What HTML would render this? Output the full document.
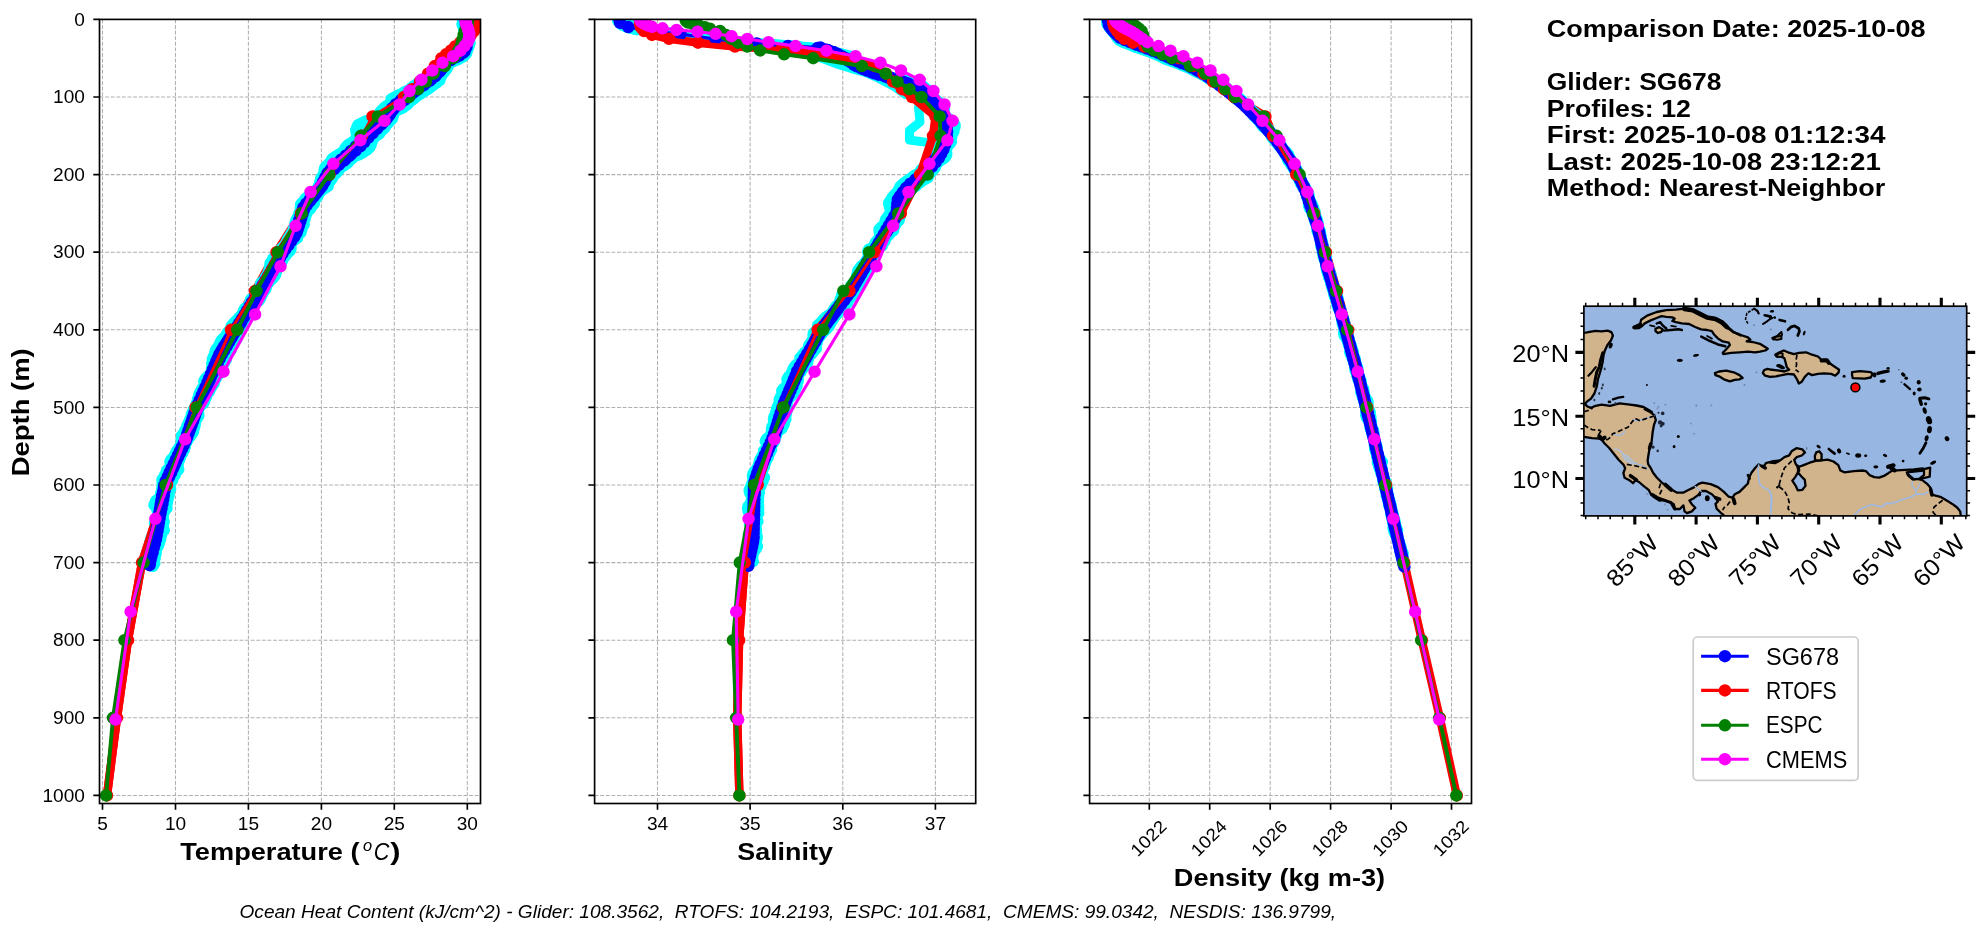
<!DOCTYPE html>
<html><head><meta charset="utf-8"><title>Glider comparison</title>
<style>html,body{margin:0;padding:0;background:#fff;overflow:hidden}svg{display:block;will-change:transform}text{font-family:"Liberation Sans",sans-serif}</style>
</head><body>
<svg width="1984" height="934" viewBox="0 0 1984 934">
<rect width="1984" height="934" fill="#fff"/>
<path d="M102.5 19.4V803.5M175.5 19.4V803.5M248.4 19.4V803.5M321.4 19.4V803.5M394.3 19.4V803.5M467.3 19.4V803.5M99.5 19.4H480.5M99.5 97.0H480.5M99.5 174.6H480.5M99.5 252.2H480.5M99.5 329.8H480.5M99.5 407.4H480.5M99.5 485.0H480.5M99.5 562.6H480.5M99.5 640.2H480.5M99.5 717.8H480.5M99.5 795.4H480.5" stroke="#b0b0b0" stroke-width="1.05" stroke-dasharray="3.9 1.7" fill="none"/>
<path d="M657.5 19.4V803.5M750.1 19.4V803.5M842.8 19.4V803.5M935.4 19.4V803.5M594.6 19.4H975.7M594.6 97.0H975.7M594.6 174.6H975.7M594.6 252.2H975.7M594.6 329.8H975.7M594.6 407.4H975.7M594.6 485.0H975.7M594.6 562.6H975.7M594.6 640.2H975.7M594.6 717.8H975.7M594.6 795.4H975.7" stroke="#b0b0b0" stroke-width="1.05" stroke-dasharray="3.9 1.7" fill="none"/>
<path d="M1149.3 19.4V803.5M1209.7 19.4V803.5M1270.2 19.4V803.5M1330.6 19.4V803.5M1391.1 19.4V803.5M1451.5 19.4V803.5M1089.6 19.4H1471.5M1089.6 97.0H1471.5M1089.6 174.6H1471.5M1089.6 252.2H1471.5M1089.6 329.8H1471.5M1089.6 407.4H1471.5M1089.6 485.0H1471.5M1089.6 562.6H1471.5M1089.6 640.2H1471.5M1089.6 717.8H1471.5M1089.6 795.4H1471.5" stroke="#b0b0b0" stroke-width="1.05" stroke-dasharray="3.9 1.7" fill="none"/>
<defs>
<clipPath id="cp0"><rect x="99.5" y="19.4" width="381.0" height="784.1"/></clipPath>
<clipPath id="cp1"><rect x="594.6" y="19.4" width="381.1" height="784.1"/></clipPath>
<clipPath id="cp2"><rect x="1089.6" y="19.4" width="381.9" height="784.1"/></clipPath>
</defs>
<g clip-path="url(#cp0)">
<polyline points="476.5,19.4 476.5,21.0 476.3,22.5 476.0,24.1 475.8,25.6 475.5,27.2 475.0,28.7 474.0,31.0 471.0,34.9 466.0,38.8 460.0,42.7 455.0,46.6 451.0,50.4 446.0,54.3 441.5,58.2 435.0,66.0 428.0,73.7 420.0,81.5 412.0,89.2 404.0,97.0 372.5,116.4 362.0,135.8 329.5,174.6 301.0,213.4 276.5,252.2 255.0,291.0 231.0,329.8 195.5,407.4 167.0,485.0 142.0,562.6 128.0,640.2 117.0,717.8 107.0,795.4" fill="none" stroke="#ff0000" stroke-width="8.4" stroke-linecap="round" stroke-linejoin="round" />
<polyline points="464.8,21.5 465.3,23.7 467.7,25.8 468.9,27.9 470.0,30.0 468.4,32.1 466.9,34.2 464.6,36.3 465.0,38.4 464.8,40.5 464.9,42.7 465.5,44.9 465.0,47.1 464.0,49.3 462.1,51.6 461.6,54.0 458.0,56.6 453.0,59.3 447.0,62.2 445.8,65.2 445.1,68.4 443.7,71.5 441.5,74.6 440.4,77.6 439.3,80.5 435.5,83.3 431.8,86.0 428.5,88.6 424.6,91.0 421.0,93.3 417.5,95.4 414.7,97.4 412.0,99.3 408.0,101.1 405.1,102.8 402.4,104.6 398.8,106.3 395.7,108.1 391.2,110.0 391.0,111.9 391.4,114.0 392.8,116.2 392.2,118.5 388.0,121.0 383.8,123.6 381.1,126.3 379.4,129.1 377.8,132.0 375.1,134.9 372.9,137.8 370.4,140.7 366.4,143.5 363.9,146.2 360.1,148.8 359.1,151.2 354.6,153.5 352.0,155.7 350.2,157.7 349.9,159.6 346.6,161.4 343.5,163.1 340.9,164.7 339.7,166.3 336.6,167.9 332.7,169.6 330.5,171.3 328.2,173.2 328.0,175.1 326.3,177.3 324.0,179.6 323.1,182.1 322.7,184.7 322.8,187.5 319.9,190.4 317.6,193.5 314.1,196.6 312.5,199.7 309.7,202.8 306.7,205.9 304.5,208.9 303.2,211.9 302.3,214.6 299.2,217.3 298.2,219.3 300.7,221.2 303.6,223.0 303.9,224.6 302.0,226.2 300.3,227.8 300.0,229.5 298.8,231.2 298.8,232.9 296.9,234.9 294.6,237.0 291.0,239.1 289.1,241.3 287.7,243.5 286.9,245.8 285.6,248.1 284.1,250.5 282.0,253.0 281.1,255.5 282.2,258.0 282.1,260.6 280.9,263.1 277.7,265.7 276.6,268.2 276.0,270.7 275.9,273.1 274.9,275.4 272.9,277.7 269.3,280.0 265.7,282.2 263.5,284.3 262.9,286.4 262.9,288.5 260.6,290.5 259.0,292.6 256.1,294.7 254.7,296.8 252.6,299.0 252.1,301.2 251.0,303.5 249.2,305.9 247.9,308.4 246.5,311.0 246.3,313.6 246.5,316.3 245.2,319.0 244.5,321.7 242.1,324.5 241.5,327.2 240.0,329.9 238.5,332.6 236.8,335.1 235.4,337.6 234.2,340.0 233.4,342.3 230.8,344.5 228.8,346.6 225.6,348.6 223.7,350.5 221.7,352.3 219.7,354.1 217.7,355.9 217.8,357.7 217.7,359.6 218.4,361.4 217.3,363.4 217.6,365.4 217.3,367.6 217.6,369.8 216.0,372.2 214.7,374.7 212.9,377.3 211.5,380.0 208.6,382.7 206.1,385.5 202.3,388.4 200.9,391.2 199.4,394.0 200.2,396.8 200.8,399.6 200.4,402.3 199.2,404.8 195.9,407.3 193.8,409.7 194.2,411.9 194.9,414.1 196.7,416.2 194.7,418.2 193.4,420.1 193.9,422.0 193.9,423.9 193.3,425.8 189.8,427.7 190.0,429.7 188.7,431.7 187.4,433.8 186.0,436.0 185.2,438.3 184.5,440.7 182.3,443.2 181.2,445.7 181.4,448.4 180.3,451.1 180.4,453.8 179.1,456.5 178.1,459.3 176.0,462.0 174.3,464.6 175.0,467.2 174.8,469.7 174.6,472.2 172.4,474.5 173.1,476.7 172.5,478.9 172.1,480.9 169.0,482.9 167.9,484.9 168.4,486.8 166.6,488.7 164.4,490.5 161.1,492.4 161.0,494.4 161.9,496.4 162.2,498.5 161.9,500.7 161.5,502.9 161.7,505.3 160.6,507.7 160.3,510.3 159.2,512.9 160.2,515.6 160.4,518.3 159.9,521.1 161.0,523.9 161.0,526.6 160.6,529.4 159.3,532.1 157.2,534.8 158.0,537.4 157.4,540.0 155.4,542.4 152.9,544.8 151.0,547.1 151.9,549.3 152.0,551.4 151.5,553.5 151.9,555.5 151.0,557.5" fill="none" stroke="#00ffff" stroke-width="12.0" stroke-linecap="round" stroke-linejoin="round" />
<polyline points="465.3,19.4 464.2,19.9 464.5,22.4 462.9,24.8 464.6,27.2 464.3,29.6 466.8,32.0 465.9,34.4 464.8,36.8 463.6,39.2 463.4,41.6 464.7,44.0 464.6,46.2 464.1,48.4 462.8,50.6 461.5,52.9 455.1,55.2 449.9,57.5 444.8,59.8 444.6,62.0 442.9,64.3 440.7,66.6 438.1,68.9 436.3,71.2 433.6,73.3 430.4,75.4 426.2,77.5 423.1,79.4 421.2,81.4 418.1,83.2 415.7,85.0 412.9,86.8 410.8,88.5 409.0,90.2 404.6,92.0 402.9,93.7 398.4,95.4 395.0,97.2 391.5,99.0 391.4,100.9 390.4,102.8 389.0,104.8 385.4,106.9 383.4,109.0 381.1,111.1 379.4,113.3 378.1,115.6 376.3,117.9 373.1,120.3 369.9,122.7 366.8,125.1 367.1,127.6 365.1,130.1 362.4,132.6 358.6,135.1 357.7,137.7 354.8,140.3 351.6,142.9 347.4,145.6 345.4,148.2 344.4,150.9 340.6,153.7 336.0,156.4 332.0,159.2 330.9,161.9 328.0,164.7 325.2,167.5 324.4,170.3 324.6,173.1 324.3,175.8 322.7,178.5 322.5,181.2 321.1,183.8 319.3,186.3 317.9,188.8 315.2,191.2 313.1,193.6 311.0,195.9 309.0,198.1 306.5,200.3 303.0,202.4 300.9,204.5 301.7,206.6 301.7,208.9 302.8,211.2 300.9,213.5 299.7,215.9 297.2,218.3 296.0,220.8 295.2,223.3 295.3,225.9 293.8,228.5 293.3,230.8 291.5,233.1 290.5,235.4 288.8,237.7 287.4,240.1 286.5,242.4 285.2,244.8 283.3,247.1 281.0,249.5 280.3,251.9 278.9,254.2 276.9,256.6 274.9,259.0 274.0,261.4 273.9,263.7 272.0,266.1 270.7,268.5 269.4,270.9 268.8,273.3 267.8,275.7 265.5,278.1 263.9,280.6 261.1,283.0 260.6,285.4 259.6,287.8 258.8,290.2 257.3,292.6 254.6,295.0 253.5,297.3 250.8,299.6 251.8,301.9 251.0,304.2 249.6,306.4 244.9,308.6 243.7,310.8 243.0,313.0 244.0,315.1 240.7,317.2 240.0,319.3 237.6,321.4 237.4,323.4 235.5,325.5 235.4,327.6 232.6,329.7 232.0,331.8 229.2,334.0 228.4,336.1 224.6,338.3 221.7,340.5 220.5,342.7 219.3,345.0 218.9,347.3 216.5,349.6 215.8,351.9 215.4,354.2 213.7,356.6 212.7,359.0 212.5,361.4 212.1,363.8 212.7,366.2 211.7,368.6 212.6,371.0 211.4,373.5 208.6,376.0 205.9,378.5 204.1,381.0 205.2,383.5 204.7,386.0 203.4,388.6 201.7,391.2 199.8,393.7 199.3,396.3 197.8,398.9 197.6,401.5 196.3,404.1 195.7,406.6 194.0,409.2 193.3,411.7 191.7,414.2 191.4,416.7 190.3,419.1 189.6,421.5 188.1,423.9 187.1,426.2 186.9,428.5 184.9,430.8 185.4,433.0 182.7,435.3 183.5,437.4 181.5,439.6 182.8,441.8 182.0,444.0 181.1,446.1 179.4,448.3 178.7,450.5 179.2,452.7 178.2,454.8 174.8,457.0 171.5,459.3 170.3,461.5 173.0,463.7 171.6,466.0 169.9,468.2 166.8,470.5 166.6,472.7 164.9,475.0 164.3,477.3 162.3,479.5 162.4,481.8 162.6,484.1 162.4,486.4 162.2,488.7 162.4,491.1 163.0,493.4 162.3,495.7 160.4,498.1 160.9,500.5 160.2,502.9 159.7,505.3 157.6,507.7 157.4,510.2 158.3,512.6 158.7,515.0 158.6,517.5 157.4,519.9 156.4,522.3 155.2,524.7 155.2,527.1 155.8,529.4 155.6,531.8 154.8,534.1 154.8,536.3 155.4,538.6 154.7,540.8 152.3,543.0 151.4,545.2 149.2,547.4 150.5,549.5 150.1,551.7 152.0,553.8" fill="none" stroke="#00ffff" stroke-width="12.0" stroke-linecap="round" stroke-linejoin="round" />
<polyline points="462.9,20.3 463.2,22.5 462.5,24.7 463.8,26.9 464.8,29.2 466.7,31.5 468.7,33.8 466.6,36.1 467.8,38.4 468.2,40.8 469.7,43.1 468.3,45.5 467.1,48.0 465.6,50.5 465.7,53.1 463.1,55.7 459.1,58.2 453.6,60.8 449.0,63.3 448.0,65.8 446.8,68.2 445.2,70.4 441.9,72.5 438.5,74.6 435.9,76.6 432.5,78.6 429.3,80.6 426.3,82.6 424.3,84.6 421.0,86.6 417.4,88.7 412.8,90.8 410.3,92.9 407.2,95.2 404.1,97.5 399.9,99.9 398.5,102.3 395.5,104.9 394.7,107.6 391.1,110.3 391.8,113.1 390.3,116.0 391.4,118.9 389.1,121.8 386.2,124.8 384.5,127.8 381.2,130.7 379.2,133.7 374.8,136.5 372.8,139.4 371.5,142.1 370.8,144.7 369.4,147.3 367.0,149.7 363.2,152.0 359.3,154.3 353.6,156.4 350.2,158.4 349.1,160.4 348.1,162.3 345.9,164.1 342.7,165.9 338.9,167.6 336.1,169.4 333.4,171.2 331.8,173.0 329.7,174.8 327.5,176.8 327.0,178.8 326.5,180.8 326.4,183.0 324.2,185.3 322.1,187.7 319.6,190.1 318.5,192.6 316.4,195.2 315.4,197.9 314.2,200.6 314.2,203.3 311.7,206.0 310.3,208.7 307.0,211.3 306.4,213.9 304.5,216.2 304.9,218.4 302.4,220.5 301.3,222.5 297.8,224.5 298.3,226.3 297.6,228.2 298.4,230.1 295.2,231.9 294.5,233.9 292.8,235.8 292.9,237.7 292.2,239.6 289.9,241.5 287.6,243.4 285.6,245.3 283.4,247.2 282.7,249.2 279.8,251.3 279.7,253.4 278.8,255.6 279.1,257.8 279.7,260.1 279.7,262.6 277.8,265.1 275.3,267.6 274.0,270.3 274.0,273.0 274.2,275.8 270.6,278.6 268.9,281.5 265.4,284.4 264.7,287.3 263.4,290.2 262.0,293.1 260.0,296.0 257.4,298.8 255.4,301.6 254.0,304.4 251.8,307.1 250.7,309.7 248.8,312.3 247.4,314.7 245.8,317.2 244.8,319.5 243.5,321.8 241.2,324.1 237.7,326.3 237.1,328.4 236.0,330.6 236.5,332.7 236.2,334.8 236.9,336.9 236.7,339.0 234.6,341.1 231.9,343.3 232.3,345.5 231.0,347.7 230.9,350.0 227.4,352.3 227.1,354.6 225.6,357.0 226.1,359.4 224.6,361.8 223.1,364.3 221.8,366.7 220.3,369.2 218.2,371.7 214.5,374.1 213.1,376.6 210.9,379.0 210.3,381.3 208.9,383.7 208.4,385.9 208.4,388.2 205.5,390.3 204.9,392.4 201.9,394.5 201.2,396.5 199.6,398.4 200.8,400.4 202.5,402.2 202.1,404.1 200.3,405.9 198.1,407.8 196.8,409.6 197.0,411.4 196.7,413.3 197.6,415.2 195.9,417.1 194.8,419.1 193.1,421.2 192.4,423.2 193.3,425.4 193.7,427.6 192.7,429.9 190.1,432.2 186.3,434.6 185.8,437.0 184.2,439.5 184.9,442.0 183.5,444.5 182.4,447.1 180.2,449.7 181.0,452.2 179.0,454.8 179.2,457.4 176.0,460.0 174.6,462.6 172.2,465.2 170.9,467.7 171.1,470.3 170.3,472.8 168.2,475.3 166.8,477.8 165.8,480.3 166.7,482.8 167.3,485.3 168.0,487.8 168.6,490.3 168.6,492.8 168.8,495.3 167.9,497.8 166.6,500.4 167.0,503.0 165.8,505.6 166.6,508.2 163.8,510.9 163.3,513.6 161.9,516.3 162.6,518.9 163.8,521.6 162.0,524.3 160.3,527.0 157.9,529.6 157.4,532.2 157.6,534.8 156.5,537.3 156.9,539.8 155.2,542.2 154.4,544.6 152.7,546.9 152.5,549.2 153.2,551.3 154.2,553.5 153.7,555.5 151.8,557.5 150.7,559.5 152.2,561.4 154.5,563.3" fill="none" stroke="#00ffff" stroke-width="12.0" stroke-linecap="round" stroke-linejoin="round" />
<polyline points="465.1,19.4 464.1,21.5 464.3,23.7 463.5,26.0 465.3,28.3 466.0,30.6 467.8,33.0 468.0,35.4 467.0,37.8 466.1,40.2 464.6,42.5 464.7,44.7 465.2,46.8 465.6,48.7 465.1,50.5 462.2,52.1 457.0,53.6 452.9,55.0 448.8,56.4 446.0,58.0 445.0,59.7 442.9,62.3 441.0,65.2 438.2,68.5 436.6,72.0 435.2,75.8 432.3,79.7 428.9,83.7 424.3,87.6 420.7,91.4 417.0,95.0 414.1,98.3 409.9,101.3 407.6,103.9 404.6,106.1 402.4,107.9 398.0,109.5 394.1,110.8 391.4,111.9 388.4,113.0 386.5,114.1 383.9,115.3 383.7,116.6 382.1,118.2 381.2,120.0 377.4,122.1 376.8,124.4 374.0,126.9 374.1,129.6 370.8,132.3 369.7,135.0 367.2,137.6 366.1,140.1 362.5,142.5 361.2,144.6 358.9,146.6 356.2,148.4 353.2,150.1 350.3,151.7 349.4,153.3 345.9,155.0 343.1,156.9 340.2,159.0 337.0,161.4 335.1,164.1 331.2,167.1 328.7,170.5 324.5,174.1 321.2,177.9 320.3,181.8 319.3,185.7 318.6,189.6 317.0,193.4 315.7,196.8 314.4,200.0 310.7,202.8 307.0,205.2 306.0,207.2 305.5,208.9 305.4,210.2 304.7,211.3 303.5,212.3 303.9,213.3 303.9,214.1 304.6,215.3 303.8,216.7 301.4,218.4 301.6,220.4 300.7,222.6 301.5,225.0 301.3,227.5 301.4,230.1 300.6,232.5 297.6,235.0 296.7,237.4 294.3,239.7 291.6,241.9 288.6,244.1 286.3,246.2 284.1,248.2 281.5,250.2 278.6,252.2 276.6,254.1 275.5,256.2 273.3,258.3 272.5,260.6 270.5,263.0 270.1,265.6 269.6,268.3 268.9,271.2 267.7,274.2 265.7,277.3 264.8,280.5 263.1,283.7 262.1,286.9 260.4,290.0 260.9,292.9 261.3,295.8 260.1,298.4 258.5,300.9 255.0,303.2 254.4,305.3 253.8,307.3 251.5,309.2 251.0,311.0 250.1,312.8 248.3,314.6 244.4,316.5 241.8,318.4 241.9,320.5 241.9,322.6 239.2,324.8 237.8,327.1 233.6,329.4 231.8,331.8 228.2,334.2 226.6,336.5 223.0,338.8 221.2,341.0 220.9,343.1 220.3,345.0 219.1,346.9 217.0,348.7 215.8,350.5 215.4,352.2 215.4,354.0 215.7,355.9 214.0,357.8 214.6,359.9 214.7,362.1 215.9,364.6 214.4,367.2 213.7,369.9 212.0,372.8 211.5,375.9 211.2,379.0 212.1,382.1 212.2,385.2 210.2,388.3 209.3,391.2 206.7,394.1 206.1,396.8 202.8,399.3 201.4,401.7 198.8,403.9 198.5,406.1 195.8,408.2 195.0,410.2 192.9,412.2 192.9,414.3 191.9,416.4 191.3,418.6 189.7,420.8 189.4,423.2 188.9,425.7 188.1,428.2 187.5,430.7 186.2,433.3 186.5,435.8 185.5,438.2 185.7,440.5 185.9,442.8 184.1,444.9 184.6,446.8 182.1,448.7 183.7,450.4 182.4,452.1 181.9,453.8 180.3,455.5 178.6,457.2 177.7,459.0 177.1,461.0 176.9,463.1 176.6,465.4 175.4,467.8 173.1,470.5 171.0,473.2 169.1,476.1 166.7,479.0 165.9,482.0 164.3,485.0 164.1,487.9 162.7,490.7 161.5,493.4 160.8,496.0 159.6,498.4 156.2,500.7 155.2,502.9 154.4,505.0 157.6,507.1 157.6,509.1 158.8,511.2 158.7,513.3 159.9,515.5 159.1,517.8 160.3,520.1 160.3,522.6 161.6,525.2 159.3,527.8 160.0,530.4 159.9,533.0 161.1,535.6 159.1,538.1 159.5,540.4 159.2,542.7 158.5,544.8 157.6,546.8 154.7,548.7 154.4,550.4 152.3,552.1 152.5,553.8 150.2,555.5" fill="none" stroke="#00ffff" stroke-width="12.0" stroke-linecap="round" stroke-linejoin="round" />
<polyline points="465.1,20.9 465.0,23.0 465.1,25.1 465.1,27.2 466.4,29.4 466.6,31.6 468.0,33.8 467.7,36.0 469.6,38.3 468.5,40.6 468.3,43.0 466.6,45.4 466.7,47.9 465.5,50.5 466.2,53.2 463.7,56.0 458.7,58.9 451.8,61.8 446.5,64.8 445.1,67.8 444.8,70.8 443.0,73.3 439.6,75.8 436.3,78.1 435.4,80.3 434.8,82.3 431.7,84.2 428.5,86.0 424.6,87.7 420.8,89.2 417.6,90.7 414.0,92.1 412.3,93.5 408.8,94.9 407.9,96.2 405.6,97.6 404.3,99.1 398.8,100.7 396.0,102.4 393.1,104.2 392.3,106.1 391.5,108.3 391.0,110.6 389.0,113.1 385.1,115.7 380.6,118.5 379.0,121.5 375.6,124.6 374.0,127.8 371.6,131.1 371.5,134.4 370.8,137.8 368.9,141.2 366.0,144.6 363.3,147.9 359.0,151.2 356.1,154.3 351.5,157.3 348.8,160.2 345.8,163.0 343.1,165.6 339.9,168.1 338.6,170.4 336.5,172.6 334.1,174.6 328.5,176.6 326.8,178.4 326.6,180.3 328.0,182.0 327.2,183.8 325.8,185.6 324.5,187.4 322.5,189.3 320.5,191.2 318.0,193.3 315.3,195.5 313.7,197.8 310.9,200.2 309.7,202.7 307.0,205.4 304.9,208.2 304.0,211.0 304.2,214.0 302.4,216.7 301.3,219.4 299.3,222.0 300.1,224.5 299.7,226.9 300.6,229.2 299.5,231.4 298.8,233.4 297.5,235.4 297.4,237.7 293.9,240.0 291.1,242.3 289.8,244.4 290.6,246.5 290.7,248.6 290.0,250.5 287.5,252.5 286.5,254.3 284.8,256.2 283.5,258.0 281.6,259.8 280.4,261.7 278.8,263.5 276.9,265.4 276.1,267.3 275.8,269.3 275.2,271.3 273.3,273.4 270.4,275.6 268.7,277.8 266.9,280.1 267.4,282.5 265.3,284.9 263.0,287.4 259.7,289.9 259.3,292.5 258.1,295.1 258.0,297.7 255.6,300.3 254.3,303.0 251.0,305.6 249.2,308.2 248.1,310.8 246.9,313.3 246.1,315.9 243.5,318.3 241.3,320.7 238.8,323.1 237.3,325.5 235.5,327.8 234.0,330.0 233.2,332.2 233.3,334.4 234.4,336.6 232.2,338.8 231.3,341.0 228.6,343.2 228.6,345.4 227.2,347.6 226.9,349.8 225.0,352.1 222.2,354.5 220.0,356.8 219.4,359.2 219.2,361.7 217.3,364.2 216.0,366.7 215.2,369.3 214.8,371.9 212.9,374.5 212.5,377.2 210.9,379.8 211.3,382.5 210.1,385.1 209.8,387.7 208.1,390.4 206.2,392.9 205.5,395.5 205.4,398.0 204.3,400.5 203.6,402.9 200.3,405.2 198.5,407.6 195.8,409.8 196.8,412.1 197.1,414.2 197.2,416.4 196.7,418.5 194.7,420.6 193.7,422.6 190.5,424.6 191.2,426.7 191.5,428.7 192.7,430.7 191.4,432.7 190.6,434.8 189.2,436.8 188.1,438.9 186.7,441.0 185.6,443.2 184.6,445.4 184.6,447.6 183.3,449.8 182.6,452.1 180.3,454.3 179.2,456.7 177.5,459.0 176.6,461.4 176.7,463.8 175.8,466.2 174.3,468.6 172.3,471.0 172.8,473.4 172.7,475.8 172.7,478.2 169.6,480.6 167.1,483.0 165.5,485.3 166.2,487.7 165.9,490.0 164.6,492.3 164.2,494.6 164.5,496.9 163.2,499.2 161.5,501.4 159.1,503.7 159.1,505.9 159.8,508.1 161.1,510.4 161.8,512.6 161.1,514.8 161.0,517.1 159.9,519.3 159.7,521.6 158.1,523.9 158.6,526.2 156.6,528.5 156.9,530.9 155.5,533.3 156.3,535.8 155.9,538.2 155.6,540.7 154.5,543.2 154.0,545.8 155.0,548.4 155.1,550.9 155.6,553.5 155.1,556.2 154.6,558.8" fill="none" stroke="#00ffff" stroke-width="12.0" stroke-linecap="round" stroke-linejoin="round" />
<polyline points="465.4,19.6 464.6,21.9 465.3,24.1 464.9,26.3 465.7,28.6 465.5,30.8 466.9,33.0 466.2,35.1 465.2,37.3 464.0,39.5 465.8,41.7 465.9,43.9 466.1,45.8 465.1,47.8 465.6,49.7 465.3,51.6 460.5,53.5 456.1,55.5 449.1,57.6 447.7,59.7 446.4,61.9 447.0,64.6 444.3,67.3 442.5,70.0 440.8,72.7 438.5,75.5 434.4,78.3 429.8,81.0 426.4,83.8 423.2,86.5 419.3,89.1 415.3,91.7 412.1,94.2 409.7,96.7 408.5,99.1 405.5,101.4 402.2,103.6 397.1,105.8 394.2,107.9 392.1,109.9 390.1,111.9 389.8,113.9 387.2,115.9 387.6,117.8 385.8,119.8 384.6,121.7 380.4,123.7 376.0,125.8 372.6,127.9 370.6,130.1 368.4,132.3 366.0,134.6 364.8,137.0 362.2,139.4 361.1,142.0 358.5,144.5 354.9,147.2 351.4,149.9 348.2,152.6 346.9,155.4 345.1,158.1 342.2,160.9 339.1,163.7 336.3,166.4 333.0,169.1 330.3,171.7 328.9,174.3 329.1,176.8 327.7,179.2 327.8,181.5 328.1,183.8 328.0,186.0 324.8,188.1 321.1,190.2 319.6,192.1 318.2,194.1 317.8,196.0 315.1,197.9 313.9,199.8 310.8,201.7 310.7,203.6 308.7,205.5 307.8,207.5 304.7,209.7 303.3,212.0 301.1,214.4 303.2,216.8 302.5,219.3 302.5,221.9 299.2,224.5 298.6,227.2 298.3,229.8 296.0,232.3 294.9,234.8 292.8,237.3 292.3,239.8 291.0,242.3 289.4,244.8 287.2,247.3 283.6,249.8 282.5,252.2 281.9,254.6 281.4,257.0 278.7,259.4 277.6,261.7 275.9,264.0 275.2,266.3 274.9,268.5 274.5,270.7 273.9,272.9 272.4,275.0 272.4,277.1 270.3,279.3 269.0,281.4 266.6,283.5 266.4,285.7 265.5,287.8 264.7,290.0 263.1,292.2 261.7,294.4 259.6,296.7 258.6,299.0 255.3,301.4 254.0,303.7 253.0,306.2 252.3,308.6 250.8,311.1 249.8,313.6 248.7,316.1 246.9,318.6 245.9,321.2 244.0,323.7 241.3,326.2 237.5,328.8 236.3,331.3 235.5,333.8 234.0,336.2 231.9,338.7 230.8,341.0 229.6,343.4 228.1,345.7 227.2,348.0 228.1,350.3 227.2,352.5 225.2,354.7 220.9,356.9 218.8,359.0 216.2,361.2 215.5,363.3 213.5,365.5 213.9,367.6 214.5,369.8 215.0,372.0 215.3,374.2 212.0,376.4 211.1,378.7 208.2,381.0 208.3,383.4 206.0,385.7 205.2,388.1 204.1,390.6 203.5,393.0 203.6,395.5 203.4,398.0 204.0,400.6 201.9,403.1 200.1,405.6 197.5,408.1 197.8,410.6 198.3,413.1 198.5,415.6 196.6,418.0 195.2,420.4 194.7,422.8 194.9,425.1 193.8,427.4 193.4,429.6 193.1,431.9 191.7,434.0 190.2,436.2 188.3,438.4 187.0,440.5 185.1,442.6 184.0,444.7 184.6,446.8 183.3,448.9 181.6,451.1 179.3,453.2 178.3,455.4 176.3,457.6 175.9,459.9 174.8,462.1 175.1,464.5 173.8,466.8 172.6,469.2 170.4,471.6 168.3,474.1 167.2,476.5 166.3,479.0 165.6,481.5 164.2,484.0 164.2,486.6 163.7,489.1 164.7,491.6 165.2,494.1 166.8,496.5 167.3,499.0 167.2,501.4 165.7,503.7 164.7,506.1 164.3,508.4 163.9,510.7 163.7,512.9 162.5,515.1 162.8,517.3 161.8,519.5 161.8,521.6 160.9,523.8 163.1,525.9 163.2,528.1 163.9,530.2 160.7,532.4 160.6,534.6 159.2,536.8 160.3,539.0 158.8,541.3 157.5,543.6 156.6,546.0 156.1,548.4 155.2,550.8 153.7,553.2 152.1,555.7 152.8,558.2 152.0,560.7" fill="none" stroke="#00ffff" stroke-width="12.0" stroke-linecap="round" stroke-linejoin="round" />
<polyline points="463.1,20.9 462.6,23.2 463.8,25.5 464.9,27.8 465.9,30.1 465.5,32.4 465.4,34.7 466.5,36.9 467.0,39.2 467.8,41.4 467.6,43.7 468.8,45.9 468.0,48.3 466.6,50.7 466.3,53.0 463.4,55.3 458.7,57.5 452.9,59.6 450.2,61.7 448.8,63.7 446.1,65.7 443.7,67.6 441.7,69.6 440.9,71.6 437.5,73.6 433.3,75.7 429.9,77.7 427.4,79.8 425.5,81.9 421.6,84.0 419.3,86.1 415.8,88.3 413.0,90.5 407.6,92.7 403.9,95.0 400.0,97.2 398.5,99.6 395.1,101.9 393.7,104.3 392.4,106.7 391.7,109.1 389.7,111.6 387.2,114.0 384.8,116.5 383.3,119.1 382.5,121.6 381.6,124.2 378.6,126.7 375.0,129.3 372.2,131.9 369.2,134.5 369.2,137.2 367.2,139.8 366.1,142.4 363.2,145.0 360.5,147.6 357.2,150.3 354.9,152.9 352.8,155.5 352.4,158.0 349.1,160.6 346.0,163.2 341.0,165.7 338.6,168.2 336.3,170.7 335.0,173.2 332.5,175.6 332.1,178.0 330.6,180.4 327.6,182.8 324.6,185.2 322.9,187.5 320.4,189.8 318.9,192.0 315.6,194.3 313.5,196.5 310.9,198.7 310.0,200.8 308.7,203.0 305.9,205.1 304.4,207.2 301.5,209.3 301.1,211.4 299.2,213.4 299.6,215.4 298.4,217.5 298.0,219.6 297.7,221.7 295.7,223.9 295.0,226.1 294.2,228.3 295.9,230.5 295.5,232.7 294.3,234.9 292.9,237.2 292.0,239.4 291.5,241.6 290.0,243.8 288.6,246.1 288.3,248.3 286.7,250.6 286.8,252.8 283.7,255.1 283.1,257.4 279.5,259.7 278.0,262.0 276.7,264.4 276.5,266.7 276.4,269.1 274.9,271.4 273.6,273.8 272.9,276.2 272.0,278.6 269.5,281.0 267.3,283.4 265.9,285.9 265.8,288.3 262.8,290.8 260.6,293.2 257.7,295.7 257.2,298.2 256.1,300.6 254.1,303.1 252.0,305.6 250.6,308.1 249.3,310.5 246.3,313.0 243.2,315.5 240.0,318.0 239.3,320.4 238.2,322.9 238.0,325.3 237.3,327.8 236.3,330.2 234.7,332.7 233.2,335.1 231.5,337.5 231.3,339.9 229.5,342.3 227.8,344.7 225.5,347.1 224.9,349.4 225.5,351.8 225.4,354.1 224.1,356.4 221.8,358.7 221.3,361.0 220.1,363.3 220.5,365.6 220.4,367.9 221.3,370.1 219.1,372.4 218.1,374.6 214.6,376.8 215.1,379.1 213.6,381.3 213.8,383.5 211.6,385.7 208.8,387.9 207.1,390.1 205.6,392.3 203.6,394.5 202.2,396.6 201.6,398.8 200.7,401.0 199.9,403.2 198.4,405.4 195.4,407.6 194.4,409.8 193.2,412.0 194.1,414.2 192.8,416.4 192.5,418.6 193.0,420.9 190.8,423.1 188.0,425.4 187.5,427.6 187.9,429.9 189.3,432.1 187.5,434.4 187.2,436.7 186.5,439.0 186.1,441.3 185.3,443.6 183.8,446.0 182.0,448.3 180.6,450.6 180.4,453.0 180.1,455.3 180.0,457.7 179.1,460.1 177.1,462.5 177.9,464.8 177.5,467.2 178.4,469.6 176.0,472.0 175.3,474.4 172.3,476.9 171.3,479.3 168.3,481.7 168.7,484.1 169.2,486.5 170.3,488.9 169.1,491.4 167.6,493.8 165.7,496.2 166.8,498.6 165.6,501.1 164.4,503.5 163.3,505.9 161.8,508.3 161.6,510.7 160.0,513.1 160.3,515.5 157.8,517.9 157.1,520.3 154.8,522.7 155.1,525.1 155.1,527.5 155.2,529.9 155.0,532.3 153.3,534.7 151.7,537.0 151.0,539.4 150.3,541.8 150.4,544.1 149.5,546.5 148.3,548.9 147.7,551.2 146.8,553.6 147.2,555.9" fill="none" stroke="#00ffff" stroke-width="12.0" stroke-linecap="round" stroke-linejoin="round" />
<polyline points="466.2,19.4 465.4,20.2 466.0,22.5 464.8,24.8 465.8,27.1 464.3,29.4 464.6,31.8 466.1,34.1 467.7,36.5 468.0,38.9 467.9,41.3 466.3,43.7 467.0,45.8 464.2,47.9 465.1,50.1 463.3,52.4 459.5,54.8 454.4,57.2 448.8,59.7 447.6,62.3 446.6,64.9 446.8,67.7 444.2,70.5 441.7,73.3 437.0,76.1 433.0,78.9 430.0,81.7 427.1,84.5 425.2,87.2 421.7,90.0 418.1,92.7 413.6,95.4 410.8,98.1 408.8,100.7 406.6,103.4 402.1,105.9 398.5,108.5 394.2,111.0 393.7,113.5 391.4,115.9 390.1,118.3 386.3,120.7 384.1,123.0 382.5,125.3 379.8,127.6 378.0,129.8 375.5,131.9 373.6,134.1 370.9,136.1 368.8,138.2 366.9,140.2 364.4,142.2 360.3,144.2 357.5,146.2 356.5,148.1 356.8,150.0 355.0,151.9 352.7,153.8 348.8,155.7 347.4,157.5 346.1,159.4 343.7,161.3 340.6,163.2 338.5,165.1 336.5,167.0 333.5,168.9 329.6,170.8 329.0,172.8 328.3,174.7 327.0,176.7 326.3,178.8 324.4,180.8 323.7,182.9 320.4,185.0 319.7,187.2 317.6,189.4 316.0,191.6 312.8,193.8 308.9,196.1 305.7,198.5 304.4,200.8 302.2,203.2 302.3,205.6 300.6,208.4 301.7,211.1 300.4,213.8 300.8,216.6 299.2,219.3 300.3,222.0 298.4,224.7 297.4,227.4 294.5,230.0 295.0,232.5 293.4,235.0 293.4,237.5 290.7,240.0 288.5,242.5 287.3,244.9 287.1,247.4 286.3,249.9 284.7,252.4 281.3,254.9 281.0,257.3 279.0,259.8 279.4,262.2 277.5,264.7 276.6,267.1 275.1,269.5 273.6,272.0 272.1,274.4 270.9,276.8 270.4,279.1 269.0,281.5 266.8,283.9 264.4,286.2 262.4,288.6 262.5,290.9 260.0,293.2 258.7,295.5 254.7,297.8 254.3,300.1 252.0,302.4 251.0,304.7 248.5,307.0 247.8,309.2 247.0,311.5 246.3,313.8 244.6,316.0 242.3,318.3 237.9,320.5 234.9,322.8 233.1,325.0 233.4,327.3 231.6,329.6 228.4,331.8 226.8,334.1 227.8,336.4 227.5,338.6 227.8,340.9 225.0,343.2 225.3,345.5 223.9,347.7 222.9,350.0 220.8,352.3 219.1,354.6 219.7,356.9 218.6,359.2 218.5,361.6 217.1,363.9 218.9,366.2 217.4,368.5 217.5,370.8 215.7,373.2 216.7,375.5 216.2,377.8 213.9,380.1 213.0,382.5 210.8,384.8 211.0,387.1 206.7,389.4 206.7,391.8 205.1,394.1 205.8,396.4 203.2,398.7 202.7,401.0 199.3,403.3 198.2,405.6 195.4,407.9 196.2,410.2 196.3,412.5 195.2,414.8 194.0,417.1 190.9,419.4 191.1,421.7 190.1,423.9 190.8,426.2 190.6,428.5 188.0,430.8 184.8,433.0 182.0,435.3 182.9,437.6 182.7,439.9 182.6,442.2 181.4,444.4 179.9,446.7 178.4,449.0 176.7,451.3 175.7,453.6 174.6,455.9 174.1,458.3 174.6,460.6 172.7,462.9 170.8,465.3 169.8,467.6 169.7,470.0 169.8,472.4 168.2,474.8 166.3,477.2 164.5,479.6 163.9,482.0 164.3,484.4 164.7,486.8 164.7,489.3 165.3,491.7 165.0,494.2 164.4,496.6 163.7,499.1 163.3,501.5 162.2,504.0 160.2,506.5 160.6,509.0 160.6,511.4 161.1,513.9 159.4,516.4 159.4,518.9 157.7,521.3 158.3,523.8 158.0,526.2 158.8,528.7 157.2,531.1 155.2,533.5 155.6,535.9 155.9,538.3 156.9,540.7 155.4,543.1 154.2,545.5 155.3,547.8 154.7,550.1 155.7,552.4 154.0,554.7 154.3,557.0 153.5,559.3 152.5,561.5 153.3,563.8 152.9,566.0" fill="none" stroke="#00ffff" stroke-width="12.0" stroke-linecap="round" stroke-linejoin="round" />
<polyline points="466.3,19.4 467.7,19.4 466.3,21.0 467.0,23.4 465.2,25.9 465.6,28.4 466.7,31.0 467.1,33.6 467.8,36.3 467.0,38.9 465.5,41.6 463.6,44.3 463.0,46.8 462.3,49.5 462.9,52.3 458.6,55.1 455.2,57.9 449.6,60.7 443.2,63.4 439.7,66.0 438.5,68.4 440.3,70.4 438.7,72.3 435.6,74.0 432.4,75.6 429.8,77.1 428.9,78.5 426.6,79.9 424.6,81.3 420.4,82.7 417.7,84.2 415.5,85.8 414.2,87.4 412.3,89.2 408.4,91.2 403.3,93.3 401.2,95.5 398.6,97.9 397.5,100.5 393.4,103.2 391.2,106.0 389.4,108.9 389.7,111.9 387.4,114.9 383.9,118.0 380.5,121.0 377.6,123.9 375.5,126.8 372.8,129.6 370.3,132.3 367.5,134.9 363.9,137.3 361.6,139.6 361.1,141.7 358.7,143.7 356.5,145.6 353.0,147.4 353.0,149.1 349.0,150.8 346.6,152.4 341.8,154.1 340.7,155.7 337.3,157.4 335.0,159.3 333.0,161.2 331.2,163.2 329.7,165.5 327.8,167.8 328.9,170.3 327.5,173.0 326.1,175.9 322.5,178.8 320.8,181.9 319.4,185.1 318.3,188.4 316.3,191.7 314.3,195.0 311.9,198.3 309.6,201.5 308.3,204.7 304.6,207.7 304.0,210.6 302.3,213.3 304.1,215.6 302.7,217.8 302.2,219.8 299.5,221.7 298.8,223.5 299.0,225.2 299.4,227.0 299.2,228.8 299.2,230.6 297.8,232.4 295.9,234.2 291.4,236.0 289.2,237.8 287.8,239.7 288.3,241.6 287.1,243.6 284.7,245.6 282.7,247.7 280.7,249.9 279.0,252.2 277.5,254.6 275.7,257.0 275.0,259.5 272.8,262.1 272.6,264.7 271.0,267.4 270.8,270.1 269.4,272.8 269.1,275.5 268.0,278.2 266.4,280.8 265.3,283.5 262.8,286.0 262.2,288.6 259.0,291.0 259.2,293.4 257.3,295.7 257.6,298.0 254.2,300.2 252.3,302.4 249.2,304.5 248.4,306.6 246.9,308.7 245.8,310.7 244.0,312.8 242.1,315.0 239.8,317.1 237.8,319.3 235.6,321.6 233.5,323.9 231.4,326.3 231.3,328.7 230.1,331.2 230.0,333.8 228.1,336.5 226.1,339.1 224.8,341.9 222.9,344.6 222.4,347.4 219.7,350.1 220.2,352.9 219.5,355.6 220.1,358.2 219.0,360.8 220.8,363.4 221.3,365.8 219.1,368.2 215.0,370.4 211.5,372.6 211.7,374.7 212.0,376.7 212.8,378.6 210.4,380.5 208.6,382.3 207.1,384.1 206.9,385.8 205.6,387.6 203.5,389.3 203.2,391.1 202.4,392.9 201.6,394.8 199.3,396.8 199.2,398.8 198.3,400.9 197.8,403.1 197.4,405.4 196.6,407.7 195.5,410.2 193.8,412.7 193.0,415.3 193.7,417.9 191.3,420.6 190.9,423.4 190.7,426.1 192.3,428.8 190.1,431.6 187.3,434.3 186.3,436.9 186.0,439.5 185.6,442.1 183.0,444.5 183.3,447.0 181.8,449.3 181.3,451.6 179.4,453.9 177.7,456.0 176.7,458.2 176.3,460.3 175.0,462.4 174.2,464.5 172.4,466.6 172.8,468.7 171.8,470.9 171.2,473.1 170.9,475.4 169.9,477.7 168.5,480.1 166.0,482.5 165.5,485.0 164.4,487.6 164.0,490.2 164.6,492.9 164.5,495.6 162.9,498.3 161.1,501.1 160.0,503.8 161.1,506.5 159.8,509.2 158.3,511.8 158.1,514.4 157.2,516.9 157.7,519.3 156.0,521.6 155.7,523.9 156.6,526.0 155.8,528.1 156.3,530.1 154.6,532.0 154.8,533.9 154.7,535.7 155.7,537.5 156.2,539.3 155.5,541.1 154.8,542.8 153.4,544.6 153.5,546.5 151.7,548.4 152.0,550.4 150.8,552.5" fill="none" stroke="#00ffff" stroke-width="12.0" stroke-linecap="round" stroke-linejoin="round" />
<polyline points="366.0,119.5 357.0,124.0 354.5,130.0 355.5,136.0 360.0,140.0" fill="none" stroke="#00ffff" stroke-width="9.0" stroke-linecap="round" stroke-linejoin="round" />
<polyline points="167.0,485.0 142.0,562.6 128.0,640.2 117.0,717.8 107.0,795.4" fill="none" stroke="#ff0000" stroke-width="8.4" stroke-linecap="round" stroke-linejoin="round" />
<polyline points="466.2,19.8 466.3,22.1 466.4,24.4 466.4,26.7 466.5,29.0 466.5,31.3 466.5,33.5 466.5,35.8 466.4,38.1 466.2,40.4 466.1,42.7 466.1,45.0 465.8,47.3 464.7,49.6 463.3,51.9 460.7,54.3 456.1,56.6 451.5,59.0 446.9,61.5 444.8,63.9 443.3,66.5 441.7,68.9 439.8,71.4 437.5,73.9 435.1,76.3 432.4,78.7 429.2,81.2 426.0,83.5 422.8,85.9 419.6,88.2 416.3,90.5 413.2,92.7 410.3,95.0 407.5,97.2 404.8,99.4 402.0,101.6 399.3,103.8 396.6,106.0 394.1,108.3 392.5,110.5 390.9,112.8 389.3,115.1 387.7,117.4 385.8,119.8 383.3,122.2 380.8,124.6 378.3,127.0 375.7,129.5 373.2,131.9 370.7,134.3 368.4,136.8 366.2,139.2 363.9,141.6 361.7,144.0 359.4,146.3 356.8,148.7 354.3,151.0 351.8,153.2 349.3,155.5 346.6,157.7 343.9,159.9 341.2,162.1 338.6,164.2 336.1,166.4 333.7,168.6 331.2,170.8 328.8,173.1 327.5,175.3 326.2,177.6 324.9,179.9 323.6,182.3 322.2,184.7 320.7,187.1 318.6,189.6 316.6,192.0 314.6,194.5 312.6,197.0 310.7,199.5 308.8,202.0 306.9,204.4 305.0,206.9 303.6,209.3 303.0,211.7 302.4,214.0 301.8,216.2 301.1,218.4 300.5,220.6 299.8,222.8 299.1,225.0 298.3,227.2 297.6,229.4 296.8,231.6 295.9,233.8 294.2,236.1 292.4,238.4 290.7,240.7 288.9,243.0 287.2,245.3 285.5,247.7 283.9,250.0 282.4,252.4 281.1,254.7 279.9,257.1 278.7,259.5 277.5,261.8 276.3,264.2 275.1,266.6 273.9,268.9 272.7,271.3 271.4,273.6 269.9,275.9 268.4,278.2 266.8,280.5 265.3,282.8 263.7,285.1 262.1,287.4 260.5,289.7 258.9,291.9 257.4,294.2 255.9,296.5 254.4,298.8 252.9,301.1 251.5,303.4 250.1,305.8 248.8,308.1 247.4,310.5 246.1,312.9 244.8,315.3 243.5,317.7 242.2,320.1 240.8,322.5 239.4,324.9 238.0,327.3 236.5,329.7 235.0,332.1 233.5,334.5 231.9,336.8 230.3,339.1 228.7,341.4 227.1,343.7 225.6,346.0 224.1,348.2 222.7,350.4 221.3,352.7 220.0,354.9 219.0,357.1 218.1,359.3 217.3,361.6 216.4,363.8 215.5,366.1 214.6,368.4 213.6,370.7 212.7,373.0 211.6,375.4 210.5,377.8 209.4,380.2 208.3,382.6 207.1,385.0 206.0,387.5 204.8,389.9 203.7,392.3 202.6,394.7 201.6,397.1 200.5,399.5 199.6,401.9 198.6,404.3 197.7,406.6 196.8,408.9 196.1,411.2 195.4,413.5 194.7,415.8 193.9,418.0 193.2,420.3 192.4,422.5 191.6,424.7 190.7,427.0 189.9,429.2 189.0,431.5 188.0,433.8 187.1,436.1 186.2,438.4 185.2,440.8 184.0,443.1 182.8,445.5 181.7,447.9 180.6,450.3 179.5,452.7 178.5,455.1 177.5,457.5 176.5,459.9 175.6,462.3 174.6,464.7 173.6,467.0 172.6,469.4 171.6,471.7 170.6,474.0 169.5,476.3 168.4,478.6 167.2,480.9 166.1,483.1 165.1,485.4 164.6,487.6 164.0,489.8 163.5,492.1 163.0,494.3 162.5,496.6 162.1,498.9 161.7,501.2 161.3,503.5 160.9,505.8 160.6,508.2 160.3,510.5 160.0,512.9 159.7,515.3 159.3,517.7 159.0,520.1 158.7,522.6 158.3,525.0 157.9,527.4 157.4,529.8 156.9,532.2 156.4,534.6 155.9,537.0 155.4,539.3 154.8,541.7 154.1,544.0 153.5,546.3 152.8,548.6 152.2,550.8 151.7,553.1 151.1,555.4 150.6,557.6" fill="none" stroke="#0000ff" stroke-width="3.1" stroke-linecap="round" stroke-linejoin="round" />
<polyline points="465.9,19.4 465.9,21.4 466.0,23.7 466.0,26.1 466.1,28.4 466.1,30.7 466.2,33.1 466.2,35.4 466.1,37.8 466.1,40.1 466.0,42.5 466.0,44.8 465.8,47.1 464.6,49.4 463.3,51.7 460.7,54.0 456.0,56.4 451.3,58.7 446.7,61.0 444.4,63.3 442.8,65.6 441.2,68.0 439.2,70.3 436.9,72.6 434.5,74.9 431.8,77.2 428.6,79.4 425.5,81.7 422.3,83.9 419.1,86.2 416.0,88.4 412.9,90.6 410.1,92.8 407.3,95.0 404.5,97.2 401.7,99.4 399.0,101.7 396.2,103.9 393.6,106.1 392.0,108.3 390.3,110.6 388.6,112.8 387.0,115.1 385.1,117.4 382.6,119.7 380.2,122.0 377.7,124.3 375.2,126.6 372.8,129.0 370.4,131.3 368.3,133.7 366.1,136.0 363.9,138.4 361.7,140.7 359.5,143.1 356.9,145.5 354.3,147.9 351.7,150.3 349.2,152.7 346.4,155.0 343.6,157.5 340.8,159.9 338.1,162.3 335.5,164.7 333.0,167.1 330.5,169.5 328.1,171.9 326.9,174.4 325.7,176.8 324.5,179.2 323.3,181.6 322.1,184.0 320.6,186.4 318.7,188.7 316.8,191.1 314.8,193.4 312.9,195.8 310.9,198.1 309.0,200.4 307.0,202.7 305.0,205.0 303.5,207.3 302.7,209.6 301.9,211.9 301.1,214.2 300.3,216.5 299.6,218.9 298.8,221.2 298.1,223.6 297.3,225.9 296.6,228.3 295.9,230.7 295.2,233.0 293.5,235.3 291.9,237.7 290.3,240.0 288.7,242.3 287.1,244.7 285.4,247.0 283.8,249.3 282.3,251.7 281.0,254.0 279.7,256.3 278.4,258.7 277.1,261.0 275.8,263.3 274.5,265.7 273.1,268.0 271.8,270.4 270.4,272.7 268.9,275.0 267.4,277.4 265.9,279.7 264.4,282.1 263.0,284.4 261.5,286.8 260.0,289.1 258.6,291.5 257.2,293.8 255.7,296.1 254.3,298.5 252.9,300.8 251.5,303.1 250.1,305.4 248.7,307.7 247.3,310.0 245.9,312.3 244.5,314.6 243.1,316.9 241.7,319.2 240.3,321.5 238.9,323.8 237.4,326.0 235.9,328.3 234.5,330.6 233.0,332.9 231.5,335.2 230.0,337.5 228.5,339.8 227.0,342.1 225.5,344.4 224.1,346.7 222.7,349.0 221.2,351.3 219.8,353.6 218.8,355.9 217.8,358.3 216.7,360.6 215.7,362.9 214.7,365.3 213.7,367.6 212.7,370.0 211.7,372.3 210.8,374.7 209.8,377.0 208.8,379.4 207.8,381.7 206.7,384.1 205.7,386.5 204.7,388.8 203.6,391.2 202.6,393.6 201.5,396.0 200.5,398.4 199.4,400.7 198.4,403.1 197.3,405.5 196.3,407.9 195.5,410.2 194.6,412.6 193.8,415.0 193.0,417.3 192.2,419.7 191.4,422.0 190.6,424.4 189.8,426.7 189.0,429.0 188.3,431.3 187.5,433.6 186.7,435.9 185.9,438.2 185.0,440.5 183.9,442.8 182.8,445.1 181.7,447.4 180.6,449.7 179.5,452.0 178.4,454.3 177.3,456.6 176.2,458.9 175.0,461.2 173.9,463.5 172.8,465.8 171.7,468.2 170.6,470.5 169.5,472.8 168.4,475.1 167.4,477.4 166.3,479.7 165.3,482.0 164.5,484.4 164.1,486.7 163.7,489.0 163.4,491.3 163.0,493.7 162.6,496.0 162.2,498.3 161.8,500.7 161.4,503.0 161.0,505.3 160.6,507.7 160.2,510.0 159.7,512.4 159.3,514.7 158.8,517.1 158.4,519.4 158.0,521.8 157.5,524.1 157.1,526.5 156.6,528.8 156.2,531.1 155.8,533.5 155.4,535.8 155.0,538.1 154.5,540.4 154.0,542.7 153.4,545.0 152.9,547.3 152.3,549.6 151.8,551.9 151.2,554.2 150.7,556.5 150.1,558.8 149.6,561.1" fill="none" stroke="#0000ff" stroke-width="3.1" stroke-linecap="round" stroke-linejoin="round" />
<polyline points="465.9,19.6 466.0,21.9 466.1,24.2 466.2,26.5 466.3,28.8 466.4,31.1 466.5,33.4 466.6,35.8 466.6,38.1 466.6,40.4 466.6,42.8 466.6,45.1 466.4,47.5 465.3,49.8 464.1,52.2 461.5,54.6 456.8,57.0 452.1,59.3 447.5,61.7 445.3,64.1 443.6,66.4 441.9,68.7 439.8,71.0 437.4,73.3 435.0,75.5 432.2,77.8 429.0,80.1 425.8,82.3 422.6,84.6 419.4,86.9 416.3,89.1 413.2,91.4 410.4,93.7 407.6,96.0 404.8,98.3 402.1,100.7 399.4,103.0 396.7,105.4 394.1,107.8 392.5,110.2 390.9,112.6 389.2,115.1 387.6,117.5 385.7,120.0 383.3,122.4 380.9,124.9 378.4,127.3 376.0,129.8 373.5,132.2 371.2,134.6 369.0,137.1 366.8,139.4 364.7,141.8 362.5,144.2 360.2,146.5 357.6,148.8 355.0,151.1 352.4,153.4 349.8,155.6 347.0,157.9 344.2,160.1 341.4,162.3 338.6,164.5 336.0,166.7 333.5,168.9 331.0,171.2 328.6,173.4 327.4,175.7 326.2,177.9 325.0,180.2 323.8,182.5 322.6,184.8 321.2,187.1 319.3,189.5 317.4,191.9 315.5,194.2 313.6,196.6 311.7,199.0 309.8,201.4 307.8,203.8 305.9,206.2 304.3,208.6 303.6,211.0 302.8,213.3 302.0,215.6 301.2,217.9 300.4,220.2 299.6,222.4 298.7,224.7 297.9,226.9 297.1,229.1 296.3,231.4 295.6,233.6 293.9,235.9 292.2,238.1 290.5,240.4 288.9,242.6 287.3,244.9 285.7,247.1 284.1,249.3 282.6,251.6 281.4,253.9 280.2,256.2 279.0,258.5 277.8,260.8 276.6,263.1 275.3,265.4 274.1,267.8 272.9,270.2 271.6,272.6 270.2,275.0 268.8,277.4 267.3,279.8 265.8,282.3 264.3,284.7 262.8,287.1 261.3,289.6 259.7,292.0 258.2,294.5 256.6,296.9 255.1,299.3 253.5,301.7 252.0,304.1 250.4,306.5 248.9,308.9 247.4,311.3 246.0,313.6 244.5,316.0 243.1,318.3 241.7,320.6 240.3,322.9 238.9,325.2 237.5,327.5 236.2,329.8 234.9,332.0 233.6,334.3 232.3,336.6 231.0,338.9 229.7,341.2 228.4,343.5 227.0,345.8 225.7,348.1 224.3,350.4 222.9,352.8 221.5,355.1 220.4,357.4 219.3,359.8 218.2,362.1 217.0,364.5 215.9,366.9 214.7,369.2 213.5,371.6 212.4,373.9 211.3,376.3 210.2,378.6 209.1,380.9 208.0,383.2 206.9,385.5 205.9,387.8 204.9,390.1 203.8,392.4 202.9,394.7 201.9,396.9 200.9,399.2 200.0,401.4 199.0,403.6 198.1,405.9 197.2,408.1 196.5,410.3 195.7,412.6 194.9,414.8 194.2,417.0 193.4,419.3 192.6,421.5 191.8,423.8 191.0,426.1 190.1,428.4 189.3,430.7 188.4,433.0 187.6,435.3 186.7,437.7 185.7,440.0 184.6,442.4 183.4,444.7 182.2,447.1 181.1,449.5 179.9,451.9 178.8,454.2 177.7,456.6 176.6,459.0 175.5,461.4 174.4,463.8 173.3,466.1 172.3,468.5 171.3,470.9 170.2,473.2 169.2,475.6 168.2,478.0 167.2,480.3 166.2,482.7 165.5,485.1 165.1,487.4 164.8,489.8 164.4,492.1 164.0,494.5 163.6,496.9 163.2,499.3 162.8,501.6 162.3,504.0 161.9,506.4 161.4,508.8 160.9,511.2 160.4,513.6 159.9,516.0 159.4,518.4 158.9,520.8 158.4,523.2 157.9,525.6 157.4,528.0 156.9,530.3 156.4,532.7 156.0,535.1 155.5,537.4 155.1,539.8 154.7,542.1 154.1,544.4 153.6,546.7 153.0,549.0 152.5,551.3 152.0,553.5 151.5,555.8 151.0,558.0 150.5,560.3 150.0,562.5 149.8,564.7" fill="none" stroke="#0000ff" stroke-width="3.1" stroke-linecap="round" stroke-linejoin="round" />
<polyline points="465.9,19.4 465.9,21.7 466.0,24.0 466.0,26.3 466.0,28.6 466.1,31.0 466.2,33.3 466.2,35.6 466.1,38.0 466.1,40.3 466.0,42.6 466.0,44.9 465.9,47.2 464.7,49.5 463.5,51.7 460.9,53.9 456.2,56.0 451.6,58.2 447.1,60.3 444.9,62.5 443.4,64.7 441.8,67.1 439.8,69.5 437.5,72.0 435.2,74.6 432.5,77.2 429.3,79.9 426.1,82.5 422.9,85.2 419.7,87.8 416.5,90.4 413.3,92.9 410.4,95.4 407.5,97.8 404.6,100.1 401.7,102.3 398.9,104.5 396.0,106.6 393.4,108.7 391.6,110.8 389.9,112.8 388.2,114.9 386.5,117.1 384.6,119.2 382.2,121.5 379.8,123.8 377.4,126.1 375.0,128.4 372.7,130.8 370.4,133.2 368.4,135.6 366.3,138.0 364.3,140.4 362.2,142.7 360.1,145.0 357.6,147.3 355.1,149.5 352.6,151.7 350.0,153.9 347.2,156.1 344.4,158.3 341.5,160.5 338.7,162.8 336.1,165.1 333.4,167.5 330.8,170.0 328.2,172.5 326.9,175.1 325.5,177.7 324.2,180.4 322.8,183.0 321.5,185.7 320.0,188.3 318.0,190.8 316.1,193.3 314.2,195.8 312.3,198.1 310.4,200.4 308.6,202.6 306.8,204.7 304.9,206.8 303.5,208.8 302.9,210.9 302.3,212.9 301.7,215.0 301.1,217.2 300.5,219.4 299.8,221.6 299.2,223.9 298.5,226.3 297.8,228.6 297.1,231.0 296.3,233.4 294.6,235.7 292.9,238.1 291.2,240.4 289.4,242.7 287.7,245.0 285.9,247.3 284.1,249.5 282.4,251.8 281.0,254.1 279.6,256.3 278.2,258.6 276.8,260.9 275.5,263.2 274.1,265.5 272.8,267.9 271.5,270.3 270.2,272.8 268.8,275.2 267.4,277.7 266.0,280.2 264.6,282.7 263.3,285.2 261.9,287.7 260.5,290.1 259.2,292.6 257.8,295.0 256.4,297.3 255.0,299.6 253.6,301.9 252.2,304.2 250.8,306.4 249.3,308.7 247.9,310.9 246.4,313.1 244.9,315.3 243.4,317.6 241.9,319.9 240.3,322.1 238.8,324.5 237.2,326.8 235.6,329.1 234.0,331.4 232.4,333.8 230.8,336.1 229.2,338.4 227.7,340.7 226.2,343.0 224.8,345.3 223.4,347.5 222.0,349.7 220.7,351.9 219.4,354.2 218.5,356.4 217.6,358.6 216.7,360.9 215.8,363.1 214.9,365.4 214.1,367.8 213.2,370.2 212.3,372.6 211.4,375.0 210.5,377.5 209.5,380.0 208.5,382.5 207.5,385.0 206.4,387.4 205.4,389.9 204.3,392.3 203.2,394.7 202.1,397.1 201.0,399.4 199.9,401.7 198.8,404.0 197.6,406.3 196.6,408.6 195.7,410.8 194.8,413.1 193.9,415.4 193.0,417.7 192.2,420.0 191.4,422.4 190.6,424.7 189.8,427.1 189.0,429.4 188.3,431.8 187.5,434.2 186.8,436.5 186.1,438.9 185.3,441.2 184.3,443.4 183.4,445.7 182.4,447.9 181.4,450.1 180.4,452.3 179.3,454.5 178.3,456.7 177.2,459.0 176.1,461.2 175.0,463.4 173.8,465.7 172.7,468.0 171.5,470.4 170.3,472.8 169.1,475.2 167.9,477.6 166.7,480.1 165.5,482.5 164.5,485.0 164.0,487.4 163.5,489.9 163.0,492.3 162.5,494.6 162.0,497.0 161.6,499.3 161.2,501.6 160.8,503.9 160.4,506.2 160.1,508.4 159.7,510.7 159.4,513.0 159.0,515.3 158.7,517.6 158.4,520.0 158.1,522.3 157.8,524.7 157.5,527.1 157.2,529.5 156.8,531.8 156.5,534.2 156.1,536.6 155.7,538.9 155.2,541.2 154.5,543.5 153.9,545.8 153.2,548.0 152.5,550.2 151.9,552.4 151.2,554.6 150.5,556.8 149.8,559.1 149.1,561.3" fill="none" stroke="#0000ff" stroke-width="3.1" stroke-linecap="round" stroke-linejoin="round" />
<polyline points="466.0,19.7 466.1,22.0 466.2,24.3 466.3,26.6 466.3,28.8 466.4,31.1 466.5,33.4 466.5,35.8 466.5,38.1 466.4,40.4 466.4,42.7 466.3,45.1 466.1,47.5 465.0,49.8 463.7,52.2 461.0,54.7 456.3,57.1 451.7,59.5 447.0,62.0 444.8,64.5 443.2,66.9 441.6,69.3 439.6,71.6 437.3,74.0 435.0,76.3 432.3,78.5 429.2,80.8 426.1,83.0 422.9,85.2 419.8,87.4 416.7,89.5 413.6,91.7 410.9,93.8 408.1,96.0 405.4,98.1 402.6,100.2 399.8,102.4 397.1,104.6 394.5,106.8 392.8,109.0 391.0,111.2 389.3,113.5 387.6,115.9 385.7,118.2 383.2,120.6 380.7,123.0 378.2,125.5 375.7,128.0 373.2,130.5 370.8,133.0 368.7,135.5 366.5,138.1 364.3,140.6 362.2,143.1 359.9,145.7 357.3,148.2 354.8,150.7 352.3,153.1 349.7,155.6 347.0,158.0 344.2,160.4 341.4,162.7 338.6,165.1 336.0,167.4 333.5,169.6 331.0,171.9 328.6,174.1 327.3,176.4 326.0,178.6 324.8,180.8 323.5,183.0 322.3,185.2 320.8,187.5 318.9,189.7 316.9,192.0 315.0,194.3 313.1,196.6 311.1,199.0 309.2,201.3 307.3,203.7 305.4,206.1 303.9,208.6 303.1,211.0 302.4,213.4 301.7,215.8 301.0,218.2 300.3,220.6 299.6,222.9 298.9,225.3 298.1,227.5 297.4,229.8 296.7,232.1 296.0,234.4 294.4,236.7 292.7,239.0 291.1,241.3 289.5,243.6 287.8,245.9 286.2,248.1 284.5,250.4 283.0,252.6 281.7,254.9 280.4,257.1 279.1,259.3 277.8,261.5 276.5,263.8 275.2,266.0 273.9,268.3 272.6,270.5 271.3,272.8 269.8,275.1 268.3,277.4 266.9,279.7 265.4,282.0 263.9,284.3 262.4,286.7 260.9,289.0 259.5,291.4 258.0,293.8 256.5,296.2 255.0,298.5 253.5,300.9 252.0,303.3 250.6,305.7 249.1,308.1 247.7,310.5 246.2,312.9 244.8,315.2 243.4,317.6 241.9,319.9 240.5,322.3 239.1,324.6 237.6,326.9 236.2,329.2 234.8,331.5 233.3,333.8 231.9,336.1 230.4,338.4 229.0,340.7 227.6,343.0 226.1,345.3 224.7,347.6 223.3,349.9 221.9,352.3 220.4,354.6 219.4,356.9 218.3,359.3 217.3,361.6 216.2,364.0 215.2,366.4 214.1,368.7 213.1,371.1 212.1,373.5 211.1,375.9 210.1,378.3 209.2,380.7 208.2,383.1 207.2,385.5 206.2,387.9 205.2,390.2 204.2,392.6 203.2,395.0 202.2,397.3 201.2,399.7 200.2,402.0 199.2,404.3 198.2,406.6 197.3,409.0 196.5,411.3 195.7,413.5 194.9,415.8 194.1,418.1 193.2,420.4 192.4,422.6 191.6,424.9 190.8,427.2 190.0,429.4 189.1,431.7 188.3,434.0 187.5,436.3 186.7,438.5 185.7,440.8 184.6,443.1 183.5,445.4 182.4,447.7 181.3,450.0 180.2,452.3 179.1,454.7 178.0,457.0 176.9,459.3 175.8,461.7 174.7,464.0 173.6,466.3 172.5,468.7 171.4,471.0 170.3,473.4 169.2,475.7 168.1,478.1 167.0,480.4 165.9,482.7 165.0,485.1 164.6,487.4 164.2,489.7 163.7,492.1 163.3,494.4 162.9,496.7 162.4,499.0 162.0,501.3 161.6,503.6 161.1,505.9 160.7,508.3 160.3,510.6 159.9,512.9 159.4,515.2 159.0,517.5 158.6,519.8 158.2,522.1 157.8,524.4 157.5,526.8 157.1,529.1 156.7,531.4 156.3,533.8 155.9,536.1 155.5,538.5 155.1,540.8 154.5,543.2 153.9,545.6 153.4,548.0 152.8,550.3 152.2,552.7 151.6,555.1 151.1,557.5 150.5,559.9" fill="none" stroke="#0000ff" stroke-width="3.1" stroke-linecap="round" stroke-linejoin="round" />
<polyline points="466.0,19.4 466.1,21.8 466.2,24.1 466.3,26.4 466.3,28.7 466.4,31.0 466.5,33.3 466.6,35.6 466.5,37.9 466.5,40.2 466.5,42.5 466.4,44.8 466.3,47.0 465.2,49.3 463.9,51.5 461.3,53.8 456.6,56.0 452.0,58.3 447.4,60.6 445.3,62.8 443.7,65.2 442.1,67.5 440.1,69.9 437.8,72.4 435.5,74.8 432.8,77.2 429.7,79.6 426.6,82.0 423.4,84.4 420.3,86.8 417.1,89.2 414.0,91.6 411.2,94.0 408.4,96.3 405.6,98.7 402.8,101.0 400.0,103.3 397.2,105.6 394.5,107.9 392.8,110.1 391.0,112.4 389.2,114.7 387.5,116.9 385.5,119.2 383.0,121.4 380.4,123.7 377.9,125.9 375.4,128.2 372.9,130.5 370.5,132.8 368.3,135.1 366.2,137.4 364.0,139.8 361.9,142.1 359.6,144.5 357.1,146.9 354.6,149.3 352.1,151.7 349.6,154.1 346.9,156.5 344.1,158.9 341.4,161.3 338.7,163.7 336.2,166.1 333.7,168.5 331.2,170.9 328.8,173.3 327.6,175.7 326.4,178.0 325.2,180.3 324.0,182.6 322.8,184.9 321.3,187.2 319.4,189.5 317.5,191.8 315.5,194.0 313.6,196.3 311.7,198.5 309.7,200.7 307.8,203.0 305.8,205.2 304.3,207.5 303.5,209.7 302.8,212.0 302.0,214.4 301.2,216.7 300.5,219.1 299.7,221.4 298.9,223.8 298.2,226.2 297.4,228.6 296.6,231.0 295.9,233.3 294.2,235.7 292.5,238.0 290.8,240.4 289.2,242.8 287.5,245.1 285.9,247.5 284.2,249.8 282.7,252.2 281.4,254.5 280.1,256.9 278.8,259.2 277.5,261.6 276.3,263.9 275.0,266.2 273.7,268.5 272.5,270.8 271.2,273.1 269.8,275.4 268.4,277.7 267.0,280.0 265.5,282.3 264.1,284.5 262.7,286.8 261.3,289.1 259.9,291.4 258.4,293.7 257.0,296.0 255.5,298.4 254.1,300.7 252.6,303.0 251.2,305.3 249.8,307.7 248.3,310.0 246.9,312.4 245.5,314.8 244.1,317.1 242.7,319.5 241.2,321.9 239.8,324.2 238.4,326.6 236.9,329.0 235.5,331.3 234.0,333.7 232.6,336.1 231.0,338.4 229.5,340.7 228.0,343.1 226.5,345.4 225.0,347.7 223.5,350.0 222.0,352.3 220.5,354.6 219.4,356.9 218.3,359.2 217.2,361.5 216.1,363.8 215.0,366.1 213.9,368.4 212.9,370.7 211.9,373.0 210.9,375.3 209.9,377.6 208.9,379.9 208.0,382.3 207.0,384.6 206.0,386.9 205.1,389.3 204.1,391.6 203.1,394.0 202.1,396.3 201.2,398.7 200.2,401.1 199.3,403.4 198.3,405.8 197.4,408.2 196.6,410.5 195.8,412.9 195.0,415.2 194.2,417.6 193.4,419.9 192.6,422.3 191.7,424.6 190.9,426.9 190.1,429.2 189.3,431.5 188.4,433.8 187.6,436.1 186.7,438.4 185.8,440.7 184.7,443.0 183.6,445.3 182.4,447.6 181.3,449.9 180.2,452.1 179.1,454.4 178.0,456.7 176.9,459.0 175.7,461.3 174.6,463.7 173.5,466.0 172.4,468.3 171.3,470.7 170.2,473.0 169.2,475.4 168.1,477.7 167.0,480.1 165.9,482.4 165.1,484.8 164.7,487.2 164.3,489.5 163.9,491.9 163.5,494.3 163.1,496.6 162.8,499.0 162.4,501.3 162.0,503.6 161.6,506.0 161.2,508.3 160.8,510.6 160.5,512.9 160.1,515.2 159.7,517.5 159.3,519.8 158.9,522.1 158.6,524.4 158.2,526.7 157.8,529.0 157.4,531.3 157.0,533.6 156.6,535.9 156.2,538.2 155.7,540.5 155.1,542.8 154.5,545.1 153.9,547.5 153.2,549.8 152.6,552.2 152.0,554.5 151.4,556.9 150.7,559.2 150.1,561.6 149.7,564.0" fill="none" stroke="#0000ff" stroke-width="3.1" stroke-linecap="round" stroke-linejoin="round" />
<path d="M466.2 20.2h0M466.4 24.4h0M466.4 28.6h0M466.5 32.8h0M466.4 37.0h0M466.2 41.1h0M466.0 45.4h0M464.7 49.6h0M461.2 53.9h0M453.0 58.2h0M445.9 62.7h0M442.8 67.3h0M439.4 71.8h0M435.1 76.3h0M429.7 80.8h0M423.9 85.1h0M417.9 89.3h0M412.2 93.5h0M407.1 97.6h0M402.0 101.6h0M397.0 105.7h0M393.0 109.8h0M390.1 114.0h0M387.0 118.2h0M382.9 122.6h0M378.3 127.0h0M373.6 131.5h0M369.2 136.0h0M365.1 140.4h0M360.9 144.8h0M356.4 149.0h0M351.8 153.2h0M347.1 157.3h0M342.1 161.3h0M337.4 165.3h0M332.8 169.4h0M328.6 173.4h0M326.2 177.6h0M323.8 181.9h0M321.2 186.3h0M317.6 190.8h0M313.9 195.3h0M310.4 199.9h0M306.9 204.4h0M303.9 208.9h0M302.6 213.2h0M301.4 217.3h0M300.3 221.3h0M299.0 225.3h0M297.6 229.4h0M296.1 233.5h0M293.0 237.6h0M289.8 241.9h0M286.7 246.1h0M283.6 250.4h0M281.1 254.7h0M278.9 259.1h0M276.7 263.4h0M274.5 267.7h0M272.2 272.1h0M269.6 276.3h0M266.8 280.5h0M263.9 284.7h0M261.0 288.9h0M258.2 293.1h0M255.4 297.3h0M252.7 301.5h0M250.1 305.8h0M247.7 310.1h0M245.2 314.5h0M242.8 318.9h0M240.4 323.3h0M237.8 327.7h0M235.0 332.1h0M232.1 336.4h0M229.2 340.7h0M226.3 344.8h0M223.6 349.0h0M221.1 353.0h0M219.0 357.1h0M217.4 361.2h0M215.8 365.3h0M214.1 369.6h0M212.3 373.8h0M210.3 378.2h0M208.3 382.6h0M206.1 387.0h0M204.1 391.5h0M202.1 395.9h0M200.2 400.3h0M198.4 404.7h0M196.8 408.9h0M195.5 413.1h0M194.2 417.3h0M192.8 421.4h0M191.3 425.5h0M189.7 429.6h0M188.0 433.8h0M186.3 438.0h0M184.4 442.3h0M182.3 446.7h0M180.2 451.1h0M178.3 455.5h0M176.5 459.9h0M174.7 464.3h0M172.9 468.6h0M171.1 472.9h0M169.1 477.1h0M167.0 481.2h0M165.1 485.4h0M164.1 489.5h0M163.2 493.6h0M162.3 497.7h0M161.5 501.9h0M160.9 506.2h0M160.3 510.5h0M159.7 514.9h0M159.1 519.3h0M158.5 523.8h0M157.7 528.2h0M156.8 532.6h0M155.9 537.0h0M154.9 541.3h0M153.7 545.5h0M152.5 549.7h0M151.5 553.9h0M150.5 558.0h0M465.9 20.3h0M466.0 24.4h0M466.1 28.7h0M466.2 33.0h0M466.2 37.3h0M466.1 41.6h0M465.9 45.9h0M464.2 50.1h0M460.0 54.4h0M451.4 58.6h0M444.9 62.9h0M441.8 67.1h0M438.1 71.4h0M433.7 75.6h0M428.2 79.8h0M422.4 83.9h0M416.6 88.0h0M411.1 92.0h0M406.0 96.1h0M400.9 100.1h0M395.9 104.2h0M392.0 108.3h0M389.0 112.4h0M385.8 116.6h0M381.5 120.8h0M377.0 125.0h0M372.4 129.3h0M368.3 133.6h0M364.3 137.9h0M360.3 142.3h0M355.7 146.6h0M351.0 151.0h0M346.0 155.4h0M340.9 159.8h0M336.0 164.2h0M331.4 168.6h0M327.6 173.1h0M325.3 177.5h0M323.1 181.9h0M320.6 186.3h0M317.1 190.6h0M313.6 194.9h0M310.0 199.2h0M306.4 203.4h0M303.3 207.6h0M301.9 211.8h0M300.5 216.1h0M299.1 220.4h0M297.7 224.7h0M296.4 229.0h0M294.9 233.3h0M292.0 237.6h0M289.0 241.9h0M286.0 246.1h0M283.1 250.4h0M280.6 254.7h0M278.2 259.0h0M275.8 263.3h0M273.4 267.6h0M270.9 271.9h0M268.2 276.2h0M265.5 280.5h0M262.8 284.8h0M260.1 289.1h0M257.4 293.3h0M254.8 297.6h0M252.2 301.9h0M249.7 306.1h0M247.1 310.4h0M244.6 314.6h0M242.0 318.8h0M239.4 322.9h0M236.7 327.1h0M234.0 331.3h0M231.3 335.5h0M228.5 339.7h0M225.8 343.9h0M223.2 348.1h0M220.6 352.4h0M218.5 356.7h0M216.6 360.9h0M214.7 365.2h0M212.9 369.5h0M211.1 373.8h0M209.3 378.1h0M207.5 382.5h0M205.6 386.8h0M203.6 391.2h0M201.7 395.5h0M199.8 399.9h0M197.9 404.2h0M196.1 408.6h0M194.5 412.9h0M193.0 417.3h0M191.6 421.6h0M190.1 425.8h0M188.7 430.1h0M187.2 434.3h0M185.8 438.6h0M184.0 442.8h0M181.9 447.0h0M179.9 451.2h0M177.9 455.4h0M175.8 459.6h0M173.8 463.9h0M171.7 468.1h0M169.7 472.3h0M167.8 476.6h0M165.8 480.8h0M164.3 485.1h0M163.7 489.3h0M163.0 493.6h0M162.3 497.9h0M161.6 502.2h0M160.8 506.4h0M160.0 510.7h0M159.2 515.1h0M158.4 519.4h0M157.6 523.7h0M156.8 528.0h0M156.0 532.2h0M155.3 536.5h0M154.5 540.7h0M153.4 545.0h0M152.4 549.2h0M151.4 553.4h0M150.4 557.6h0M466.0 21.4h0M466.1 25.6h0M466.3 29.8h0M466.5 34.1h0M466.6 38.4h0M466.6 42.6h0M466.5 46.9h0M464.6 51.3h0M459.4 55.6h0M450.8 60.0h0M445.1 64.3h0M442.0 68.6h0M438.0 72.8h0M433.3 76.9h0M427.6 81.1h0M421.7 85.2h0M415.9 89.4h0M410.5 93.6h0M405.5 97.8h0M400.4 102.1h0M395.5 106.5h0M392.0 110.9h0M389.1 115.3h0M385.8 119.8h0M381.4 124.3h0M376.9 128.8h0M372.5 133.3h0M368.4 137.7h0M364.4 142.1h0M360.3 146.4h0M355.6 150.6h0M350.8 154.7h0M345.8 158.8h0M340.6 162.9h0M335.8 167.0h0M331.1 171.0h0M327.7 175.2h0M325.4 179.3h0M323.2 183.5h0M320.6 187.8h0M317.2 192.1h0M313.7 196.5h0M310.2 200.9h0M306.6 205.3h0M304.0 209.7h0M302.5 214.0h0M301.1 218.2h0M299.6 222.3h0M298.1 226.4h0M296.6 230.5h0M294.8 234.6h0M291.7 238.8h0M288.7 242.9h0M285.7 247.0h0M282.9 251.1h0M280.6 255.3h0M278.4 259.5h0M276.2 263.8h0M274.0 268.1h0M271.7 272.4h0M269.1 276.9h0M266.4 281.3h0M263.6 285.8h0M260.8 290.3h0M258.0 294.7h0M255.2 299.2h0M252.3 303.6h0M249.5 308.0h0M246.8 312.3h0M244.1 316.6h0M241.5 320.8h0M238.9 325.1h0M236.5 329.2h0M234.1 333.4h0M231.7 337.6h0M229.3 341.8h0M226.9 346.1h0M224.4 350.3h0M221.8 354.6h0M219.7 358.9h0M217.7 363.2h0M215.5 367.5h0M213.4 371.8h0M211.3 376.1h0M209.3 380.4h0M207.3 384.7h0M205.4 388.9h0M203.6 393.0h0M201.8 397.2h0M200.0 401.3h0M198.3 405.4h0M196.7 409.5h0M195.4 413.5h0M193.9 417.7h0M192.5 421.8h0M191.0 426.0h0M189.5 430.2h0M187.9 434.4h0M186.2 438.7h0M184.2 443.0h0M182.1 447.4h0M180.0 451.7h0M177.9 456.1h0M175.9 460.5h0M173.9 464.8h0M172.0 469.2h0M170.1 473.5h0M168.3 477.8h0M166.5 482.2h0M165.2 486.5h0M164.6 490.8h0M163.9 495.2h0M163.2 499.5h0M162.4 503.9h0M161.5 508.3h0M160.6 512.7h0M159.6 517.1h0M158.7 521.5h0M157.8 525.9h0M156.9 530.2h0M156.1 534.6h0M155.3 538.9h0M154.4 543.1h0M153.4 547.3h0M152.4 551.5h0M151.5 555.6h0M150.6 559.8h0M149.9 563.9h0M465.9 21.9h0M466.0 26.1h0M466.1 30.4h0M466.2 34.7h0M466.1 39.0h0M466.0 43.2h0M465.8 47.4h0M463.6 51.5h0M457.4 55.5h0M449.0 59.4h0M444.3 63.4h0M441.3 67.7h0M437.3 72.3h0M432.7 77.0h0M426.9 81.9h0M421.0 86.7h0M415.1 91.4h0M409.7 96.0h0M404.4 100.2h0M399.1 104.3h0M394.0 108.2h0M390.6 112.0h0M387.5 115.8h0M384.0 119.8h0M379.6 123.9h0M375.2 128.2h0M371.0 132.6h0M367.2 137.0h0M363.4 141.4h0M359.4 145.6h0M354.9 149.7h0M350.2 153.7h0M345.1 157.7h0M339.9 161.8h0M335.0 166.1h0M330.1 170.6h0M326.8 175.3h0M324.3 180.2h0M321.9 185.0h0M318.9 189.8h0M315.3 194.3h0M311.8 198.7h0M308.4 202.7h0M305.1 206.6h0M303.1 210.4h0M302.0 214.1h0M300.8 218.1h0M299.7 222.2h0M298.4 226.5h0M297.1 230.8h0M295.1 235.1h0M291.9 239.4h0M288.7 243.7h0M285.4 247.8h0M282.3 252.0h0M279.7 256.1h0M277.2 260.3h0M274.7 264.6h0M272.3 268.9h0M269.8 273.4h0M267.3 277.9h0M264.7 282.5h0M262.2 287.1h0M259.7 291.6h0M257.2 295.9h0M254.7 300.2h0M252.1 304.4h0M249.4 308.5h0M246.8 312.6h0M244.0 316.7h0M241.2 320.8h0M238.4 325.0h0M235.4 329.3h0M232.5 333.6h0M229.6 337.8h0M226.9 342.1h0M224.2 346.2h0M221.7 350.3h0M219.3 354.3h0M217.6 358.4h0M216.0 362.6h0M214.4 366.8h0M212.8 371.2h0M211.2 375.7h0M209.5 380.2h0M207.6 384.8h0M205.6 389.3h0M203.6 393.7h0M201.6 398.1h0M199.6 402.3h0M197.6 406.5h0M195.8 410.7h0M194.1 414.8h0M192.5 419.1h0M191.0 423.3h0M189.6 427.7h0M188.2 432.0h0M186.9 436.3h0M185.5 440.6h0M183.8 444.8h0M182.0 448.9h0M180.1 452.9h0M178.2 456.9h0M176.2 461.0h0M174.1 465.1h0M172.0 469.4h0M169.8 473.8h0M167.6 478.2h0M165.4 482.7h0M164.0 487.2h0M163.1 491.7h0M162.2 496.0h0M161.4 500.3h0M160.7 504.5h0M160.0 508.6h0M159.4 512.8h0M158.8 517.0h0M158.3 521.3h0M157.7 525.7h0M157.1 530.1h0M156.4 534.4h0M155.7 538.7h0M154.7 543.0h0M153.5 547.1h0M152.3 551.2h0M151.0 555.2h0M149.8 559.2h0M466.1 22.9h0M466.3 27.1h0M466.4 31.3h0M466.5 35.5h0M466.4 39.8h0M466.3 44.0h0M465.7 48.4h0M463.1 52.8h0M456.1 57.2h0M447.6 61.7h0M443.7 66.2h0M440.5 70.6h0M436.4 74.9h0M431.6 79.0h0M425.9 83.1h0M420.2 87.1h0M414.5 91.1h0M409.4 95.0h0M404.3 98.9h0M399.2 102.9h0M394.4 106.9h0M391.2 111.0h0M388.1 115.2h0M384.3 119.5h0M379.7 124.0h0M375.1 128.5h0M370.7 133.1h0M366.7 137.8h0M362.8 142.4h0M358.5 147.1h0M353.8 151.6h0M349.1 156.1h0M344.0 160.5h0M338.9 164.8h0M334.2 169.0h0M329.6 173.1h0M326.8 177.2h0M324.5 181.3h0M322.2 185.4h0M319.1 189.5h0M315.5 193.7h0M312.0 197.9h0M308.5 202.3h0M305.0 206.7h0M303.1 211.2h0M301.8 215.6h0M300.5 219.9h0M299.2 224.2h0M297.9 228.4h0M296.6 232.6h0M294.3 236.9h0M291.3 241.1h0M288.3 245.3h0M285.3 249.4h0M282.5 253.5h0M280.1 257.6h0M277.7 261.7h0M275.4 265.8h0M273.0 269.9h0M270.5 274.1h0M267.8 278.3h0M265.1 282.5h0M262.3 286.8h0M259.6 291.1h0M256.9 295.5h0M254.2 299.9h0M251.5 304.3h0M248.8 308.6h0M246.1 313.0h0M243.5 317.3h0M240.9 321.6h0M238.3 325.9h0M235.6 330.1h0M233.0 334.3h0M230.4 338.6h0M227.7 342.8h0M225.1 347.0h0M222.5 351.2h0M220.0 355.5h0M218.1 359.8h0M216.2 364.1h0M214.2 368.5h0M212.4 372.8h0M210.6 377.2h0M208.8 381.6h0M206.9 386.0h0M205.1 390.4h0M203.3 394.7h0M201.5 399.0h0M199.7 403.3h0M197.9 407.5h0M196.3 411.8h0M194.8 416.0h0M193.3 420.1h0M191.8 424.3h0M190.3 428.4h0M188.8 432.6h0M187.3 436.8h0M185.7 441.0h0M183.7 445.2h0M181.6 449.4h0M179.6 453.6h0M177.6 457.9h0M175.6 462.2h0M173.6 466.5h0M171.5 470.8h0M169.5 475.1h0M167.5 479.4h0M165.6 483.6h0M164.5 487.9h0M163.7 492.2h0M162.9 496.4h0M162.1 500.7h0M161.3 504.9h0M160.6 509.1h0M159.8 513.4h0M159.0 517.6h0M158.3 521.9h0M157.6 526.1h0M156.8 530.4h0M156.1 534.7h0M155.4 539.0h0M154.5 543.3h0M153.4 547.7h0M152.4 552.1h0M151.3 556.4h0M150.3 560.8h0M466.1 23.4h0M466.3 27.6h0M466.5 31.8h0M466.6 36.0h0M466.5 40.2h0M466.4 44.5h0M465.5 48.6h0M462.5 52.7h0M455.0 56.8h0M447.0 61.0h0M443.7 65.2h0M440.4 69.6h0M436.2 74.0h0M431.2 78.5h0M425.4 82.9h0M419.7 87.3h0M414.0 91.7h0M408.8 96.0h0M403.7 100.3h0M398.5 104.5h0M393.9 108.7h0M390.7 112.8h0M387.4 117.0h0M383.3 121.1h0M378.7 125.2h0M374.1 129.4h0M369.7 133.6h0M365.8 137.9h0M361.8 142.2h0M357.5 146.5h0M352.9 150.9h0M348.2 155.3h0M343.1 159.8h0M338.2 164.2h0M333.6 168.6h0M329.2 173.0h0M326.8 177.3h0M324.6 181.6h0M322.2 185.8h0M319.0 189.9h0M315.5 194.1h0M311.9 198.2h0M308.4 202.3h0M305.0 206.4h0M303.2 210.6h0M301.9 214.8h0M300.5 219.1h0M299.0 223.5h0M297.6 227.8h0M296.2 232.2h0M293.6 236.5h0M290.5 240.9h0M287.5 245.2h0M284.4 249.5h0M281.8 253.8h0M279.4 258.1h0M277.1 262.4h0M274.8 266.6h0M272.5 270.9h0M270.0 275.1h0M267.4 279.3h0M264.8 283.5h0M262.2 287.7h0M259.6 291.9h0M256.9 296.1h0M254.3 300.4h0M251.6 304.6h0M249.0 308.9h0M246.4 313.2h0M243.8 317.6h0M241.2 321.9h0M238.6 326.3h0M235.9 330.6h0M233.2 334.9h0M230.5 339.2h0M227.7 343.5h0M224.9 347.8h0M222.2 352.0h0M219.7 356.2h0M217.7 360.4h0M215.7 364.6h0M213.7 368.9h0M211.8 373.1h0M210.0 377.3h0M208.3 381.5h0M206.5 385.8h0M204.7 390.1h0M202.9 394.4h0M201.2 398.8h0M199.4 403.1h0M197.7 407.4h0M196.2 411.8h0M194.7 416.1h0M193.2 420.4h0M191.7 424.7h0M190.2 428.9h0M188.7 433.1h0M187.1 437.3h0M185.4 441.5h0M183.3 445.7h0M181.3 449.9h0M179.2 454.1h0M177.2 458.3h0M175.2 462.6h0M173.1 466.8h0M171.1 471.1h0M169.1 475.4h0M167.2 479.8h0M165.4 484.1h0M164.5 488.4h0M163.8 492.8h0M163.1 497.1h0M162.4 501.4h0M161.7 505.7h0M161.0 509.9h0M160.3 514.1h0M159.6 518.4h0M158.9 522.6h0M158.2 526.8h0M157.5 531.0h0M156.7 535.2h0M155.9 539.4h0M154.9 543.7h0M153.7 547.9h0M152.6 552.2h0M151.4 556.5h0M150.3 560.9h0M149.5 565.2h0" stroke="#0000ff" stroke-width="12.5" stroke-linecap="round" fill="none"/>
<polyline points="476.5,19.4 476.5,21.0 476.3,22.5 476.0,24.1 475.8,25.6 475.5,27.2 475.0,28.7 474.0,31.0 471.0,34.9 466.0,38.8 460.0,42.7 455.0,46.6 451.0,50.4 446.0,54.3 441.5,58.2 435.0,66.0 428.0,73.7 420.0,81.5 412.0,89.2 404.0,97.0 372.5,116.4 362.0,135.8 329.5,174.6 301.0,213.4 276.5,252.2 255.0,291.0 231.0,329.8 195.5,407.4 167.0,485.0 142.0,562.6 128.0,640.2 117.0,717.8 107.0,795.4" fill="none" stroke="#ff0000" stroke-width="3.0" stroke-linecap="round" stroke-linejoin="round" />
<path d="M476.5 19.4h0M476.5 21.0h0M476.3 22.5h0M476.0 24.1h0M475.8 25.6h0M475.5 27.2h0M475.0 28.7h0M474.0 31.0h0M471.0 34.9h0M466.0 38.8h0M460.0 42.7h0M455.0 46.6h0M451.0 50.4h0M446.0 54.3h0M441.5 58.2h0M435.0 66.0h0M428.0 73.7h0M420.0 81.5h0M412.0 89.2h0M404.0 97.0h0M372.5 116.4h0M362.0 135.8h0M329.5 174.6h0M301.0 213.4h0M276.5 252.2h0M255.0 291.0h0M231.0 329.8h0M195.5 407.4h0M167.0 485.0h0M142.0 562.6h0M128.0 640.2h0M117.0 717.8h0M107.0 795.4h0" stroke="#ff0000" stroke-width="12.5" stroke-linecap="round" fill="none"/>
<polyline points="468.0,19.4 468.0,21.0 468.0,22.5 467.8,24.1 467.3,25.6 466.5,27.2 465.8,28.7 464.8,31.0 463.7,34.9 462.8,38.8 461.8,42.7 460.5,46.6 458.5,50.4 456.0,54.3 453.0,58.2 444.8,66.0 433.6,73.7 426.0,81.5 418.0,89.2 409.0,97.0 377.9,116.4 360.8,135.8 329.1,174.6 301.7,213.4 277.9,252.2 256.5,291.0 237.3,329.8 196.8,407.4 165.6,485.0 143.6,562.6 124.5,640.2 113.0,717.8 106.1,795.4" fill="none" stroke="#008000" stroke-width="3.9" stroke-linecap="round" stroke-linejoin="round" />
<path d="M468.0 19.4h0M468.0 21.0h0M468.0 22.5h0M467.8 24.1h0M467.3 25.6h0M466.5 27.2h0M465.8 28.7h0M464.8 31.0h0M463.7 34.9h0M462.8 38.8h0M461.8 42.7h0M460.5 46.6h0M458.5 50.4h0M456.0 54.3h0M453.0 58.2h0M444.8 66.0h0M433.6 73.7h0M426.0 81.5h0M418.0 89.2h0M409.0 97.0h0M377.9 116.4h0M360.8 135.8h0M329.1 174.6h0M301.7 213.4h0M277.9 252.2h0M256.5 291.0h0M237.3 329.8h0M196.8 407.4h0M165.6 485.0h0M143.6 562.6h0M124.5 640.2h0M113.0 717.8h0M106.1 795.4h0" stroke="#008000" stroke-width="12.5" stroke-linecap="round" fill="none"/>
<polyline points="465.5,19.8 465.5,20.6 465.6,21.5 465.8,22.4 466.0,23.3 466.3,24.4 466.8,25.6 467.3,26.8 467.8,28.3 468.3,29.9 468.8,31.7 469.2,33.8 469.3,36.2 469.0,39.0 467.5,42.2 464.5,46.1 460.3,50.7 453.2,56.2 442.5,62.7 432.3,70.5 421.4,79.8 409.5,91.0 399.6,104.5 384.4,120.8 360.4,140.3 333.4,163.8 310.6,192.0 295.6,225.8 280.5,266.3 255.1,314.4 223.5,371.7 185.1,439.3 155.4,518.8 130.6,611.7 115.5,719.6" fill="none" stroke="#ff00ff" stroke-width="3.1" stroke-linecap="round" stroke-linejoin="round" />
<path d="M465.5 19.8h0M465.5 20.6h0M465.6 21.5h0M465.8 22.4h0M466.0 23.3h0M466.3 24.4h0M466.8 25.6h0M467.3 26.8h0M467.8 28.3h0M468.3 29.9h0M468.8 31.7h0M469.2 33.8h0M469.3 36.2h0M469.0 39.0h0M467.5 42.2h0M464.5 46.1h0M460.3 50.7h0M453.2 56.2h0M442.5 62.7h0M432.3 70.5h0M421.4 79.8h0M409.5 91.0h0M399.6 104.5h0M384.4 120.8h0M360.4 140.3h0M333.4 163.8h0M310.6 192.0h0M295.6 225.8h0M280.5 266.3h0M255.1 314.4h0M223.5 371.7h0M185.1 439.3h0M155.4 518.8h0M130.6 611.7h0M115.5 719.6h0" stroke="#ff00ff" stroke-width="12.5" stroke-linecap="round" fill="none"/>
</g>
<g clip-path="url(#cp1)">
<polyline points="620.4,19.4 620.8,21.0 622.9,23.0 626.2,25.0 635.9,27.2" fill="none" stroke="#00ffff" stroke-width="12.0" stroke-linecap="round" stroke-linejoin="round" />
<polyline points="635.9,27.2 652.0,29.4 674.1,31.8 693.4,34.2 711.5,36.7 731.7,39.3 753.5,41.9 789.7,44.4 813.5,46.9 826.3,49.3 833.7,51.6 837.9,53.8 840.5,56.0 847.1,58.1 850.9,60.1 855.9,62.2 858.7,64.2 864.4,66.3 870.0,68.5 875.3,70.8 882.7,73.2 892.2,75.3 899.4,77.5 905.8,79.9" fill="none" stroke="#00ffff" stroke-width="7.0" stroke-linecap="round" stroke-linejoin="round" />
<polyline points="905.8,79.9 911.3,82.3 917.8,84.8 920.7,87.4 923.9,89.8 927.3,92.1 929.5,94.2 931.1,96.3 932.2,98.1 934.8,99.9 936.4,101.6 938.3,103.3 939.1,105.1 940.3,107.2 941.1,109.5 941.4,112.0 943.4,114.9 946.7,118.0 948.2,121.4 946.3,125.0 944.2,128.6 944.2,132.2 943.7,135.7 942.1,139.0 940.0,141.9 941.6,144.6 941.8,146.8 942.1,148.7 941.0,150.2 938.2,151.6 935.9,152.7 933.5,153.9 933.1,155.1 931.9,156.5 929.0,158.3 927.5,160.3 927.4,162.8 927.7,165.6 927.4,168.8 924.6,172.3 920.9,175.9 917.2,179.6 915.1,183.3 911.5,186.8 909.8,190.0 905.7,192.8 904.1,195.3 900.6,197.2 901.0,198.8 900.6,200.0 899.4,200.9 898.2,201.6 898.4,202.3 897.2,203.2 895.4,204.4 894.8,206.0 895.8,207.9 896.1,210.3 894.7,212.9 894.1,215.9 892.6,218.9 892.5,222.0 890.2,225.0 888.1,227.9 885.8,230.8 885.3,233.6 885.4,236.2 884.8,238.6 884.0,240.8 881.4,242.8 879.7,244.6 875.6,246.3 872.3,248.0 868.8,249.7 868.1,251.4 868.6,253.3 868.5,255.3 868.6,257.4 867.4,259.8 866.6,262.3 863.8,264.9 860.7,267.7 858.1,270.5 857.6,273.3 857.9,276.1 858.9,278.8 857.0,281.4 855.8,283.9 854.1,286.3 852.4,288.5 850.8,290.7 848.6,292.8 847.6,294.9 846.1,297.0 844.3,299.2 842.6,301.5 841.0,303.9 840.7,306.4 840.3,309.1 838.3,311.8 836.1,314.6 833.9,317.4 832.3,320.1 830.1,322.8 829.3,325.4 827.3,327.8 825.2,330.1 822.6,332.2 820.6,334.2 819.6,336.1 817.2,338.0 815.3,339.8 814.7,341.7 814.8,343.7 814.1,345.8 810.8,348.1 807.8,350.6 804.7,353.3 804.6,356.1 803.0,359.0 801.0,361.9 798.2,364.9 799.1,367.8 797.9,370.6 795.9,373.2 793.4,375.5 794.0,377.7 794.1,379.6 791.9,381.4 791.1,383.0 789.3,384.4 788.5,385.9 786.0,387.3 783.4,388.9 782.1,390.7 782.7,392.7 782.8,394.9 782.7,397.4 780.8,400.1 781.3,403.0 779.3,406.1 777.9,409.2 776.1,412.4 777.2,415.5 778.6,418.5 779.6,421.2 778.7,423.8 778.4,426.1 776.2,428.1 775.5,430.0 772.6,431.6 772.9,433.2 771.9,434.7 772.5,436.3 771.2,437.9 770.4,439.7 770.1,441.7 770.6,444.0 768.2,446.4 767.4,449.1 765.6,452.0 765.3,455.0 763.7,458.1 763.3,461.3 762.5,464.3 761.5,467.2 759.2,470.0 760.0,472.6 758.3,475.0 757.4,477.2 755.4,479.2 755.5,481.0 755.8,482.8 754.7,484.6 755.3,486.4 755.8,488.3 757.3,490.3 759.0,492.4 758.3,494.7 758.3,497.1 755.7,499.7 755.4,502.3 755.6,505.0 756.1,507.7 755.2,510.3 754.0,512.9 753.5,515.4 754.0,517.7 755.9,519.9 755.2,522.0 755.3,524.0 753.5,525.9 755.6,527.8 755.3,529.8 755.2,531.8 754.6,533.9 756.9,536.2 756.8,538.6 755.8,541.0 754.5,543.6 753.6,546.3 751.9,549.0 752.1,551.6 751.3,554.2 752.5,556.7 752.0,559.1 752.9,561.3" fill="none" stroke="#00ffff" stroke-width="12.0" stroke-linecap="round" stroke-linejoin="round" />
<polyline points="621.4,19.4 621.8,21.6 624.9,24.0 628.1,26.4 636.8,28.8" fill="none" stroke="#00ffff" stroke-width="12.0" stroke-linecap="round" stroke-linejoin="round" />
<polyline points="636.8,28.8 654.1,31.1 675.9,33.3 693.4,35.5 707.4,37.7 726.3,39.9 750.2,42.0 788.7,44.1 813.3,46.2 827.1,48.4 836.2,50.5 839.6,52.6 844.0,54.8 845.0,57.0 850.0,59.3 851.3,61.5 856.1,63.9 860.9,66.2 867.2,68.6 873.5,71.0 881.0,73.5 891.2,75.7 899.3,78.0 904.9,80.4" fill="none" stroke="#00ffff" stroke-width="7.0" stroke-linecap="round" stroke-linejoin="round" />
<polyline points="904.9,80.4 909.5,82.8 915.1,85.3 919.5,87.8 921.5,90.3 924.5,92.8 927.3,95.3 930.7,97.7 933.9,100.0 936.0,102.3 936.9,104.4 937.2,106.4 937.5,108.3 940.2,110.1 940.9,111.9 942.2,113.6 941.9,115.3 943.7,116.9 946.0,118.6 946.3,120.3 944.8,122.0 944.1,123.9 943.6,125.8 944.1,127.8 944.0,130.0 943.7,132.2 943.7,134.6 943.1,137.1 942.6,139.8 941.9,142.6 940.2,145.4 938.1,148.4 935.9,151.4 933.8,154.5 932.3,157.5 931.4,160.6 928.4,163.7 926.4,166.7 921.4,169.7 920.5,172.5 918.1,175.3 916.7,178.0 912.5,180.5 909.0,182.9 906.0,185.2 903.7,187.3 902.8,189.4 900.9,191.3 899.2,193.2 896.3,195.0 896.7,196.8 894.5,198.5 894.9,200.2 894.1,202.1 895.5,204.1 895.6,206.2 895.8,208.4 894.6,210.7 894.4,213.1 891.7,215.6 890.3,218.2 889.4,220.8 890.3,223.3 890.6,225.8 887.5,228.3 887.2,230.9 884.7,233.5 885.9,236.2 882.7,238.8 880.2,241.4 877.4,244.0 875.2,246.6 875.1,249.1 872.8,251.5 871.8,253.9 870.4,256.3 868.9,258.5 867.8,260.7 865.9,262.9 864.9,264.9 862.4,267.0 862.2,269.0 861.4,270.9 859.8,272.9 857.5,274.8 856.8,276.8 857.1,278.8 856.8,280.8 854.9,282.9 853.8,285.0 852.2,287.2 851.8,289.4 850.0,291.8 849.6,294.2 847.0,296.7 845.7,299.3 843.9,301.9 841.2,304.6 838.5,307.3 836.4,310.1 835.3,312.8 833.3,315.6 831.6,318.4 831.0,321.1 829.7,323.9 825.9,326.5 823.5,329.1 821.3,331.7 821.5,334.1 818.6,336.5 816.7,338.8 812.7,341.0 812.1,343.2 812.5,345.3 812.3,347.3 812.0,349.3 810.0,351.2 809.0,353.1 807.1,355.0 805.4,357.0 803.3,358.9 802.1,360.9 801.1,362.9 800.9,365.0 799.1,367.1 797.9,369.3 795.4,371.6 794.5,373.9 791.8,376.3 789.7,378.8 788.6,381.4 788.0,383.9 788.1,386.6 786.2,389.2 785.3,391.9 782.2,394.5 780.7,397.2 779.5,399.8 779.6,402.4 778.9,404.9 777.5,407.4 777.3,409.8 776.9,412.1 776.4,414.4 774.3,416.6 773.8,418.8 773.9,420.9 774.6,422.9 773.7,425.0 772.1,427.0 772.0,428.9 771.7,430.9 772.6,432.9 771.6,434.9 769.2,437.0 766.7,439.1 765.6,441.3 767.4,443.5 767.2,445.9 766.9,448.2 764.4,450.7 764.0,453.2 762.6,455.8 760.8,458.5 759.6,461.2 759.6,463.9 758.4,466.7 757.3,469.5 755.8,472.2 756.3,475.0 756.3,477.7 754.8,480.3 755.9,482.9 756.0,485.5 757.8,487.9 757.4,490.3 756.7,492.6 756.9,494.8 755.8,497.0 756.3,499.0 756.5,501.0 757.9,503.0 758.2,504.9 757.4,506.8 756.4,508.6 757.5,510.5 757.9,512.4 756.3,514.3 755.8,516.3 756.3,518.3 756.9,520.4 754.7,522.5 753.2,524.7 754.3,527.0 754.6,529.4 753.3,531.9 753.3,534.4 755.0,537.0 755.2,539.6 753.8,542.2 751.4,544.9 751.3,547.6 749.9,550.3 749.5,553.0 749.8,555.6" fill="none" stroke="#00ffff" stroke-width="12.0" stroke-linecap="round" stroke-linejoin="round" />
<polyline points="621.9,19.4 622.8,19.9 626.1,22.1 628.4,24.4 637.6,26.8" fill="none" stroke="#00ffff" stroke-width="12.0" stroke-linecap="round" stroke-linejoin="round" />
<polyline points="637.6,26.8 652.6,29.1 674.2,31.4 688.3,33.8 704.3,36.2 723.6,38.6 747.3,41.0 786.2,43.5 809.9,45.9 824.1,48.4 831.5,50.8 836.1,53.3 839.3,55.7 843.5,58.1 846.6,60.5 850.0,62.9 851.8,65.3 858.8,67.7 867.0,70.1 876.1,72.4 882.9,74.8 890.1,77.0 897.2,79.2 902.6,81.4" fill="none" stroke="#00ffff" stroke-width="7.0" stroke-linecap="round" stroke-linejoin="round" />
<polyline points="902.6,81.4 908.0,83.6 913.7,85.7 915.5,87.8 919.1,89.9 921.1,91.9 924.3,94.0 926.3,96.1 928.7,98.3 932.0,100.5 934.1,102.7 935.9,104.9 938.2,107.2 939.6,109.5 941.3,111.8 942.5,114.2 943.5,116.6 942.8,119.0 944.5,121.5 945.1,124.0 946.9,126.5 948.0,129.1 948.1,131.7 948.7,134.3 948.7,136.9 949.8,139.5 950.8,142.1 948.2,144.8 946.4,147.4 945.2,150.0 946.3,152.5 946.4,155.1 944.6,157.6 940.8,160.0 937.5,162.5 935.9,164.8 935.2,167.1 933.6,169.4 931.5,171.6 927.7,173.7 924.8,175.8 922.0,177.9 918.6,179.9 915.4,181.8 911.8,183.7 909.9,185.6 907.0,187.4 904.4,189.2 901.1,191.1 899.2,192.9 897.7,194.7 895.7,196.5 894.0,198.4 890.8,200.5 889.0,202.7 889.3,204.9 890.0,207.3 890.7,209.7 891.4,212.2 889.4,214.7 887.6,217.3 885.6,219.9 885.3,222.3 884.6,224.7 881.6,227.1 879.3,229.6 879.6,232.1 881.3,234.6 881.1,237.2 878.2,239.8 875.7,242.4 874.7,245.0 875.1,247.7 873.1,250.3 872.2,252.9 869.2,255.6 868.3,258.2 866.3,260.8 866.0,263.4 866.4,266.0 866.9,268.5 865.1,271.0 863.6,273.5 860.0,276.0 858.3,278.4 857.5,280.8 858.3,283.2 858.3,285.5 854.5,287.8 853.5,290.0 851.5,292.3 850.8,294.5 848.9,296.7 846.9,298.9 844.8,301.0 842.4,303.2 841.4,305.3 840.7,307.5 840.0,309.6 838.5,311.8 836.6,313.9 832.9,316.1 829.6,318.3 826.9,320.5 827.7,322.7 825.5,324.9 822.4,327.2 820.9,329.5 820.5,331.8 820.0,334.1 817.9,336.4 816.5,338.8 816.6,341.2 814.3,343.6 812.2,346.0 808.8,348.4 807.6,350.8 804.2,353.2 802.5,355.6 800.2,358.1 800.6,360.5 799.2,362.9 795.9,365.3 794.0,367.7 793.0,370.0 791.9,372.4 790.9,374.7 788.7,377.0 787.3,379.3 787.7,381.6 789.5,383.9 791.7,386.1 791.7,388.4 790.3,390.6 789.6,392.8 786.5,395.0 786.4,397.1 785.0,399.3 785.3,401.5 784.8,403.7 784.8,405.8 786.5,408.0 787.1,410.2 785.4,412.4 785.9,414.6 783.8,416.9 785.6,419.1 782.8,421.4 784.0,423.7 782.7,426.0 781.7,428.3 778.3,430.7 776.2,433.0 774.1,435.4 772.5,437.8 770.9,440.3 769.4,442.7 770.0,445.2 769.0,447.7 768.2,450.2 765.1,452.7 763.3,455.3 763.3,457.8 761.6,460.3 760.9,462.9 758.5,465.4 758.8,467.9 758.4,470.4 757.1,473.0 755.3,475.5 753.6,478.0 753.3,480.4 753.1,482.9 753.1,485.3 754.0,487.8 753.2,490.2 752.9,492.6 752.0,494.9 754.1,497.3 756.2,499.6 757.1,501.9 754.9,504.2 752.6,506.5 752.0,508.7 752.4,511.0 752.5,513.2 753.1,515.4 753.0,517.6 751.8,519.8 750.8,522.0 749.9,524.1 752.0,526.3 751.9,528.5 752.4,530.6 750.1,532.8 748.7,534.9 749.0,537.1 750.7,539.2 751.2,541.4 752.3,543.6 751.6,545.7 752.9,547.9 751.0,550.1 751.1,552.3" fill="none" stroke="#00ffff" stroke-width="12.0" stroke-linecap="round" stroke-linejoin="round" />
<polyline points="619.5,19.8 620.1,22.1 624.2,24.5 627.3,26.9 636.5,29.3" fill="none" stroke="#00ffff" stroke-width="12.0" stroke-linecap="round" stroke-linejoin="round" />
<polyline points="636.5,29.3 653.1,31.7 675.1,34.1 692.6,36.5 706.9,38.9 727.3,41.3 748.6,43.7 788.1,46.0 810.6,48.4 824.3,50.7 831.4,53.0 836.1,55.3 841.2,57.6 845.4,59.9 848.4,62.2 851.7,64.5 855.4,66.7 862.6,69.0 867.9,71.2 873.2,73.5 879.9,75.7 888.2,78.0 896.6,80.2 903.1,82.4" fill="none" stroke="#00ffff" stroke-width="7.0" stroke-linecap="round" stroke-linejoin="round" />
<polyline points="903.1,82.4 910.6,84.6 918.0,86.8 920.6,88.9 922.7,91.0 922.0,93.1 926.4,95.1 928.5,97.2 932.1,99.3 933.3,101.5 936.1,103.6 939.0,105.8 942.3,107.9 943.2,110.0 943.7,112.2 942.9,114.4 945.5,116.5 948.2,118.7 951.5,120.8 953.6,123.0 954.8,125.1 954.6,127.3 953.7,129.4 953.5,131.6 952.1,133.8 951.7,136.0 950.7,138.2 951.1,140.4 950.1,142.7 948.1,145.0 946.9,147.3 945.5,149.6 944.2,152.0 940.6,154.4 936.8,156.9 934.4,159.3 934.7,161.9 934.1,164.4 931.5,167.0 927.4,169.6 922.7,172.2 920.3,174.9 916.8,177.6 913.8,180.3 910.5,183.0 906.9,185.6 906.3,188.3 904.9,191.0 904.5,193.7 901.4,196.4 897.9,199.0 895.2,201.7 894.7,204.3 896.5,206.9 895.7,209.4 894.4,211.8 892.6,214.3 891.6,216.7 892.1,219.1 891.6,221.4 891.2,223.7 889.6,226.0 888.8,228.4 887.4,230.8 887.3,233.2 885.2,235.6 883.2,238.0 882.0,240.4 880.0,242.8 879.4,245.1 878.8,247.5 878.0,249.8 876.2,252.2 872.5,254.5 871.3,256.8 870.0,259.0 868.1,261.3 866.5,263.5 866.2,265.7 866.1,267.9 865.4,270.1 865.0,272.2 863.0,274.4 862.1,276.5 860.2,278.6 859.9,280.7 858.1,282.7 856.8,284.8 856.3,286.9 854.6,288.9 854.1,291.0 852.3,293.1 852.9,295.1 850.6,297.2 848.9,299.3 845.9,301.4 843.8,303.6 842.1,305.7 839.9,307.9 839.0,310.0 836.7,312.2 835.8,314.5 833.5,316.7 831.4,319.0 829.3,321.2 828.4,323.5 827.8,325.8 825.9,328.1 822.7,330.5 820.9,332.8 818.9,335.1 818.5,337.5 817.4,339.9 817.0,342.2 815.3,344.6 812.8,347.0 811.3,349.4 810.3,351.9 809.1,354.3 807.3,356.7 805.6,359.2 805.2,361.7 804.0,364.2 802.2,366.7 800.9,369.2 800.8,371.7 797.2,374.3 795.6,376.8 794.8,379.4 796.6,382.0 794.7,384.6 793.2,387.2 789.8,389.7 788.8,392.3 786.4,394.9 786.8,397.5 783.7,400.1 782.0,402.6 779.7,405.2 780.7,407.7 779.9,410.2 779.4,412.7 777.7,415.1 777.1,417.6 777.2,420.0 776.6,422.4 775.4,424.7 773.4,427.0 773.5,429.4 774.2,431.6 773.9,433.9 773.2,436.2 771.0,438.4 771.6,440.6 771.3,442.8 770.4,445.0 769.0,447.2 768.3,449.4 767.8,451.6 768.8,453.8 768.3,456.0 767.5,458.1 763.8,460.3 762.9,462.5 763.0,464.6 764.0,466.8 762.8,468.9 760.8,471.1 760.8,473.2 761.3,475.3 764.0,477.5 763.0,479.6 762.5,481.7 761.1,483.8 760.7,485.9 759.3,488.1 757.6,490.2 757.7,492.3 757.4,494.4 758.1,496.6 758.0,498.7 758.2,500.9 757.9,503.1 756.3,505.3 756.5,507.5 755.5,509.8 756.3,512.1 755.2,514.4 756.2,516.7 756.0,519.0 757.5,521.4 755.8,523.8 755.0,526.2 753.8,528.7 753.9,531.2 755.4,533.6 755.4,536.1 755.5,538.6 754.9,541.2 755.6,543.7 757.1,546.2 755.9,548.7 754.1,551.3 749.6,553.8" fill="none" stroke="#00ffff" stroke-width="12.0" stroke-linecap="round" stroke-linejoin="round" />
<polyline points="618.0,19.4 618.1,20.7 621.3,23.1 626.7,25.4 636.6,27.7" fill="none" stroke="#00ffff" stroke-width="12.0" stroke-linecap="round" stroke-linejoin="round" />
<polyline points="636.6,27.7 653.7,30.1 675.7,32.4 691.8,34.8 708.0,37.1 726.6,39.5 750.1,41.8 787.8,44.2 812.2,46.5 827.3,48.8 834.9,51.1 839.6,53.4 842.1,55.7 847.4,58.0 850.3,60.3 854.2,62.6 855.9,64.9 863.4,67.1 871.2,69.4 877.6,71.7 882.6,74.0 888.8,76.0 898.2,78.1 905.0,80.1" fill="none" stroke="#00ffff" stroke-width="7.0" stroke-linecap="round" stroke-linejoin="round" />
<polyline points="905.0,80.1 911.9,82.2 917.4,84.2 922.9,86.3 925.4,88.5 928.2,90.6 929.0,92.9 932.0,95.4 933.6,97.9 936.0,100.4 939.6,103.0 941.8,105.6 944.2,108.3 944.0,110.9 944.2,113.6 944.1,116.3 944.2,118.9 946.3,121.6 948.1,124.2 948.8,126.8 949.2,129.4 948.7,131.9 948.9,134.4 946.8,136.8 946.2,139.2 945.8,141.6 946.0,143.9 946.6,146.1 944.8,148.3 943.1,150.4 939.4,152.5 938.0,154.6 935.7,156.6 935.9,158.5 933.3,160.5 931.0,162.4 927.3,164.3 926.1,166.1 924.1,168.0 923.9,169.9 921.3,171.8 919.4,173.7 914.7,175.6 912.3,177.5 909.9,179.5 909.0,181.5 905.8,183.6 904.3,185.6 901.2,187.7 900.8,189.9 898.7,192.1 896.4,194.3 895.2,196.5 895.3,199.1 895.7,201.7 896.4,204.4 895.5,207.0 894.0,209.7 894.4,212.4 895.1,215.1 895.0,217.8 891.6,220.5 889.0,222.9 888.1,225.3 885.7,227.8 884.6,230.2 881.5,232.6 881.2,235.1 879.7,237.5 878.4,240.0 878.5,242.5 876.6,245.0 875.0,247.4 872.8,249.9 874.0,252.5 872.9,255.0 872.0,257.5 869.0,260.0 868.1,262.6 866.4,265.1 865.4,267.7 864.4,270.2 862.5,272.8 862.5,275.3 862.5,277.9 862.5,280.4 861.3,283.0 859.7,285.5 857.1,288.0 854.0,290.5 851.1,292.9 849.7,295.3 848.9,297.8 847.9,300.1 847.6,302.5 845.2,304.8 843.7,307.1 839.7,309.3 838.7,311.6 835.2,313.8 832.6,316.0 829.6,318.1 829.5,320.2 830.3,322.3 828.9,324.4 826.7,326.5 823.6,328.6 822.0,330.7 819.5,332.8 818.4,334.8 815.6,336.9 814.0,339.0 812.0,341.1 810.5,343.3 809.0,345.4 808.8,347.6 809.2,349.8 809.0,352.0 806.7,354.2 804.7,356.4 803.5,358.7 802.0,361.0 800.9,363.3 798.1,365.6 795.9,367.9 794.2,370.2 793.0,372.6 794.7,374.9 793.5,377.2 793.1,379.6 790.9,381.9 790.4,384.2 788.6,386.5 788.6,388.8 785.7,391.1 785.1,393.4 783.1,395.7 784.8,398.0 784.8,400.3 782.7,402.6 780.7,404.9 779.1,407.2 779.9,409.4 779.9,411.7 779.8,414.1 778.3,416.4 777.7,418.7 777.3,421.1 779.2,423.4 779.5,425.8 778.8,428.2 775.7,430.7 774.0,433.1 773.1,435.6 771.7,438.1 769.2,440.6 769.6,443.2 769.0,445.7 769.7,448.3 767.2,450.8 765.6,453.4 766.5,456.0 765.8,458.6 765.8,461.1 763.4,463.7 762.6,466.3 760.5,468.8 758.7,471.3 759.1,473.8 758.6,476.3 758.8,478.7 757.0,481.2 757.3,483.6 755.9,485.9 755.6,488.3 756.8,490.6 756.6,492.9 757.6,495.2 756.5,497.5 757.2,499.7 755.5,501.9 755.3,504.2 755.0,506.4 758.3,508.6 757.7,510.7 758.4,512.9 755.8,515.1 756.5,517.3 755.0,519.5 756.4,521.6 753.7,523.8 755.4,526.0 754.4,528.2 756.3,530.4 753.7,532.6 752.8,534.7 753.2,536.9 752.2,539.1 752.3,541.3 751.2,543.5 751.8,545.7 750.7,547.9 749.6,550.1 749.1,552.3 748.9,554.5 749.1,556.6 749.8,558.8" fill="none" stroke="#00ffff" stroke-width="12.0" stroke-linecap="round" stroke-linejoin="round" />
<polyline points="619.2,19.4 621.0,21.5 623.6,23.8 627.2,26.1 634.5,28.4" fill="none" stroke="#00ffff" stroke-width="12.0" stroke-linecap="round" stroke-linejoin="round" />
<polyline points="634.5,28.4 652.8,30.8 672.9,33.1 691.5,35.5 705.9,37.8 726.0,40.2 748.2,42.6 787.7,45.0 812.8,47.4 825.0,49.8 833.3,52.2 835.7,54.6 842.0,57.0 844.7,59.4 849.1,61.8 853.1,64.2 857.7,66.6 864.2,69.0 869.2,71.4 873.5,73.8 880.7,76.2 888.5,78.7 898.7,81.2 904.9,83.7" fill="none" stroke="#00ffff" stroke-width="7.0" stroke-linecap="round" stroke-linejoin="round" />
<polyline points="904.9,83.7 910.7,86.2 915.3,88.7 918.7,91.1 920.6,93.5 923.0,95.9 925.3,98.3 928.1,100.5 930.7,102.6 933.8,104.8 936.4,106.9 938.2,109.1 938.5,111.2 940.2,113.4 941.3,115.5 942.8,117.7 944.7,119.8 945.9,122.0 947.9,124.2 947.5,126.4 946.0,128.6 945.8,130.9 943.5,133.1 944.7,135.4 942.8,137.7 942.9,140.1 941.3,142.4 940.7,144.8 943.5,147.2 943.2,149.6 942.3,152.0 938.6,154.4 937.2,156.9 936.7,159.3 934.6,161.8 933.6,164.2 930.2,166.7 928.8,169.1 926.2,171.6 924.0,174.0 920.7,176.4 918.0,178.8 916.1,181.2 915.3,183.6 912.3,186.0 910.7,188.4 909.4,190.7 908.6,193.0 905.8,195.4 901.7,197.7 899.0,200.0 897.2,202.3 897.8,204.6 898.5,206.8 898.8,209.0 899.2,211.2 898.5,213.5 898.9,215.7 899.3,218.0 898.9,220.2 896.2,222.5 893.4,224.8 890.4,227.1 888.9,229.4 887.4,231.7 885.1,234.1 883.2,236.4 880.0,238.7 881.0,241.1 880.8,243.4 879.5,245.8 876.1,248.1 873.4,250.5 874.0,252.8 874.8,255.2 872.8,257.5 870.3,259.9 866.9,262.2 866.1,264.5 864.2,266.9 863.9,269.2 862.0,271.5 860.6,273.8 858.5,276.1 858.1,278.5 855.7,280.7 853.8,283.0 851.3,285.3 850.7,287.6 849.9,289.9 848.8,292.2 848.1,294.4 846.3,296.7 844.3,299.0 842.5,301.2 841.3,303.5 838.5,305.8 837.5,308.1 835.3,310.4 833.9,312.7 830.5,315.0 827.5,317.3 826.9,319.6 827.3,322.0 825.9,324.3 822.3,326.7 819.3,329.0 821.4,331.4 820.4,333.8 819.5,336.2 814.4,338.6 814.6,341.0 812.6,343.4 813.7,345.8 811.6,348.2 810.3,350.6 808.3,353.0 807.7,355.4 806.7,357.8 805.5,360.2 803.7,362.6 803.1,365.0 801.4,367.4 801.5,369.8 799.1,372.1 797.9,374.5 797.2,376.8 797.2,379.1 795.8,381.5 793.2,383.8 791.4,386.1 792.9,388.4 791.7,390.6 790.5,392.9 786.3,395.2 785.9,397.4 786.2,399.7 786.5,401.9 784.2,404.2 782.7,406.4 780.4,408.7 781.4,410.9 779.3,413.2 778.9,415.4 777.7,417.6 777.8,419.9 778.6,422.1 777.8,424.4 778.1,426.7 777.1,429.0 777.3,431.2 776.7,433.5 773.7,435.8 770.4,438.1 767.6,440.5 768.4,442.8 768.6,445.1 767.7,447.5 766.8,449.9 765.2,452.2 764.1,454.6 763.1,457.0 763.2,459.4 763.0,461.8 762.0,464.2 759.5,466.6 757.3,469.0 756.3,471.4 756.2,473.9 754.4,476.3 753.7,478.7 754.4,481.1 756.2,483.5 754.8,486.0 754.7,488.4 753.2,490.8 754.4,493.2 753.2,495.5 753.4,497.9 751.6,500.3 752.7,502.6 752.8,505.0 754.3,507.3 753.0,509.6 753.0,511.9 752.8,514.2 752.3,516.5 753.3,518.8 753.4,521.1 754.1,523.3 752.9,525.6 751.4,527.8 752.4,530.0 753.5,532.3 754.6,534.5 753.3,536.7 753.1,538.9 752.0,541.1 751.4,543.3 750.5,545.6 750.0,547.8 749.3,550.0 748.0,552.3 747.6,554.5 747.2,556.8" fill="none" stroke="#00ffff" stroke-width="12.0" stroke-linecap="round" stroke-linejoin="round" />
<polyline points="618.6,19.4 621.7,20.4 625.5,22.7 630.5,25.0 636.6,27.4" fill="none" stroke="#00ffff" stroke-width="12.0" stroke-linecap="round" stroke-linejoin="round" />
<polyline points="636.6,27.4 653.9,29.7 673.5,32.1 692.0,34.5 704.9,37.0 725.8,39.4 748.0,41.9 788.9,44.4 811.8,46.9 825.8,49.4 833.7,51.9 838.2,54.4 842.5,56.8 844.2,59.3 848.1,61.7 852.4,64.1 856.4,66.5 862.6,68.8 866.2,71.2 871.2,73.5 877.4,75.8 884.9,78.1 895.3,80.4 901.7,82.7" fill="none" stroke="#00ffff" stroke-width="7.0" stroke-linecap="round" stroke-linejoin="round" />
<polyline points="901.7,82.7 910.8,84.9 915.3,87.0 919.8,89.2 922.4,91.3 926.6,93.3 930.2,95.4 932.4,97.5 935.1,99.6 936.1,101.8 938.6,104.0 940.6,106.3 943.4,108.6 944.1,110.9 943.4,113.3 944.0,115.7 943.7,118.1 944.0,120.6 943.8,123.0 942.9,125.5 944.0,127.9 942.3,130.3 943.2,132.7 942.9,135.1 945.0,137.5 943.3,139.7 943.1,142.0 942.5,144.2 943.2,146.4 942.3,148.5 941.4,150.6 941.3,152.6 941.2,154.6 940.0,156.6 938.2,158.6 934.6,160.5 934.4,162.5 933.5,164.5 931.2,166.5 926.2,168.5 920.9,170.6 919.8,172.8 916.2,175.0 913.8,177.2 909.5,179.5 906.0,181.9 902.7,184.4 900.1,186.9 899.1,189.4 897.7,192.0 895.0,194.7 892.5,197.3 894.2,200.1 895.2,202.9 896.7,205.7 896.5,208.5 896.8,211.2 895.3,213.9 892.9,216.6 892.1,219.1 891.7,221.6 892.2,224.1 890.2,226.5 888.1,228.9 886.8,231.3 886.9,233.6 887.1,235.9 884.5,238.2 882.0,240.5 879.8,242.8 879.9,245.0 878.0,247.3 876.1,249.5 874.5,251.8 872.8,254.0 870.8,256.3 868.8,258.6 867.7,261.0 865.7,263.3 863.0,265.7 862.0,268.1 861.8,270.5 860.5,272.9 860.3,275.3 861.0,277.8 859.5,280.2 859.1,282.7 856.9,285.2 857.4,287.6 855.4,290.0 852.7,292.4 850.6,294.8 848.3,297.2 845.4,299.5 842.0,301.8 838.9,304.1 836.3,306.3 834.7,308.5 833.4,310.6 833.1,312.7 829.6,314.8 826.4,316.9 824.2,319.0 822.3,321.1 820.8,323.1 818.0,325.2 818.2,327.2 817.1,329.3 816.0,331.4 813.5,333.6 813.4,335.7 814.4,337.9 814.5,340.1 814.5,342.4 814.8,344.7 814.8,347.0 814.8,349.4 811.6,351.8 811.0,354.2 808.1,356.7 807.9,359.1 806.1,361.6 805.2,364.1 803.6,366.6 800.6,369.1 798.5,371.6 797.4,374.0 795.8,376.5 795.8,378.9 793.8,381.3 792.7,383.7 789.2,386.0 786.9,388.4 785.9,390.7 785.4,393.0 784.4,395.3 784.2,397.5 782.5,399.8 782.8,402.1 779.6,404.4 778.2,406.7 777.0,409.0 777.9,411.3 778.6,413.6 777.1,416.0 775.9,418.4 776.9,420.8 776.7,423.2 777.1,425.7 775.3,428.2 776.0,430.7 774.5,433.2 773.9,435.8 771.8,438.3 771.0,440.9 769.7,443.4 767.9,446.0 766.3,448.5 763.9,451.0 764.7,453.5 764.4,456.0 764.6,458.4 762.9,460.8 761.7,463.1 761.6,465.4 760.9,467.7 761.5,469.9 761.6,472.1 762.0,474.3 760.4,476.4 759.4,478.5 755.9,480.6 754.7,482.7 753.4,484.8 755.9,486.8 756.7,488.9 755.9,491.0 755.2,493.2 754.3,495.3 753.5,497.5 752.7,499.7 751.3,501.9 750.3,504.1 748.3,506.4 747.9,508.7 748.4,511.1 749.4,513.4 750.0,515.8 750.4,518.2 751.0,520.6 751.6,523.0 752.5,525.4 752.1,527.8 753.0,530.1 752.8,532.5 753.7,534.8 753.8,537.2 754.0,539.5 752.9,541.7 753.6,544.0 753.1,546.2 754.5,548.5 752.1,550.7 750.4,552.9" fill="none" stroke="#00ffff" stroke-width="12.0" stroke-linecap="round" stroke-linejoin="round" />
<polyline points="617.9,19.8 619.2,22.2 621.6,24.5 628.1,26.9 637.2,29.3" fill="none" stroke="#00ffff" stroke-width="12.0" stroke-linecap="round" stroke-linejoin="round" />
<polyline points="637.2,29.3 653.7,31.7 675.0,34.1 692.7,36.5 711.7,38.9 729.9,41.3 750.8,43.6 787.6,46.0 812.0,48.3 825.1,50.6 832.7,52.9 835.2,55.2 842.3,57.4 846.0,59.7 850.5,62.0 853.3,64.2 856.1,66.5 862.5,68.7 868.5,71.0 873.7,73.3 880.6,75.6 887.8,78.0 897.3,80.4 904.1,82.8" fill="none" stroke="#00ffff" stroke-width="7.0" stroke-linecap="round" stroke-linejoin="round" />
<polyline points="904.1,82.8 910.2,85.3 915.4,87.7 920.2,90.3 922.2,92.8 925.2,95.4 925.3,98.1 928.2,100.6 931.0,103.1 934.4,105.6 934.8,108.1 935.5,110.5 935.5,112.9 938.7,115.2 939.7,117.5 941.3,119.7 940.9,122.0 944.0,124.1 946.8,126.2 947.2,128.4 946.4,130.4 944.9,132.5 946.7,134.6 944.7,136.7 944.2,138.8 943.3,141.0 943.8,143.2 944.1,145.4 943.8,147.6 943.4,150.0 942.9,152.3 942.4,154.7 941.6,157.2 938.4,159.7 934.6,162.2 933.6,164.7 931.9,167.3 931.2,169.9 929.4,172.4 928.4,175.0 927.8,177.5 923.1,180.0 919.8,182.5 915.2,184.9 912.7,187.3 909.1,189.7 905.5,192.0 903.8,194.3 901.2,196.5 900.5,198.8 897.9,201.0 897.3,203.2 895.8,205.4 895.4,207.5 895.3,209.6 895.9,211.8 895.1,214.0 895.9,216.2 896.0,218.4 895.3,220.7 892.6,223.0 890.4,225.3 890.1,227.6 890.5,230.0 890.3,232.4 888.7,234.8 885.9,237.2 882.5,239.5 881.6,241.9 879.1,244.3 877.4,246.6 875.8,248.9 875.3,251.2 875.2,253.5 872.3,255.8 870.7,258.1 868.6,260.3 869.5,262.6 868.0,264.8 867.6,267.1 865.9,269.3 864.8,271.5 863.4,273.8 861.4,276.1 859.7,278.3 857.3,280.6 855.5,282.9 854.8,285.3 852.7,287.6 849.9,290.0 845.8,292.4 842.0,294.8 841.5,297.2 840.4,299.6 840.7,302.0 839.5,304.5 839.1,306.9 838.7,309.3 837.0,311.7 834.1,314.1 832.6,316.4 830.5,318.8 829.4,321.1 828.0,323.4 826.6,325.7 825.7,328.0 824.1,330.3 822.4,332.5 820.4,334.8 818.8,337.0 817.0,339.3 815.6,341.5 814.0,343.8 815.6,346.1 816.0,348.3 814.0,350.6 812.2,352.9 809.1,355.3 808.4,357.6 807.7,360.0 807.3,362.3 806.5,364.7 803.9,367.0 801.8,369.4 798.9,371.8 795.7,374.2 794.2,376.5 792.3,378.9 790.6,381.2 790.2,383.6 790.1,385.9 791.0,388.2 788.8,390.5 788.1,392.9 785.6,395.2 784.6,397.5 784.4,399.8 782.8,402.1 783.2,404.4 782.0,406.7 783.5,409.0 784.3,411.4 784.4,413.8 783.4,416.1 781.4,418.5 781.1,420.9 778.6,423.3 778.4,425.7 776.4,428.1 778.2,430.5 776.3,432.9 776.2,435.3 774.8,437.7 774.6,440.1 773.4,442.5 771.6,444.8 770.6,447.1 771.3,449.4 770.1,451.7 768.4,454.0 765.6,456.2 766.2,458.4 764.9,460.7 764.3,462.9 762.2,465.1 760.6,467.3 758.8,469.5 754.5,471.7 753.2,474.0 752.8,476.2 754.8,478.5 754.6,480.8 752.6,483.1 751.5,485.5 750.7,487.8 749.5,490.2 749.8,492.6 752.1,495.0 754.5,497.4 754.8,499.8 753.9,502.2 754.8,504.6 757.3,507.0 757.6,509.4 757.8,511.8 756.5,514.1 755.3,516.5 753.1,518.8 751.3,521.1 751.4,523.4 754.2,525.7 755.3,527.9 754.8,530.2 750.8,532.5 751.8,534.7 752.5,537.0 754.1,539.3 753.4,541.5 754.0,543.8 752.6,546.2 750.6,548.5 750.1,550.8 750.7,553.2 750.5,555.6 748.0,558.0" fill="none" stroke="#00ffff" stroke-width="12.0" stroke-linecap="round" stroke-linejoin="round" />
<polyline points="620.3,19.6 620.8,21.9 623.5,24.1 626.2,26.3 635.0,28.5" fill="none" stroke="#00ffff" stroke-width="12.0" stroke-linecap="round" stroke-linejoin="round" />
<polyline points="635.0,28.5 652.8,30.7 673.7,32.9 691.4,35.1 707.5,37.4 726.9,39.6 748.9,41.9 786.8,44.1 811.5,46.4 825.1,48.7 832.5,51.1 838.2,53.4 843.9,55.8 848.2,58.1 850.0,60.5 853.3,62.9 857.7,65.3 863.6,67.7 868.3,70.0 873.7,72.4 881.1,74.8 889.7,77.0 897.6,79.3 905.7,81.5" fill="none" stroke="#00ffff" stroke-width="7.0" stroke-linecap="round" stroke-linejoin="round" />
<polyline points="905.7,81.5 913.7,83.8 919.7,86.0 921.4,88.1 921.7,90.3 923.6,92.4 926.6,94.6 930.6,96.8 934.1,99.1 936.5,101.4 937.4,103.8 937.9,106.2 938.2,108.6 940.0,111.0 941.3,113.5 943.4,116.0 944.0,118.5 945.6,121.0 946.0,123.6 945.3,126.1 945.9,128.6 945.9,131.1 947.4,133.5 945.5,136.0 945.2,138.4 944.7,140.7 945.2,143.1 944.3,145.5 942.5,147.8 943.0,150.1 942.8,152.5 943.1,154.9 941.0,157.3 940.1,159.8 936.6,162.3 934.5,164.9 932.9,167.5 930.7,170.1 927.5,172.8 923.9,175.5 921.0,178.2 920.6,180.9 917.4,183.6 915.7,186.2 911.1,188.9 908.1,191.4 905.9,194.0 904.3,196.4 903.3,198.8 903.1,201.1 902.5,203.3 901.2,205.5 900.5,207.7 900.5,209.6 900.6,211.6 900.2,213.5 900.1,215.5 897.7,217.5 897.2,219.6 896.8,221.7 895.8,223.8 894.6,225.9 892.3,228.2 893.3,230.5 889.1,232.7 887.4,235.0 885.2,237.3 885.2,239.5 884.1,241.7 881.0,243.9 881.8,246.0 878.4,248.1 876.9,250.2 873.6,252.2 873.1,254.3 872.1,256.3 869.8,258.3 867.9,260.3 865.6,262.4 863.8,264.4 861.3,266.6 860.7,268.7 860.2,270.9 860.6,273.2 860.0,275.5 859.0,277.9 856.4,280.2 855.6,282.7 852.7,285.1 851.0,287.6 850.4,290.0 849.8,292.5 849.8,294.9 846.5,297.3 844.7,299.7 842.0,302.1 840.6,304.4 840.6,306.8 839.6,309.1 835.9,311.4 832.1,313.7 830.5,316.0 830.4,318.4 828.1,320.8 825.8,323.2 822.7,325.6 820.6,328.1 818.0,330.6 818.1,333.2 817.7,335.7 816.6,338.3 815.2,340.9 813.8,343.5 812.6,346.0 811.1,348.6 808.6,351.1 809.1,353.5 807.2,355.9 806.9,358.3 804.6,360.6 804.0,362.9 802.7,365.2 801.9,367.4 800.6,369.7 798.8,371.9 797.8,374.1 797.0,376.4 797.8,378.7 797.9,381.0 796.6,383.4 796.7,385.7 795.6,388.2 794.6,390.6 793.2,393.1 791.6,395.5 789.0,398.0 786.8,400.5 786.9,403.0 786.6,405.4 785.5,407.8 783.2,410.2 783.5,412.5 782.8,414.8 781.7,417.1 780.7,419.3 778.1,421.6 777.8,423.8 776.9,426.0 778.4,428.2 777.0,430.5 776.3,432.7 774.1,435.0 773.6,437.3 772.6,439.7 771.8,442.0 771.2,444.4 770.3,446.8 769.4,449.2 768.0,451.6 767.9,454.0 767.9,456.3 766.4,458.6 765.5,460.9 764.9,463.2 764.4,465.4 762.4,467.6 760.4,469.7 759.4,471.8 757.6,473.9 758.8,476.0 758.5,478.0 759.0,480.1 754.9,482.2 754.0,484.3 753.2,486.4 754.6,488.5 753.5,490.7 752.7,492.9 752.7,495.1 753.1,497.3 753.4,499.6 751.8,501.9 752.0,504.2 752.3,506.5 753.1,508.8 753.4,511.1 753.1,513.5 752.8,515.8 753.2,518.0 753.2,520.3 753.4,522.6 752.3,524.9 754.3,527.2 753.7,529.5 752.9,531.8 750.5,534.1 750.3,536.5 750.4,538.9 751.6,541.3 753.2,543.7 755.1,546.2 754.1,548.7 753.0,551.2 750.2,553.8 749.9,556.4 748.2,559.0 748.5,561.6" fill="none" stroke="#00ffff" stroke-width="12.0" stroke-linecap="round" stroke-linejoin="round" />
<polyline points="921.0,102.0 918.5,107.0 920.0,122.0 909.5,130.6 909.5,140.0 928.6,142.6" fill="none" stroke="#00ffff" stroke-width="9.0" stroke-linecap="round" stroke-linejoin="round" />
<polyline points="775.0,42.5 790.0,43.5 815.0,47.0 834.0,49.5 852.0,54.0" fill="none" stroke="#00ffff" stroke-width="6.0" stroke-linecap="round" stroke-linejoin="round" />
<polyline points="800.0,52.0 822.0,60.0 838.0,66.0 851.0,70.0 864.0,73.5 877.0,79.0 894.0,88.0 905.0,96.0" fill="none" stroke="#00ffff" stroke-width="6.0" stroke-linecap="round" stroke-linejoin="round" />
<polyline points="622.0,24.0 628.0,29.0 640.0,31.0 655.0,33.0" fill="none" stroke="#00ffff" stroke-width="6.0" stroke-linecap="round" stroke-linejoin="round" />
<polyline points="640.0,19.4 640.0,21.0 640.0,22.5 640.0,24.1 640.5,25.6 641.0,27.2 642.0,28.7 644.0,31.0 652.0,34.9 669.0,38.8 698.0,42.7 735.0,46.6 800.0,50.4 822.0,54.3 843.0,58.2 875.0,66.0 886.0,73.7 893.0,81.5 902.0,89.2 912.0,97.0 935.5,116.4 933.0,135.8 920.0,174.6 900.8,213.4 875.0,252.2 849.4,291.0 817.7,329.8 783.0,407.4 757.7,485.0 744.8,562.6 739.1,640.2 737.2,717.8 739.4,795.4" fill="none" stroke="#ff0000" stroke-width="8.4" stroke-linecap="round" stroke-linejoin="round" />
<polyline points="757.7,485.0 744.8,562.6 739.1,640.2 737.2,717.8 739.4,795.4" fill="none" stroke="#ff0000" stroke-width="8.4" stroke-linecap="round" stroke-linejoin="round" />
<polyline points="825.8,49.6 833.3,51.9 837.9,54.2 842.4,56.5 846.5,58.8 849.8,61.0 853.2,63.3 856.5,65.6 862.2,67.9 867.9,70.2 873.6,72.5 881.0,74.8 889.3,77.1 897.6,79.4 903.6,81.7 909.6,84.1 915.6,86.5 919.3,88.8 921.9,91.2 924.5,93.5 927.1,95.8 929.7,98.1 932.0,100.3 934.0,102.5 935.9,104.7 937.8,106.9 939.8,109.1 941.3,111.4 942.1,113.7 942.8,116.1 943.6,118.5 944.4,121.0 945.2,123.6 945.2,126.2 945.2,128.8 945.3,131.4 945.3,134.0 945.2,136.5 944.7,138.9 944.3,141.3 943.8,143.6 943.3,145.9 942.4,148.0 941.2,150.2 940.0,152.2 938.8,154.3 937.6,156.4 935.9,158.5 934.1,160.7 932.2,163.0 930.4,165.4 928.5,167.8 926.4,170.3 923.7,172.9 921.0,175.5 918.4,178.1 915.7,180.7 913.0,183.3 910.3,185.8 907.7,188.3 906.0,190.6 904.4,192.9 902.8,195.0 901.2,197.1 899.5,199.1 898.4,201.1 898.4,203.1 898.3,205.1 898.3,207.2 898.2,209.4 898.1,211.6 897.1,214.0 895.7,216.4 894.2,218.8 892.8,221.3 891.3,223.8 889.8,226.2 888.3,228.7 886.9,231.2 885.4,233.6 883.9,236.0 882.4,238.3 880.9,240.6 879.4,242.9 877.9,245.1 876.4,247.3 875.0,249.5 873.5,251.7 872.1,253.9 870.7,256.1 869.3,258.3 868.0,260.6 866.6,263.0 865.2,265.3 863.8,267.7 862.5,270.1 861.1,272.6 859.7,275.0 858.4,277.4 857.0,279.9 855.7,282.2 854.3,284.6 853.0,286.9 851.6,289.2 850.0,291.5 848.3,293.8 846.6,296.1 844.9,298.4 843.2,300.7 841.5,303.0 839.8,305.4 838.1,307.7 836.4,310.1 834.6,312.5 832.9,315.0 831.2,317.4 829.5,319.8 827.7,322.2 826.0,324.6 824.2,326.9 822.5,329.3 821.1,331.5 819.8,333.8 818.4,336.0 817.1,338.3 815.7,340.5 814.3,342.7 813.0,345.0 811.6,347.3 810.2,349.6 808.8,351.9 807.5,354.3 806.1,356.8 804.7,359.2 803.3,361.7 801.9,364.1 800.6,366.6 799.2,369.0 797.9,371.4 796.9,373.7 795.9,376.0 794.9,378.3 793.9,380.5 792.9,382.7 791.9,384.8 790.9,386.9 789.9,389.1 789.0,391.2 788.0,393.5 787.0,395.7 786.1,398.0 785.1,400.4 784.2,402.8 783.3,405.2 782.4,407.7 781.7,410.2 781.0,412.7 780.2,415.2 779.5,417.7 778.8,420.1 778.1,422.5 777.4,424.8 776.7,427.1 776.0,429.3 775.3,431.5 774.6,433.7 773.9,435.8 773.1,438.0 772.2,440.2 771.2,442.4 770.1,444.6 769.1,446.9 768.0,449.3 767.0,451.7 765.9,454.2 764.8,456.6 763.8,459.1 762.7,461.6 761.6,464.1 760.5,466.6 759.4,469.0 758.5,471.4 757.7,473.7 757.0,476.0 756.2,478.3 755.5,480.5 754.7,482.7 754.2,484.9 754.1,487.1 754.1,489.4 754.1,491.6 754.0,493.9 754.0,496.2 753.9,498.6 753.9,500.9 753.9,503.3 753.8,505.7 753.8,508.2 753.8,510.6 753.7,512.9 753.7,515.3 753.7,517.6 753.7,519.9 753.6,522.2 753.6,524.4 753.6,526.7 753.5,528.9 753.5,531.2 753.5,533.4 753.4,535.7 753.4,538.0 753.2,540.4 752.7,542.7 752.2,545.1 751.7,547.5 751.2,549.9 750.6,552.3 750.1,554.7 749.6,557.1 749.1,559.4 748.5,561.7 748.4,564.0 748.2,566.2" fill="none" stroke="#0000ff" stroke-width="3.1" stroke-linecap="round" stroke-linejoin="round" />
<polyline points="825.7,49.4 833.2,51.7 837.7,54.0 842.2,56.3 846.3,58.6 849.6,60.9 853.0,63.2 856.3,65.5 862.0,67.8 867.7,70.2 873.4,72.5 880.8,74.9 889.1,77.2 897.3,79.5 903.3,81.9 909.3,84.2 915.3,86.6 919.0,88.9 921.6,91.3 924.2,93.7 926.8,96.0 929.4,98.4 931.7,100.7 933.7,103.0 935.7,105.3 937.6,107.5 939.6,109.8 941.1,112.0 942.0,114.2 942.8,116.4 943.6,118.6 944.4,120.8 945.2,123.0 945.3,125.2 945.4,127.4 945.6,129.6 945.7,131.8 945.6,134.1 945.2,136.4 944.7,138.7 944.3,141.0 943.9,143.4 942.9,145.8 941.7,148.2 940.5,150.7 939.3,153.1 938.1,155.6 936.4,158.1 934.5,160.6 932.6,163.1 930.7,165.6 928.8,168.0 926.6,170.5 923.8,172.9 921.1,175.4 918.3,177.8 915.6,180.1 912.8,182.5 910.1,184.8 907.4,187.1 905.7,189.4 904.0,191.6 902.3,193.8 900.7,196.0 899.0,198.2 897.9,200.4 897.9,202.6 897.8,204.9 897.8,207.1 897.7,209.4 897.7,211.7 896.7,214.0 895.3,216.4 893.8,218.8 892.4,221.1 891.0,223.5 889.5,225.9 888.1,228.3 886.6,230.6 885.1,233.0 883.7,235.4 882.2,237.8 880.8,240.2 879.3,242.6 877.8,245.0 876.3,247.3 874.9,249.7 873.5,252.1 872.1,254.4 870.7,256.7 869.4,259.0 868.0,261.3 866.7,263.6 865.3,265.9 864.0,268.2 862.6,270.4 861.3,272.7 860.0,274.9 858.7,277.2 857.3,279.4 856.0,281.7 854.7,283.9 853.3,286.2 852.0,288.5 850.4,290.8 848.7,293.1 846.9,295.4 845.2,297.8 843.5,300.1 841.7,302.5 840.0,304.9 838.2,307.3 836.4,309.7 834.6,312.2 832.9,314.6 831.1,317.0 829.3,319.4 827.5,321.8 825.7,324.3 823.9,326.7 822.2,329.0 820.8,331.4 819.5,333.8 818.1,336.1 816.8,338.4 815.5,340.7 814.2,343.0 812.8,345.3 811.5,347.6 810.2,349.8 808.9,352.1 807.5,354.3 806.2,356.5 804.9,358.8 803.6,361.0 802.2,363.3 800.9,365.5 799.5,367.8 798.3,370.1 797.3,372.4 796.3,374.7 795.2,377.1 794.2,379.4 793.2,381.8 792.2,384.1 791.2,386.5 790.1,388.9 789.1,391.3 788.1,393.7 787.1,396.1 786.1,398.5 785.1,400.9 784.1,403.3 783.2,405.6 782.3,408.0 781.5,410.4 780.8,412.7 780.1,415.0 779.3,417.3 778.6,419.6 777.9,421.9 777.2,424.1 776.4,426.4 775.7,428.7 775.0,430.9 774.3,433.2 773.6,435.4 772.8,437.7 771.9,440.0 770.8,442.2 769.8,444.5 768.7,446.8 767.6,449.2 766.6,451.5 765.5,453.9 764.4,456.2 763.3,458.6 762.2,461.0 761.2,463.4 760.1,465.9 759.0,468.3 758.1,470.7 757.4,473.1 756.7,475.5 755.9,477.9 755.2,480.3 754.5,482.7 754.1,485.1 754.1,487.5 754.1,489.8 754.1,492.1 754.2,494.4 754.2,496.7 754.2,499.0 754.2,501.2 754.2,503.5 754.2,505.7 754.2,508.0 754.2,510.2 754.1,512.4 754.1,514.7 754.0,516.9 754.0,519.1 753.9,521.4 753.8,523.7 753.7,526.0 753.6,528.3 753.5,530.6 753.4,532.9 753.3,535.3 753.2,537.7 753.0,540.0 752.5,542.4 751.9,544.8 751.4,547.2 750.9,549.6 750.3,552.0 749.8,554.4 749.3,556.8 748.8,559.2 748.3,561.6" fill="none" stroke="#0000ff" stroke-width="3.1" stroke-linecap="round" stroke-linejoin="round" />
<polyline points="825.1,49.4 832.5,51.7 837.0,54.1 841.5,56.4 845.7,58.8 849.0,61.1 852.3,63.5 855.6,65.8 861.3,68.2 867.0,70.5 872.8,72.8 880.2,75.2 888.4,77.5 896.7,79.8 902.7,82.1 908.7,84.4 914.7,86.7 918.4,88.9 921.0,91.2 923.6,93.5 926.2,95.7 928.9,98.0 931.3,100.3 933.3,102.6 935.3,104.9 937.3,107.2 939.3,109.5 941.0,111.9 941.9,114.2 942.8,116.5 943.7,118.9 944.6,121.2 945.5,123.6 945.7,125.9 945.9,128.3 946.2,130.7 946.4,133.1 946.4,135.5 946.1,137.9 945.8,140.3 945.4,142.6 945.1,145.0 944.3,147.4 943.1,149.8 942.0,152.2 940.8,154.6 939.6,156.9 938.0,159.3 936.1,161.6 934.2,164.0 932.3,166.3 930.3,168.6 928.1,170.9 925.2,173.2 922.4,175.5 919.5,177.7 916.6,180.0 913.8,182.2 910.9,184.5 908.0,186.7 906.1,188.9 904.3,191.2 902.5,193.4 900.7,195.6 898.9,197.8 897.6,200.0 897.4,202.3 897.3,204.5 897.1,206.8 897.0,209.1 896.9,211.5 895.9,213.8 894.4,216.2 893.0,218.6 891.5,220.9 890.1,223.3 888.7,225.7 887.4,228.0 886.0,230.4 884.6,232.7 883.3,235.1 881.9,237.5 880.6,239.8 879.2,242.2 877.8,244.6 876.4,247.0 875.0,249.4 873.7,251.8 872.3,254.2 871.0,256.6 869.7,259.0 868.3,261.4 867.0,263.7 865.6,266.1 864.2,268.5 862.8,270.9 861.5,273.2 860.1,275.6 858.7,277.9 857.3,280.3 855.9,282.6 854.6,284.9 853.2,287.3 851.8,289.6 850.2,291.9 848.5,294.2 846.8,296.5 845.1,298.8 843.4,301.1 841.7,303.4 840.0,305.7 838.3,307.9 836.6,310.2 834.9,312.5 833.1,314.8 831.4,317.1 829.7,319.4 827.9,321.7 826.2,324.0 824.4,326.3 822.6,328.6 821.2,331.0 819.8,333.3 818.4,335.6 817.0,337.9 815.6,340.3 814.2,342.6 812.8,344.9 811.3,347.3 809.9,349.6 808.5,352.0 807.0,354.3 805.6,356.7 804.2,359.0 802.8,361.4 801.4,363.7 800.0,366.1 798.7,368.4 797.4,370.7 796.5,373.1 795.5,375.4 794.6,377.7 793.7,380.0 792.8,382.4 791.9,384.7 791.1,387.0 790.2,389.3 789.4,391.6 788.6,393.9 787.7,396.2 786.9,398.5 786.1,400.8 785.3,403.1 784.4,405.4 783.6,407.7 783.0,410.0 782.3,412.3 781.6,414.6 780.9,416.9 780.1,419.2 779.4,421.5 778.6,423.8 777.9,426.1 777.1,428.5 776.2,430.8 775.4,433.1 774.6,435.5 773.8,437.8 772.7,440.1 771.5,442.5 770.3,444.9 769.2,447.2 768.0,449.6 766.8,451.9 765.7,454.3 764.5,456.7 763.4,459.0 762.3,461.4 761.1,463.8 760.0,466.2 758.9,468.5 758.0,470.9 757.2,473.3 756.5,475.6 755.8,478.0 755.1,480.4 754.4,482.7 753.9,485.1 753.9,487.4 753.9,489.8 753.9,492.1 753.9,494.4 753.8,496.8 753.8,499.1 753.8,501.4 753.7,503.7 753.7,506.1 753.6,508.4 753.6,510.7 753.5,513.0 753.4,515.3 753.3,517.6 753.3,519.9 753.2,522.2 753.1,524.5 753.0,526.8 752.9,529.1 752.9,531.4 752.8,533.6 752.7,535.9 752.7,538.2 752.5,540.5 752.1,542.8 751.6,545.1 751.2,547.4 750.7,549.7 750.3,552.0 749.9,554.3 749.4,556.6 749.0,558.9" fill="none" stroke="#0000ff" stroke-width="3.1" stroke-linecap="round" stroke-linejoin="round" />
<polyline points="825.5,49.9 833.0,52.2 837.5,54.5 842.0,56.9 846.1,59.2 849.4,61.5 852.7,63.8 856.0,66.1 861.6,68.4 867.3,70.7 873.0,73.1 880.4,75.4 888.6,77.7 896.8,80.0 902.8,82.3 908.8,84.6 914.8,86.9 918.6,89.2 921.2,91.4 923.9,93.7 926.6,96.0 929.2,98.3 931.7,100.5 933.8,102.8 935.9,105.1 937.9,107.4 940.0,109.7 941.7,112.0 942.7,114.3 943.6,116.6 944.5,118.9 945.5,121.2 946.4,123.4 946.6,125.7 946.7,128.0 946.9,130.3 947.1,132.6 947.0,134.9 946.6,137.2 946.2,139.5 945.8,141.8 945.4,144.1 944.4,146.4 943.1,148.7 941.9,151.1 940.6,153.4 939.4,155.7 937.7,158.1 935.7,160.4 933.7,162.8 931.8,165.2 929.8,167.5 927.6,169.9 924.7,172.3 921.9,174.7 919.1,177.1 916.3,179.5 913.5,181.9 910.7,184.3 907.9,186.7 906.2,189.1 904.4,191.5 902.7,193.9 901.0,196.3 899.3,198.7 898.2,201.1 898.1,203.5 898.0,205.9 897.9,208.3 897.8,210.6 897.7,213.0 896.7,215.3 895.2,217.7 893.8,220.0 892.3,222.3 890.9,224.6 889.4,227.0 888.0,229.3 886.5,231.7 885.1,234.0 883.6,236.4 882.2,238.7 880.7,241.0 879.3,243.4 877.8,245.7 876.4,248.0 874.9,250.4 873.5,252.7 872.1,255.0 870.7,257.3 869.4,259.6 868.0,261.9 866.7,264.2 865.3,266.5 864.0,268.8 862.6,271.1 861.3,273.4 859.9,275.7 858.6,278.0 857.2,280.2 855.9,282.5 854.6,284.8 853.2,287.1 851.9,289.3 850.3,291.6 848.6,293.9 846.9,296.2 845.2,298.4 843.5,300.7 841.8,303.0 840.1,305.3 838.4,307.6 836.7,309.9 835.0,312.2 833.3,314.5 831.5,316.8 829.8,319.1 828.1,321.4 826.3,323.7 824.6,326.0 822.9,328.3 821.5,330.7 820.2,333.0 818.9,335.3 817.6,337.7 816.3,340.0 814.9,342.3 813.6,344.7 812.3,347.0 810.9,349.3 809.6,351.7 808.2,354.0 806.9,356.4 805.5,358.7 804.2,361.1 802.8,363.5 801.5,365.8 800.1,368.2 798.9,370.6 797.9,372.9 796.8,375.3 795.8,377.7 794.8,380.1 793.8,382.4 792.7,384.8 791.7,387.2 790.7,389.6 789.6,392.0 788.6,394.4 787.6,396.7 786.5,399.1 785.5,401.5 784.5,403.9 783.5,406.2 782.5,408.6 781.7,411.0 781.0,413.3 780.2,415.7 779.4,418.0 778.7,420.4 777.9,422.7 777.2,425.0 776.5,427.3 775.8,429.7 775.1,432.0 774.4,434.3 773.7,436.6 773.0,438.9 772.1,441.2 771.1,443.5 770.1,445.8 769.1,448.1 768.1,450.4 767.1,452.7 766.1,455.0 765.1,457.3 764.1,459.6 763.1,461.9 762.1,464.2 761.1,466.5 760.0,468.7 759.1,471.0 758.4,473.3 757.6,475.6 756.9,477.9 756.1,480.2 755.4,482.5 754.8,484.7 754.8,487.0 754.7,489.3 754.6,491.6 754.5,493.9 754.5,496.2 754.4,498.5 754.3,500.7 754.2,503.0 754.2,505.3 754.1,507.6 754.0,509.9 754.0,512.3 753.9,514.6 753.9,516.9 753.8,519.2 753.8,521.6 753.8,523.9 753.7,526.2 753.7,528.6 753.7,530.9 753.6,533.3 753.6,535.7 753.6,538.0 753.4,540.4 752.9,542.8 752.4,545.1 751.9,547.5 751.4,549.9 750.9,552.2 750.3,554.6 749.8,557.0 749.2,559.4" fill="none" stroke="#0000ff" stroke-width="3.1" stroke-linecap="round" stroke-linejoin="round" />
<polyline points="825.7,49.5 833.2,51.8 837.7,54.1 842.2,56.5 846.4,58.8 849.7,61.1 853.0,63.4 856.3,65.7 862.1,68.0 867.8,70.4 873.5,72.7 880.9,75.0 889.2,77.3 897.5,79.5 903.5,81.8 909.5,84.1 915.5,86.3 919.3,88.6 922.0,90.9 924.6,93.2 927.2,95.5 929.9,97.9 932.3,100.2 934.3,102.6 936.3,105.0 938.2,107.4 940.2,109.8 941.8,112.2 942.6,114.6 943.5,117.0 944.3,119.4 945.1,121.8 945.9,124.2 946.0,126.6 946.1,128.9 946.2,131.3 946.2,133.7 946.1,136.0 945.7,138.4 945.2,140.7 944.7,143.0 944.3,145.3 943.3,147.6 942.1,149.9 940.8,152.2 939.6,154.5 938.4,156.7 936.7,159.0 934.8,161.2 932.9,163.4 931.0,165.7 929.1,167.9 926.9,170.1 924.1,172.4 921.4,174.6 918.6,176.8 915.9,179.1 913.2,181.3 910.4,183.6 907.7,185.8 906.0,188.1 904.3,190.4 902.6,192.7 901.0,194.9 899.3,197.2 898.1,199.5 898.1,201.9 898.0,204.2 897.9,206.6 897.8,209.0 897.8,211.4 896.8,213.8 895.3,216.2 893.9,218.6 892.4,221.0 891.0,223.5 889.5,225.8 888.1,228.1 886.6,230.5 885.2,232.9 883.8,235.2 882.3,237.6 880.9,239.9 879.5,242.3 878.0,244.6 876.6,247.0 875.1,249.4 873.7,251.7 872.4,254.1 871.0,256.5 869.7,258.8 868.3,261.2 867.0,263.6 865.6,265.9 864.3,268.3 862.9,270.7 861.6,273.1 860.2,275.5 858.8,277.8 857.5,280.2 856.1,282.6 854.7,284.9 853.4,287.3 852.0,289.7 850.4,292.0 848.6,294.4 846.9,296.7 845.2,299.1 843.4,301.4 841.7,303.7 839.9,306.0 838.2,308.3 836.4,310.7 834.7,313.0 832.9,315.2 831.2,317.5 829.4,319.8 827.6,322.1 825.9,324.4 824.1,326.7 822.4,328.9 821.0,331.2 819.7,333.5 818.3,335.8 817.0,338.0 815.7,340.3 814.3,342.6 813.0,344.9 811.6,347.2 810.3,349.5 809.0,351.8 807.6,354.1 806.3,356.4 804.9,358.7 803.6,361.0 802.3,363.3 800.9,365.6 799.6,368.0 798.4,370.3 797.4,372.6 796.4,374.9 795.4,377.3 794.5,379.6 793.5,381.9 792.5,384.3 791.6,386.6 790.6,388.9 789.6,391.2 788.7,393.6 787.7,395.9 786.7,398.2 785.8,400.5 784.8,402.8 783.9,405.1 783.0,407.5 782.2,409.8 781.5,412.1 780.7,414.4 780.0,416.8 779.2,419.1 778.5,421.4 777.7,423.7 777.0,426.1 776.2,428.4 775.5,430.8 774.8,433.1 774.0,435.5 773.3,437.8 772.3,440.2 771.3,442.6 770.2,444.9 769.1,447.3 768.1,449.7 767.0,452.1 765.9,454.5 764.9,456.8 763.8,459.2 762.7,461.6 761.6,464.0 760.6,466.3 759.5,468.7 758.5,471.1 757.8,473.5 757.1,475.8 756.3,478.2 755.6,480.5 754.9,482.9 754.3,485.2 754.3,487.5 754.3,489.9 754.2,492.2 754.2,494.5 754.2,496.8 754.1,499.1 754.1,501.4 754.0,503.7 754.0,506.0 753.9,508.3 753.9,510.6 753.8,512.9 753.8,515.2 753.7,517.5 753.7,519.8 753.6,522.1 753.6,524.4 753.5,526.7 753.4,529.0 753.3,531.3 753.3,533.6 753.2,535.9 753.1,538.2 752.9,540.5 752.4,542.8 751.9,545.1 751.4,547.4 750.8,549.7 750.3,552.0 749.8,554.3 749.3,556.6 748.8,558.9 748.3,561.2 748.1,563.5" fill="none" stroke="#0000ff" stroke-width="3.1" stroke-linecap="round" stroke-linejoin="round" />
<polyline points="825.5,49.7 833.1,52.0 837.6,54.4 842.1,56.7 846.2,59.1 849.5,61.4 852.8,63.8 856.1,66.1 861.8,68.4 867.5,70.8 873.2,73.1 880.6,75.5 888.9,77.8 897.1,80.2 903.2,82.6 909.2,84.9 915.2,87.3 918.9,89.6 921.5,92.0 924.1,94.3 926.8,96.7 929.4,99.0 931.8,101.3 933.7,103.5 935.7,105.8 937.7,108.1 939.7,110.4 941.3,112.7 942.1,115.0 942.9,117.3 943.8,119.6 944.6,121.9 945.4,124.2 945.5,126.5 945.6,128.8 945.7,131.1 945.8,133.4 945.7,135.7 945.3,138.0 944.8,140.4 944.4,142.7 944.0,145.0 943.0,147.4 941.8,149.7 940.6,152.1 939.4,154.4 938.2,156.8 936.6,159.1 934.7,161.5 932.8,163.8 931.0,166.2 929.1,168.5 927.0,170.9 924.3,173.3 921.5,175.6 918.8,177.9 916.1,180.3 913.4,182.6 910.7,185.0 908.0,187.3 906.3,189.6 904.7,192.0 903.0,194.3 901.4,196.6 899.7,198.9 898.6,201.3 898.5,203.6 898.4,205.9 898.3,208.2 898.3,210.5 898.2,212.8 897.2,215.1 895.7,217.4 894.3,219.7 892.8,222.1 891.3,224.4 889.8,226.7 888.4,229.0 886.9,231.4 885.4,233.7 883.9,236.0 882.5,238.3 881.0,240.7 879.5,243.0 878.0,245.3 876.5,247.7 875.0,250.0 873.6,252.3 872.2,254.7 870.8,257.0 869.4,259.3 868.0,261.7 866.6,264.0 865.2,266.3 863.8,268.6 862.4,271.0 861.0,273.3 859.6,275.6 858.2,277.9 856.8,280.3 855.4,282.6 854.1,284.9 852.7,287.2 851.3,289.5 849.7,291.9 847.9,294.2 846.2,296.5 844.4,298.8 842.7,301.1 841.0,303.4 839.2,305.8 837.5,308.1 835.8,310.4 834.0,312.7 832.3,315.0 830.6,317.4 828.9,319.7 827.1,322.0 825.4,324.4 823.7,326.7 822.0,329.0 820.7,331.4 819.4,333.7 818.1,336.0 816.8,338.4 815.5,340.7 814.2,343.1 812.9,345.4 811.6,347.8 810.3,350.1 809.0,352.5 807.7,354.8 806.4,357.1 805.1,359.5 803.7,361.8 802.4,364.2 801.1,366.5 799.8,368.8 798.6,371.2 797.7,373.5 796.7,375.8 795.7,378.2 794.8,380.5 793.8,382.8 792.8,385.1 791.8,387.5 790.9,389.8 789.9,392.1 788.9,394.4 787.9,396.7 787.0,399.0 786.0,401.4 785.0,403.7 784.0,406.0 783.1,408.3 782.4,410.6 781.6,412.9 780.8,415.2 780.0,417.5 779.3,419.8 778.5,422.1 777.7,424.5 777.0,426.8 776.2,429.1 775.4,431.4 774.7,433.7 773.9,436.1 773.1,438.4 772.1,440.7 771.1,443.0 770.0,445.4 768.9,447.7 767.8,450.0 766.7,452.4 765.6,454.7 764.6,457.0 763.5,459.4 762.4,461.7 761.3,464.1 760.2,466.4 759.2,468.8 758.2,471.1 757.5,473.5 756.7,475.8 756.0,478.2 755.2,480.5 754.5,482.9 754.0,485.2 754.0,487.6 753.9,489.9 753.9,492.2 753.9,494.6 753.8,496.9 753.8,499.3 753.8,501.6 753.7,503.9 753.7,506.2 753.7,508.6 753.6,510.9 753.6,513.2 753.5,515.5 753.5,517.9 753.5,520.2 753.4,522.5 753.3,524.8 753.3,527.1 753.2,529.4 753.2,531.7 753.1,534.0 753.0,536.3 753.0,538.6 752.8,540.9 752.3,543.2 751.7,545.5 751.2,547.8 750.7,550.2 750.2,552.5 749.7,554.8 749.2,557.1 748.7,559.4 748.2,561.7" fill="none" stroke="#0000ff" stroke-width="3.1" stroke-linecap="round" stroke-linejoin="round" />
<polyline points="619.4,19.9 620.1,22.8 628.3,27.1 650.0,30.8 680.5,34.0 715.6,39.1 756.7,43.4 788.0,45.9 820.5,47.6" fill="none" stroke="#0000ff" stroke-width="3.1" stroke-linecap="round" stroke-linejoin="round" />
<path d="M825.8 49.6h0M837.1 53.8h0M845.1 58.0h0M851.5 62.2h0M858.4 66.3h0M868.9 70.6h0M881.0 74.8h0M896.2 79.0h0M907.6 83.3h0M917.4 87.7h0M922.8 92.0h0M927.5 96.2h0M932.0 100.3h0M935.6 104.3h0M939.1 108.4h0M941.7 112.5h0M943.1 116.9h0M944.5 121.4h0M945.2 126.2h0M945.3 130.9h0M945.2 135.6h0M944.5 140.1h0M943.6 144.4h0M942.2 148.4h0M940.0 152.2h0M937.8 156.1h0M934.7 160.0h0M931.3 164.2h0M927.8 168.6h0M923.3 173.3h0M918.4 178.1h0M913.5 182.9h0M908.6 187.5h0M905.2 191.7h0M902.3 195.7h0M899.3 199.5h0M898.4 203.1h0M898.3 206.9h0M898.2 210.9h0M896.4 215.2h0M893.7 219.6h0M891.0 224.2h0M888.3 228.7h0M885.6 233.2h0M882.9 237.5h0M880.2 241.7h0M877.4 245.8h0M874.7 249.8h0M872.1 253.9h0M869.6 258.0h0M867.0 262.2h0M864.5 266.5h0M862.0 271.0h0M859.5 275.4h0M857.0 279.9h0M854.5 284.2h0M852.1 288.5h0M849.2 292.7h0M846.1 296.9h0M842.9 301.1h0M839.8 305.4h0M836.7 309.7h0M833.5 314.1h0M830.3 318.6h0M827.1 323.0h0M823.9 327.3h0M821.1 331.5h0M818.6 335.7h0M816.2 339.7h0M813.7 343.8h0M811.1 348.0h0M808.6 352.3h0M806.1 356.8h0M803.5 361.3h0M801.0 365.8h0M798.6 370.2h0M796.6 374.5h0M794.7 378.7h0M792.9 382.7h0M791.1 386.6h0M789.3 390.5h0M787.5 394.6h0M785.8 398.8h0M784.0 403.2h0M782.4 407.7h0M781.1 412.3h0M779.8 416.9h0M778.5 421.3h0M777.2 425.6h0M775.9 429.7h0M774.6 433.7h0M773.3 437.6h0M771.5 441.6h0M769.6 445.8h0M767.7 450.1h0M765.7 454.6h0M763.8 459.1h0M761.8 463.7h0M759.8 468.2h0M758.1 472.5h0M756.7 476.8h0M755.3 480.9h0M754.2 484.9h0M754.1 489.0h0M754.0 493.1h0M754.0 497.4h0M753.9 501.7h0M753.8 506.2h0M753.8 510.6h0M753.7 514.9h0M753.7 519.1h0M753.6 523.3h0M753.6 527.4h0M753.5 531.6h0M753.4 535.7h0M753.2 540.0h0M752.3 544.3h0M751.4 548.7h0M750.5 553.1h0M749.5 557.5h0M748.5 561.7h0M748.3 565.8h0M828.0 50.1h0M838.3 54.3h0M846.2 58.5h0M852.3 62.7h0M859.9 67.0h0M870.4 71.3h0M883.3 75.6h0M898.1 79.8h0M909.1 84.1h0M918.3 88.5h0M923.3 92.8h0M928.0 97.1h0M932.3 101.4h0M935.9 105.6h0M939.5 109.7h0M941.8 113.8h0M943.3 117.8h0M944.8 121.8h0M945.4 125.8h0M945.6 129.9h0M945.6 134.0h0M944.8 138.2h0M944.0 142.5h0M942.4 146.9h0M940.2 151.4h0M937.9 155.9h0M934.6 160.5h0M931.1 165.1h0M927.4 169.6h0M922.5 174.1h0M917.5 178.5h0M912.5 182.8h0M907.4 187.0h0M904.3 191.2h0M901.3 195.2h0M898.5 199.3h0M897.9 203.3h0M897.8 207.5h0M897.7 211.7h0M895.5 215.9h0M892.9 220.3h0M890.3 224.6h0M887.6 229.0h0M884.9 233.3h0M882.3 237.7h0M879.6 242.1h0M876.9 246.5h0M874.2 250.8h0M871.7 255.1h0M869.2 259.4h0M866.7 263.6h0M864.2 267.7h0M861.8 271.9h0M859.4 276.0h0M856.9 280.1h0M854.5 284.3h0M852.0 288.4h0M849.0 292.7h0M845.8 296.9h0M842.6 301.3h0M839.4 305.7h0M836.2 310.1h0M832.9 314.5h0M829.6 319.0h0M826.4 323.4h0M823.1 327.8h0M820.4 332.1h0M818.0 336.4h0M815.5 340.7h0M813.1 344.9h0M810.7 349.0h0M808.2 353.1h0M805.8 357.2h0M803.4 361.3h0M800.9 365.5h0M798.5 369.7h0M796.6 373.9h0M794.8 378.2h0M792.9 382.5h0M791.0 386.9h0M789.2 391.2h0M787.3 395.6h0M785.5 400.0h0M783.7 404.4h0M782.1 408.7h0M780.7 413.0h0M779.3 417.2h0M778.0 421.4h0M776.7 425.6h0M775.4 429.7h0M774.1 433.9h0M772.7 438.0h0M770.9 442.2h0M768.9 446.4h0M766.9 450.7h0M765.0 455.0h0M763.0 459.4h0M761.0 463.8h0M759.1 468.2h0M757.5 472.6h0M756.2 477.1h0M754.9 481.5h0M754.1 485.8h0M754.1 490.1h0M754.2 494.4h0M754.2 498.5h0M754.2 502.7h0M754.2 506.8h0M754.1 510.9h0M754.1 515.0h0M754.0 519.1h0M753.8 523.2h0M753.7 527.4h0M753.5 531.7h0M753.3 536.0h0M752.9 540.4h0M751.9 544.8h0M751.0 549.2h0M750.0 553.6h0M749.1 558.0h0M829.6 50.8h0M839.0 55.1h0M846.6 59.4h0M852.7 63.7h0M861.0 68.0h0M871.5 72.3h0M885.2 76.6h0M899.3 80.8h0M910.3 85.0h0M918.7 89.2h0M923.5 93.4h0M928.3 97.5h0M932.5 101.7h0M936.2 106.0h0M939.8 110.2h0M942.0 114.5h0M943.6 118.7h0M945.3 123.1h0M945.9 127.4h0M946.2 131.8h0M946.3 136.1h0M945.7 140.5h0M945.1 144.9h0M943.4 149.3h0M941.3 153.6h0M938.9 158.0h0M935.6 162.3h0M932.0 166.5h0M928.2 170.8h0M923.0 175.0h0M917.8 179.1h0M912.5 183.2h0M907.5 187.3h0M904.1 191.4h0M900.8 195.5h0M897.9 199.5h0M897.3 203.6h0M897.1 207.9h0M896.6 212.1h0M894.2 216.4h0M891.6 220.8h0M889.1 225.2h0M886.5 229.5h0M884.0 233.8h0M881.5 238.1h0M879.0 242.5h0M876.5 246.9h0M874.0 251.3h0M871.5 255.7h0M869.1 260.0h0M866.6 264.4h0M864.1 268.8h0M861.5 273.1h0M859.0 277.4h0M856.5 281.7h0M854.0 286.0h0M851.4 290.2h0M848.3 294.4h0M845.2 298.7h0M842.1 302.9h0M838.9 307.1h0M835.8 311.3h0M832.7 315.5h0M829.5 319.7h0M826.3 323.9h0M823.0 328.1h0M820.4 332.4h0M817.8 336.6h0M815.2 340.9h0M812.6 345.2h0M810.0 349.5h0M807.3 353.8h0M804.7 358.1h0M802.2 362.4h0M799.6 366.7h0M797.3 371.0h0M795.6 375.3h0M793.9 379.5h0M792.3 383.8h0M790.7 388.0h0M789.2 392.2h0M787.6 396.5h0M786.1 400.7h0M784.6 404.9h0M783.2 409.1h0M782.0 413.3h0M780.7 417.5h0M779.3 421.8h0M777.9 426.0h0M776.4 430.3h0M774.9 434.5h0M773.3 438.8h0M771.2 443.1h0M769.0 447.5h0M766.9 451.8h0M764.8 456.2h0M762.7 460.5h0M760.6 464.8h0M758.7 469.2h0M757.2 473.5h0M755.8 477.9h0M754.5 482.2h0M753.9 486.5h0M753.9 490.8h0M753.8 495.1h0M753.8 499.4h0M753.7 503.6h0M753.6 507.9h0M753.5 512.1h0M753.4 516.3h0M753.2 520.5h0M753.1 524.7h0M752.9 528.9h0M752.8 533.1h0M752.7 537.3h0M752.3 541.5h0M751.5 545.7h0M750.7 550.0h0M749.9 554.2h0M749.1 558.4h0M832.4 52.0h0M840.9 56.3h0M848.0 60.5h0M854.0 64.8h0M863.1 69.0h0M873.6 73.2h0M887.9 77.5h0M901.3 81.7h0M912.3 85.9h0M919.7 90.1h0M924.6 94.3h0M929.4 98.5h0M933.6 102.6h0M937.4 106.8h0M941.0 111.0h0M943.0 115.2h0M944.8 119.4h0M946.4 123.6h0M946.7 127.8h0M947.0 132.0h0M946.8 136.2h0M946.0 140.5h0M945.1 144.7h0M943.0 148.9h0M940.8 153.2h0M938.1 157.5h0M934.6 161.8h0M931.0 166.2h0M926.9 170.5h0M921.7 174.9h0M916.5 179.3h0M911.4 183.7h0M906.9 188.1h0M903.7 192.5h0M900.6 196.9h0M898.1 201.3h0M898.0 205.7h0M897.8 210.0h0M897.1 214.3h0M894.6 218.6h0M892.0 222.9h0M889.3 227.2h0M886.7 231.5h0M884.0 235.8h0M881.3 240.1h0M878.7 244.3h0M876.0 248.6h0M873.4 252.9h0M870.9 257.1h0M868.4 261.4h0M865.9 265.6h0M863.4 269.8h0M860.9 274.0h0M858.5 278.2h0M856.0 282.3h0M853.6 286.5h0M851.0 290.7h0M847.9 294.8h0M844.8 299.0h0M841.7 303.2h0M838.5 307.4h0M835.4 311.6h0M832.2 315.8h0M829.1 320.0h0M825.9 324.3h0M822.8 328.5h0M820.3 332.8h0M817.9 337.1h0M815.5 341.3h0M813.0 345.6h0M810.6 349.9h0M808.1 354.2h0M805.7 358.5h0M803.2 362.9h0M800.7 367.2h0M798.5 371.5h0M796.6 375.9h0M794.7 380.3h0M792.8 384.6h0M790.9 389.0h0M789.0 393.4h0M787.1 397.7h0M785.3 402.1h0M783.4 406.4h0M781.8 410.8h0M780.4 415.1h0M779.0 419.4h0M777.6 423.7h0M776.3 427.9h0M775.0 432.2h0M773.7 436.4h0M772.3 440.6h0M770.5 444.9h0M768.7 449.1h0M766.9 453.3h0M765.1 457.5h0M763.2 461.7h0M761.3 465.9h0M759.5 470.1h0M758.1 474.3h0M756.7 478.5h0M755.3 482.7h0M754.8 486.8h0M754.6 491.0h0M754.5 495.2h0M754.4 499.4h0M754.2 503.6h0M754.1 507.8h0M754.0 512.1h0M753.9 516.3h0M753.8 520.6h0M753.7 524.9h0M753.7 529.2h0M753.6 533.5h0M753.6 537.8h0M753.0 542.2h0M752.1 546.5h0M751.2 550.9h0M750.2 555.2h0M749.2 559.6h0M817.4 48.1h0M834.2 52.3h0M842.5 56.6h0M849.3 60.8h0M855.4 65.1h0M865.2 69.3h0M876.4 73.6h0M891.0 77.8h0M903.8 81.9h0M914.9 86.1h0M921.2 90.3h0M926.1 94.5h0M930.8 98.8h0M934.7 103.1h0M938.4 107.5h0M941.6 111.9h0M943.2 116.3h0M944.7 120.7h0M946.0 125.1h0M946.1 129.5h0M946.2 133.8h0M945.7 138.1h0M944.9 142.4h0M943.7 146.6h0M941.6 150.8h0M939.3 155.0h0M936.6 159.1h0M933.1 163.2h0M929.6 167.3h0M925.4 171.4h0M920.3 175.5h0M915.3 179.6h0M910.3 183.7h0M906.2 187.9h0M903.1 192.0h0M900.0 196.2h0M898.1 200.4h0M898.0 204.8h0M897.8 209.2h0M896.9 213.6h0M894.3 218.0h0M891.6 222.4h0M889.0 226.7h0M886.3 231.0h0M883.7 235.3h0M881.0 239.7h0M878.4 244.0h0M875.8 248.3h0M873.2 252.6h0M870.7 257.0h0M868.3 261.3h0M865.8 265.7h0M863.3 270.0h0M860.8 274.4h0M858.3 278.8h0M855.8 283.1h0M853.3 287.4h0M850.6 291.8h0M847.4 296.1h0M844.2 300.3h0M841.0 304.6h0M837.8 308.9h0M834.6 313.1h0M831.4 317.3h0M828.1 321.5h0M824.9 325.6h0M821.8 329.8h0M819.4 334.0h0M816.9 338.2h0M814.5 342.3h0M812.0 346.5h0M809.6 350.7h0M807.1 355.0h0M804.6 359.2h0M802.2 363.4h0M799.7 367.7h0M797.7 372.0h0M795.9 376.2h0M794.1 380.5h0M792.3 384.8h0M790.5 389.0h0M788.8 393.3h0M787.0 397.5h0M785.2 401.8h0M783.5 406.1h0M782.0 410.3h0M780.7 414.6h0M779.3 418.8h0M777.9 423.1h0M776.6 427.4h0M775.2 431.7h0M773.9 436.0h0M772.3 440.3h0M770.3 444.7h0M768.4 449.0h0M766.4 453.4h0M764.4 457.8h0M762.5 462.1h0M760.5 466.5h0M758.7 470.8h0M757.3 475.2h0M755.9 479.5h0M754.7 483.8h0M754.3 488.1h0M754.2 492.3h0M754.2 496.6h0M754.1 500.8h0M754.0 505.0h0M753.9 509.2h0M753.8 513.4h0M753.7 517.7h0M753.6 521.9h0M753.5 526.1h0M753.4 530.3h0M753.3 534.5h0M753.1 538.7h0M752.4 542.9h0M751.4 547.1h0M750.5 551.4h0M749.5 555.6h0M748.6 559.8h0M748.1 564.0h0M821.4 49.0h0M835.4 53.3h0M843.6 57.6h0M850.1 61.9h0M856.3 66.2h0M866.7 70.5h0M878.4 74.7h0M893.3 79.1h0M905.3 83.4h0M915.9 87.7h0M921.6 92.1h0M926.4 96.3h0M931.0 100.6h0M934.8 104.8h0M938.4 109.0h0M941.4 113.1h0M943.0 117.3h0M944.5 121.6h0M945.5 125.8h0M945.6 130.0h0M945.8 134.2h0M945.2 138.5h0M944.4 142.8h0M943.1 147.1h0M941.0 151.4h0M938.8 155.7h0M935.9 160.0h0M932.5 164.3h0M929.1 168.6h0M924.6 172.9h0M919.7 177.2h0M914.7 181.5h0M909.7 185.8h0M906.0 190.1h0M903.0 194.4h0M899.9 198.6h0M898.5 202.9h0M898.4 207.1h0M898.2 211.3h0M896.9 215.6h0M894.2 219.8h0M891.5 224.1h0M888.8 228.3h0M886.1 232.6h0M883.4 236.9h0M880.7 241.1h0M878.0 245.4h0M875.3 249.7h0M872.6 254.0h0M870.1 258.2h0M867.5 262.5h0M864.9 266.8h0M862.4 271.0h0M859.8 275.3h0M857.3 279.6h0M854.7 283.8h0M852.2 288.1h0M849.3 292.3h0M846.1 296.6h0M842.9 300.8h0M839.8 305.0h0M836.6 309.3h0M833.4 313.6h0M830.2 317.8h0M827.1 322.1h0M823.9 326.4h0M821.1 330.7h0M818.7 334.9h0M816.3 339.2h0M813.9 343.5h0M811.5 347.8h0M809.1 352.1h0M806.8 356.4h0M804.4 360.7h0M802.0 365.0h0M799.6 369.3h0M797.6 373.6h0M795.9 377.9h0M794.1 382.1h0M792.3 386.4h0M790.5 390.6h0M788.7 394.9h0M786.9 399.1h0M785.2 403.3h0M783.4 407.6h0M781.9 411.8h0M780.5 416.0h0M779.1 420.3h0M777.7 424.5h0M776.3 428.8h0M774.9 433.0h0M773.5 437.3h0M771.8 441.5h0M769.8 445.8h0M767.8 450.1h0M765.8 454.4h0M763.8 458.7h0M761.8 463.0h0M759.9 467.3h0M758.1 471.6h0M756.7 475.9h0M755.3 480.2h0M754.2 484.5h0M754.0 488.8h0M753.9 493.1h0M753.8 497.4h0M753.8 501.6h0M753.7 505.9h0M753.6 510.2h0M753.6 514.4h0M753.5 518.7h0M753.4 522.9h0M753.3 527.2h0M753.2 531.4h0M753.1 535.6h0M752.9 539.8h0M752.1 544.1h0M751.1 548.3h0M750.2 552.5h0M749.2 556.8h0M748.3 561.0h0M619.4 19.9h0M620.1 22.8h0M628.3 27.1h0M650.0 30.8h0M680.5 34.0h0M715.6 39.1h0M756.7 43.4h0M788.0 45.9h0M820.5 47.6h0" stroke="#0000ff" stroke-width="12.5" stroke-linecap="round" fill="none"/>
<polyline points="780.0,47.6 812.0,52.0 838.5,56.6 860.0,61.5 872.0,64.5" fill="none" stroke="#ff0000" stroke-width="8.4" stroke-linecap="round" stroke-linejoin="round" />
<polyline points="640.0,19.4 640.0,21.0 640.0,22.5 640.0,24.1 640.5,25.6 641.0,27.2 642.0,28.7 644.0,31.0 652.0,34.9 669.0,38.8 698.0,42.7 735.0,46.6 800.0,50.4 822.0,54.3 843.0,58.2 875.0,66.0 886.0,73.7 893.0,81.5 902.0,89.2 912.0,97.0 935.5,116.4 933.0,135.8 920.0,174.6 900.8,213.4 875.0,252.2 849.4,291.0 817.7,329.8 783.0,407.4 757.7,485.0 744.8,562.6 739.1,640.2 737.2,717.8 739.4,795.4" fill="none" stroke="#ff0000" stroke-width="3.0" stroke-linecap="round" stroke-linejoin="round" />
<path d="M640.0 19.4h0M640.0 21.0h0M640.0 22.5h0M640.0 24.1h0M640.5 25.6h0M641.0 27.2h0M642.0 28.7h0M644.0 31.0h0M652.0 34.9h0M669.0 38.8h0M698.0 42.7h0M735.0 46.6h0M800.0 50.4h0M822.0 54.3h0M843.0 58.2h0M875.0 66.0h0M886.0 73.7h0M893.0 81.5h0M902.0 89.2h0M912.0 97.0h0M935.5 116.4h0M933.0 135.8h0M920.0 174.6h0M900.8 213.4h0M875.0 252.2h0M849.4 291.0h0M817.7 329.8h0M783.0 407.4h0M757.7 485.0h0M744.8 562.6h0M739.1 640.2h0M737.2 717.8h0M739.4 795.4h0" stroke="#ff0000" stroke-width="12.5" stroke-linecap="round" fill="none"/>
<polyline points="685.5,19.4 686.0,21.0 688.0,22.5 693.0,24.1 699.0,25.6 705.0,27.2 710.0,28.7 720.0,31.0 726.0,34.9 731.0,38.8 738.0,42.7 747.3,46.6 760.1,50.4 784.1,54.3 813.2,58.2 861.8,66.0 885.7,73.7 897.5,81.5 909.4,89.2 921.4,97.0 939.7,116.4 940.6,135.8 927.7,174.6 898.2,213.4 869.1,252.2 843.4,291.0 823.2,329.8 783.4,407.4 754.2,485.0 739.7,562.6 733.0,640.2 736.2,717.8 739.4,795.4" fill="none" stroke="#008000" stroke-width="3.9" stroke-linecap="round" stroke-linejoin="round" />
<path d="M685.5 19.4h0M686.0 21.0h0M688.0 22.5h0M693.0 24.1h0M699.0 25.6h0M705.0 27.2h0M710.0 28.7h0M720.0 31.0h0M726.0 34.9h0M731.0 38.8h0M738.0 42.7h0M747.3 46.6h0M760.1 50.4h0M784.1 54.3h0M813.2 58.2h0M861.8 66.0h0M885.7 73.7h0M897.5 81.5h0M909.4 89.2h0M921.4 97.0h0M939.7 116.4h0M940.6 135.8h0M927.7 174.6h0M898.2 213.4h0M869.1 252.2h0M843.4 291.0h0M823.2 329.8h0M783.4 407.4h0M754.2 485.0h0M739.7 562.6h0M733.0 640.2h0M736.2 717.8h0M739.4 795.4h0" stroke="#008000" stroke-width="12.5" stroke-linecap="round" fill="none"/>
<polyline points="640.0,19.8 640.5,20.6 641.0,21.5 642.0,22.4 643.5,23.3 645.5,24.4 648.0,25.6 652.0,26.8 662.5,28.3 676.5,29.9 697.6,31.7 715.6,33.8 731.5,36.2 747.3,39.0 768.5,42.2 795.5,46.1 826.5,50.7 855.5,56.2 880.5,62.7 901.0,70.5 919.7,79.8 933.4,91.0 944.5,104.5 952.6,120.8 947.4,140.3 929.4,163.8 908.5,192.0 893.1,225.8 876.4,266.3 849.4,314.4 814.6,371.7 774.3,439.3 748.6,518.8 736.2,611.7 738.2,719.6" fill="none" stroke="#ff00ff" stroke-width="3.1" stroke-linecap="round" stroke-linejoin="round" />
<path d="M640.0 19.8h0M640.5 20.6h0M641.0 21.5h0M642.0 22.4h0M643.5 23.3h0M645.5 24.4h0M648.0 25.6h0M652.0 26.8h0M662.5 28.3h0M676.5 29.9h0M697.6 31.7h0M715.6 33.8h0M731.5 36.2h0M747.3 39.0h0M768.5 42.2h0M795.5 46.1h0M826.5 50.7h0M855.5 56.2h0M880.5 62.7h0M901.0 70.5h0M919.7 79.8h0M933.4 91.0h0M944.5 104.5h0M952.6 120.8h0M947.4 140.3h0M929.4 163.8h0M908.5 192.0h0M893.1 225.8h0M876.4 266.3h0M849.4 314.4h0M814.6 371.7h0M774.3 439.3h0M748.6 518.8h0M736.2 611.7h0M738.2 719.6h0" stroke="#ff00ff" stroke-width="12.5" stroke-linecap="round" fill="none"/>
</g>
<g clip-path="url(#cp2)">
<polyline points="1113.0,19.4 1113.0,21.0 1113.2,22.5 1113.5,24.1 1114.0,25.6 1114.5,27.2 1115.5,28.7 1117.0,31.0 1120.0,34.9 1124.5,38.8 1133.0,42.7 1144.5,46.6 1158.0,50.4 1169.0,54.3 1179.0,58.2 1193.0,66.0 1203.5,73.7 1213.0,81.5 1224.0,89.2 1234.0,97.0 1265.4,116.4 1273.1,135.8 1296.2,174.6 1314.2,213.4 1325.9,252.2 1337.0,291.0 1348.2,329.8 1367.3,407.4 1386.0,485.0 1404.3,562.6 1421.8,640.2 1439.8,717.8 1456.8,795.4" fill="none" stroke="#ff0000" stroke-width="8.4" stroke-linecap="round" stroke-linejoin="round" />
<polyline points="1109.5,19.4 1109.8,20.0 1109.9,22.3 1110.1,24.6 1112.0,26.9 1114.9,29.2 1117.7,31.5 1119.4,33.8 1121.5,36.1 1127.0,38.4 1133.6,40.7 1140.1,43.1 1146.2,45.4 1153.1,47.7 1158.5,50.0 1163.5,52.4 1167.8,54.7 1173.5,57.1 1178.9,59.4 1184.6,61.8 1189.8,64.2 1193.5,66.5 1197.7,68.9 1200.7,71.3 1204.8,73.7 1208.0,76.1 1212.7,78.5 1216.2,80.9 1219.3,83.3 1221.4,85.7 1225.3,88.1 1228.0,90.5 1231.2,92.9 1233.3,95.3 1236.2,97.6 1239.0,100.0 1241.7,102.3 1244.0,104.7 1246.0,107.1 1248.9,109.4 1251.2,111.8 1252.9,114.1 1254.6,116.5 1257.0,118.8 1259.5,121.2 1261.3,123.5 1263.2,125.8 1265.9,128.1 1267.8,130.4 1269.8,132.7 1271.5,135.0 1273.2,137.3 1275.4,139.6 1277.6,141.9 1279.4,144.3 1280.0,146.6 1281.6,148.9 1283.6,151.2 1285.3,153.6 1285.9,155.9 1288.1,158.2 1291.0,160.6 1293.4,162.9 1294.7,165.3 1295.2,167.6 1296.5,169.9 1297.6,172.3 1298.6,174.6 1299.7,176.9 1301.0,179.3 1301.3,181.6 1302.0,183.9 1303.0,186.2 1305.5,188.6 1306.8,190.9 1307.5,193.2 1307.9,195.5 1308.7,197.8 1309.8,200.1 1311.5,202.5 1312.6,204.8 1313.5,207.1 1314.2,209.4 1315.3,211.8 1315.6,214.1 1316.0,216.4 1317.1,218.8 1317.8,221.1 1317.9,223.5 1317.4,225.8 1318.1,228.1 1320.0,230.5 1320.6,232.8 1320.9,235.2 1320.2,237.5 1320.5,239.9 1320.8,242.2 1322.0,244.6 1323.2,246.9 1324.4,249.2 1325.0,251.6 1324.1,253.9 1324.2,256.2 1324.7,258.5 1325.4,260.9 1326.7,263.2 1327.0,265.5 1328.7,267.8 1329.3,270.1 1329.2,272.4 1329.0,274.8 1328.5,277.1 1330.4,279.4 1330.9,281.7 1331.4,284.1 1331.4,286.4 1332.5,288.7 1333.7,291.1 1334.2,293.4 1334.2,295.7 1335.7,298.1 1336.1,300.4 1337.0,302.8 1336.9,305.1 1337.5,307.4 1339.0,309.8 1339.9,312.1 1341.1,314.4 1341.6,316.8 1343.1,319.1 1343.7,321.4 1344.3,323.7 1344.0,326.0 1344.9,328.3 1345.5,330.6 1346.9,332.9 1347.2,335.2 1348.6,337.5 1348.8,339.8 1349.4,342.1 1349.8,344.4 1350.5,346.7 1352.2,349.0 1353.3,351.3 1353.2,353.6 1353.4,355.9 1353.7,358.3 1354.5,360.6 1354.6,362.9 1355.6,365.3 1356.6,367.6 1357.3,369.9 1357.6,372.3 1358.6,374.6 1359.5,377.0 1359.6,379.4 1359.8,381.7 1360.8,384.1 1361.6,386.4 1363.9,388.8 1363.9,391.1 1364.4,393.5 1363.7,395.8 1364.6,398.2 1364.9,400.5 1365.4,402.9 1366.1,405.2 1367.1,407.6 1367.8,409.9 1367.9,412.3 1368.3,414.6 1368.4,416.9 1369.7,419.3 1370.2,421.6 1371.2,423.9 1371.3,426.3 1371.8,428.6 1371.9,430.9 1372.4,433.3 1372.7,435.6 1373.2,437.9 1373.9,440.2 1375.5,442.6 1375.9,444.9 1376.2,447.2 1376.3,449.5 1376.9,451.8 1377.5,454.1 1378.1,456.5 1378.5,458.8 1378.8,461.1 1379.4,463.4 1380.4,465.7 1381.9,468.0 1382.3,470.2 1382.2,472.5 1382.5,474.8 1382.4,477.1 1382.8,479.4 1382.9,481.7 1383.9,484.0 1385.4,486.3 1386.6,488.6 1386.8,490.9 1386.7,493.3 1386.1,495.6 1387.2,497.9 1387.9,500.2 1389.0,502.6 1388.9,504.9 1389.7,507.3 1391.2,509.6 1391.8,512.0 1393.0,514.3 1393.1,516.7 1394.5,519.1 1394.8,521.4 1394.8,523.8 1395.3,526.2 1395.7,528.5 1396.4,530.9 1397.0,533.2 1397.0,535.6 1397.5,537.9 1398.0,540.3 1398.6,542.6 1400.0,544.9 1400.3,547.3 1400.9,549.6 1400.3,551.9 1400.9,554.2" fill="none" stroke="#00ffff" stroke-width="11.0" stroke-linecap="round" stroke-linejoin="round" />
<polyline points="1108.3,19.4 1108.9,21.2 1109.5,23.8 1110.5,26.3 1112.5,28.8 1114.1,31.3 1115.7,33.8 1117.0,36.3 1120.0,38.8 1125.2,41.2 1131.5,43.6 1137.9,46.0 1144.5,48.3 1150.6,50.7 1155.9,53.0 1161.1,55.2 1166.0,57.4 1170.7,59.6 1176.3,61.8 1183.0,64.0 1189.7,66.1 1194.9,68.2 1198.4,70.3 1202.3,72.4 1206.3,74.5 1209.4,76.6 1212.6,78.7 1215.5,80.8 1219.5,83.0 1222.7,85.1 1226.6,87.3 1228.3,89.5 1231.7,91.7 1234.1,93.9 1237.5,96.2 1240.0,98.5 1242.6,100.9 1244.8,103.4 1246.4,105.9 1249.3,108.5 1251.6,111.1 1254.3,113.6 1255.8,116.2 1258.8,118.7 1261.8,121.3 1263.9,123.8 1265.5,126.3 1266.3,128.7 1268.6,131.2 1270.8,133.6 1273.6,136.1 1275.5,138.6 1277.3,141.0 1279.6,143.4 1280.5,145.8 1282.4,148.2 1283.2,150.6 1285.2,153.0 1286.8,155.3 1288.1,157.7 1289.6,160.0 1291.1,162.3 1292.7,164.6 1294.1,166.8 1294.4,169.1 1296.3,171.3 1297.7,173.5 1299.7,175.8 1299.8,178.0 1300.8,180.2 1301.3,182.4 1302.5,184.6 1303.5,186.8 1305.3,189.0 1306.9,191.2 1308.0,193.4 1308.5,195.7 1308.5,197.9 1309.2,200.2 1310.3,202.5 1311.9,204.7 1312.2,207.1 1312.6,209.4 1312.6,211.7 1313.9,214.1 1314.8,216.4 1316.1,218.8 1316.3,221.2 1317.2,223.6 1318.4,226.0 1319.3,228.4 1320.2,230.9 1320.1,233.3 1320.8,235.7 1320.9,238.2 1321.2,240.6 1320.9,243.0 1321.4,245.4 1322.4,247.8 1324.4,250.2 1324.4,252.6 1323.6,254.9 1323.1,257.3 1324.5,259.6 1326.1,261.9 1327.0,264.2 1326.9,266.5 1326.1,268.8 1326.6,271.0 1328.0,273.3 1330.7,275.5 1331.5,277.8 1331.4,280.0 1332.3,282.2 1333.5,284.4 1334.5,286.7 1333.5,288.9 1334.7,291.1 1335.8,293.4 1337.5,295.6 1337.2,297.9 1337.1,300.1 1337.0,302.4 1338.2,304.7 1339.5,307.0 1340.7,309.4 1341.0,311.7 1341.1,314.1 1342.2,316.4 1343.2,318.8 1344.4,321.2 1344.5,323.7 1345.2,326.1 1345.9,328.5 1346.8,331.0 1347.0,333.4 1347.4,335.9 1348.1,338.4 1349.1,340.8 1349.8,343.3 1351.2,345.7 1352.2,348.2 1352.8,350.6 1352.5,353.0 1352.6,355.4 1353.5,357.8 1353.8,360.2 1354.8,362.5 1356.2,364.9 1357.7,367.2 1358.1,369.5 1358.0,371.8 1357.9,374.1 1358.5,376.3 1359.2,378.6 1360.6,380.8 1361.1,383.0 1361.4,385.2 1361.9,387.4 1362.0,389.6 1362.8,391.8 1362.9,394.0 1364.2,396.2 1364.8,398.4 1365.6,400.6 1365.9,402.9 1366.8,405.1 1368.0,407.3 1369.2,409.6 1370.2,411.9 1370.2,414.2 1371.0,416.5 1370.7,418.8 1371.6,421.1 1370.7,423.5 1371.6,425.9 1372.4,428.2 1373.9,430.6 1374.1,433.0 1374.0,435.4 1373.3,437.9 1373.9,440.3 1375.3,442.7 1376.7,445.2 1377.0,447.6 1376.6,450.0 1377.8,452.4 1378.6,454.8 1378.6,457.3 1378.5,459.6 1378.7,462.0 1380.1,464.4 1380.3,466.8 1380.6,469.1 1381.1,471.4 1382.4,473.7 1383.3,476.0 1384.5,478.3 1384.6,480.6 1385.3,482.9 1385.2,485.1 1386.3,487.4 1386.0,489.6 1386.9,491.8 1387.2,494.1 1388.4,496.3 1388.7,498.5 1389.5,500.8 1390.3,503.0 1391.4,505.3 1391.7,507.5 1391.9,509.8 1392.7,512.1 1392.7,514.4 1393.3,516.7 1392.7,519.0 1393.5,521.4 1394.4,523.7 1395.7,526.1 1395.6,528.5 1395.9,530.9 1396.1,533.3 1397.0,535.7 1397.8,538.2 1398.1,540.6 1399.1,543.0 1399.4,545.5 1400.4,547.9 1401.3,550.4 1403.2,552.8 1403.2,555.3 1403.2,557.7 1402.4,560.1 1403.1,562.5 1403.7,564.9" fill="none" stroke="#00ffff" stroke-width="11.0" stroke-linecap="round" stroke-linejoin="round" />
<polyline points="1106.9,19.4 1106.5,20.0 1107.0,22.3 1106.8,24.7 1110.6,27.1 1112.8,29.4 1115.3,31.8 1116.3,34.2 1118.6,36.5 1124.4,38.9 1130.9,41.3 1138.3,43.7 1144.9,46.0 1150.5,48.4 1155.8,50.8 1160.9,53.2 1166.2,55.6 1171.1,58.0 1177.0,60.4 1182.7,62.7 1189.1,65.1 1193.7,67.5 1198.0,69.9 1202.2,72.3 1205.8,74.7 1209.2,77.1 1212.0,79.5 1214.9,81.9 1218.2,84.2 1221.2,86.6 1224.9,89.0 1228.3,91.4 1230.8,93.7 1233.1,96.1 1235.2,98.5 1238.8,100.8 1241.9,103.2 1245.1,105.5 1247.4,107.8 1250.1,110.2 1252.1,112.5 1253.5,114.8 1255.9,117.1 1257.9,119.5 1259.8,121.8 1261.4,124.1 1263.2,126.4 1266.3,128.7 1268.5,131.0 1271.6,133.3 1272.3,135.6 1274.4,138.0 1275.9,140.3 1277.7,142.6 1278.9,144.9 1280.5,147.2 1282.3,149.5 1284.3,151.8 1285.7,154.1 1287.3,156.4 1289.3,158.7 1290.2,161.0 1292.2,163.3 1292.7,165.6 1294.4,168.0 1295.4,170.3 1296.4,172.6 1297.4,174.9 1298.4,177.2 1299.7,179.5 1299.9,181.8 1300.7,184.1 1302.1,186.4 1303.6,188.7 1305.9,191.0 1307.4,193.3 1308.1,195.6 1308.6,197.9 1309.1,200.2 1310.4,202.5 1311.0,204.9 1312.2,207.2 1312.9,209.5 1312.9,211.8 1312.2,214.1 1313.2,216.4 1315.2,218.7 1316.7,221.1 1317.4,223.4 1317.8,225.7 1318.0,228.1 1317.9,230.4 1318.7,232.7 1319.9,235.1 1321.2,237.4 1321.2,239.7 1320.4,242.1 1320.5,244.4 1320.9,246.8 1322.6,249.1 1322.7,251.5 1323.0,253.8 1323.4,256.2 1324.2,258.5 1325.2,260.9 1325.5,263.2 1326.3,265.6 1327.4,267.9 1327.4,270.2 1327.6,272.6 1328.1,274.9 1328.9,277.3 1330.4,279.6 1331.0,282.0 1332.6,284.3 1333.8,286.7 1333.8,289.0 1334.6,291.4 1335.5,293.7 1337.5,296.1 1338.2,298.4 1337.9,300.8 1338.0,303.1 1338.8,305.5 1340.2,307.8 1340.8,310.2 1340.9,312.5 1340.6,314.9 1341.2,317.2 1341.8,319.6 1343.3,321.9 1344.2,324.2 1345.2,326.6 1346.0,328.9 1346.5,331.3 1346.4,333.6 1347.1,335.9 1347.2,338.3 1348.6,340.6 1349.2,342.9 1351.3,345.3 1350.8,347.6 1350.5,349.9 1349.5,352.2 1351.6,354.5 1352.8,356.9 1354.8,359.2 1355.2,361.5 1355.5,363.8 1354.7,366.1 1354.8,368.4 1354.9,370.7 1356.0,373.0 1357.0,375.3 1358.7,377.6 1359.8,379.9 1360.0,382.2 1360.1,384.5 1360.1,386.8 1361.3,389.1 1361.4,391.5 1362.8,393.8 1362.7,396.1 1363.3,398.4 1364.1,400.7 1364.9,403.0 1366.4,405.3 1366.7,407.6 1367.7,409.9 1368.9,412.2 1369.2,414.5 1369.2,416.8 1369.6,419.1 1369.5,421.4 1370.7,423.7 1370.5,426.0 1372.0,428.3 1372.0,430.6 1372.4,433.0 1372.8,435.3 1373.5,437.6 1374.7,439.9 1374.5,442.2 1376.5,444.5 1376.3,446.8 1377.1,449.2 1375.7,451.5 1376.3,453.8 1376.7,456.1 1378.0,458.5 1377.4,460.8 1378.3,463.1 1379.0,465.5 1380.7,467.8 1381.5,470.2 1382.2,472.5 1382.0,474.9 1382.7,477.2 1382.5,479.6 1384.1,481.9 1383.9,484.3 1384.9,486.6 1385.0,489.0 1386.3,491.4 1386.8,493.7 1387.8,496.1 1387.8,498.4 1388.4,500.8 1388.5,503.2 1389.4,505.5 1390.0,507.9 1390.7,510.2 1391.4,512.6 1392.3,514.9 1392.9,517.3 1394.0,519.7 1394.8,522.0 1395.5,524.4 1396.4,526.7 1395.3,529.1 1396.2,531.4 1396.1,533.8 1397.2,536.1 1397.7,538.5 1398.0,540.8 1399.2,543.1 1399.5,545.5 1400.2,547.8 1400.4,550.2 1400.0,552.5 1401.0,554.9 1401.7,557.2 1402.7,559.5" fill="none" stroke="#00ffff" stroke-width="11.0" stroke-linecap="round" stroke-linejoin="round" />
<polyline points="1107.7,19.4 1108.8,21.3 1109.7,23.5 1110.1,25.8 1111.1,28.0 1112.7,30.3 1114.5,32.5 1116.2,34.8 1118.1,37.1 1124.7,39.4 1131.1,41.7 1137.2,44.0 1142.5,46.4 1149.3,48.7 1156.0,51.0 1162.2,53.4 1166.9,55.8 1171.8,58.1 1176.8,60.5 1183.4,62.9 1189.4,65.3 1194.2,67.7 1198.3,70.1 1202.8,72.4 1206.4,74.8 1209.3,77.2 1212.1,79.6 1215.7,81.9 1218.6,84.3 1222.2,86.6 1225.1,88.9 1228.1,91.2 1231.6,93.6 1234.6,95.9 1237.8,98.1 1239.5,100.4 1242.2,102.7 1244.2,105.0 1246.6,107.3 1249.3,109.6 1251.5,111.9 1254.4,114.2 1256.1,116.5 1258.4,118.9 1261.3,121.2 1263.4,123.5 1265.7,125.8 1266.6,128.1 1268.9,130.4 1270.5,132.7 1272.9,135.0 1275.0,137.3 1277.0,139.7 1278.2,142.0 1280.0,144.3 1281.2,146.7 1282.3,149.0 1284.1,151.4 1285.8,153.7 1287.5,156.1 1288.9,158.5 1290.2,160.9 1291.6,163.2 1292.1,165.6 1294.5,168.0 1296.0,170.4 1297.9,172.8 1298.6,175.2 1299.7,177.6 1300.0,180.0 1301.5,182.4 1302.7,184.8 1304.5,187.1 1304.8,189.5 1305.5,191.9 1305.9,194.2 1306.6,196.6 1307.8,199.0 1308.2,201.3 1308.4,203.6 1308.4,205.9 1309.3,208.3 1311.0,210.6 1312.2,212.9 1313.6,215.2 1315.0,217.4 1316.2,219.7 1316.7,222.0 1316.8,224.3 1318.2,226.5 1318.8,228.8 1320.0,231.0 1319.4,233.3 1319.2,235.5 1319.4,237.8 1320.2,240.1 1321.7,242.3 1321.3,244.6 1322.8,246.8 1323.0,249.1 1324.0,251.4 1323.6,253.7 1324.4,256.0 1325.1,258.3 1326.2,260.6 1327.1,262.9 1327.1,265.2 1327.2,267.6 1328.3,269.9 1329.8,272.3 1331.2,274.6 1331.1,277.0 1331.9,279.4 1332.1,281.7 1332.7,284.1 1333.3,286.5 1333.5,288.9 1334.3,291.3 1335.2,293.7 1336.8,296.1 1337.1,298.4 1337.0,300.8 1336.8,303.2 1337.9,305.6 1338.8,308.0 1340.1,310.4 1340.4,312.7 1341.4,315.1 1342.1,317.5 1342.6,319.8 1343.3,322.2 1344.0,324.5 1345.2,326.8 1345.9,329.2 1346.4,331.5 1347.2,333.8 1348.4,336.1 1348.8,338.4 1348.9,340.7 1348.2,343.0 1348.7,345.3 1349.8,347.6 1350.6,349.8 1350.6,352.1 1350.3,354.4 1351.4,356.7 1352.3,359.0 1353.1,361.2 1353.9,363.5 1355.0,365.8 1355.1,368.1 1355.9,370.4 1356.6,372.7 1358.2,375.0 1359.2,377.3 1360.0,379.6 1360.1,381.9 1360.3,384.2 1360.8,386.6 1362.2,388.9 1362.5,391.2 1362.7,393.6 1362.8,395.9 1363.4,398.3 1363.6,400.6 1364.5,403.0 1365.0,405.4 1366.3,407.7 1366.1,410.1 1365.9,412.4 1365.5,414.8 1366.2,417.2 1367.6,419.5 1369.2,421.9 1369.6,424.3 1370.4,426.6 1371.4,429.0 1372.2,431.3 1373.2,433.7 1372.9,436.0 1374.0,438.4 1374.3,440.7 1375.2,443.0 1376.4,445.4 1377.3,447.7 1377.5,450.0 1377.2,452.3 1376.9,454.7 1377.5,457.0 1378.3,459.3 1378.3,461.6 1378.9,463.9 1378.8,466.2 1380.7,468.5 1381.7,470.8 1382.7,473.1 1383.0,475.4 1383.8,477.7 1384.3,480.0 1385.0,482.3 1384.8,484.6 1385.4,486.9 1385.1,489.2 1385.9,491.5 1386.8,493.8 1387.9,496.1 1388.3,498.4 1389.0,500.7 1389.2,503.0 1390.2,505.4 1390.5,507.7 1390.8,510.0 1390.6,512.4 1390.8,514.7 1391.4,517.0 1391.9,519.4 1392.6,521.7 1394.0,524.1 1395.5,526.4 1395.7,528.8 1395.4,531.1 1395.4,533.5 1395.9,535.8 1396.8,538.2 1398.2,540.5 1399.5,542.9 1400.0,545.2 1399.3,547.6 1399.9,549.9 1401.3,552.3 1402.8,554.6" fill="none" stroke="#00ffff" stroke-width="11.0" stroke-linecap="round" stroke-linejoin="round" />
<polyline points="1109.4,19.4 1110.3,21.8 1110.7,24.4 1111.4,26.9 1112.7,29.5 1115.7,32.0 1117.6,34.5 1119.7,37.0 1121.5,39.4 1127.9,41.7 1134.5,44.0 1140.5,46.3 1146.4,48.5 1151.5,50.6 1156.4,52.7 1161.1,54.8 1167.2,56.9 1173.1,58.9 1178.8,61.0 1184.4,63.1 1190.5,65.2 1194.9,67.4 1199.4,69.6 1203.3,71.8 1207.6,74.1 1209.5,76.4 1212.3,78.8 1215.9,81.3 1220.2,83.7 1223.0,86.2 1225.0,88.6 1227.8,91.1 1231.4,93.6 1235.5,96.0 1237.9,98.5 1240.6,100.9 1243.5,103.3 1246.2,105.7 1247.9,108.0 1249.8,110.4 1251.5,112.7 1254.1,115.0 1255.8,117.4 1258.3,119.7 1260.5,122.1 1262.5,124.4 1264.9,126.8 1267.0,129.2 1269.5,131.6 1270.3,133.9 1271.5,136.3 1273.3,138.7 1275.8,141.1 1277.9,143.4 1279.8,145.8 1281.9,148.1 1282.9,150.4 1284.0,152.6 1285.2,154.9 1288.1,157.1 1290.1,159.3 1291.8,161.5 1292.4,163.6 1293.4,165.8 1294.4,168.0 1295.9,170.2 1297.6,172.4 1299.4,174.6 1300.1,176.9 1301.3,179.2 1301.2,181.5 1302.1,183.8 1302.0,186.2 1304.5,188.6 1307.0,191.0 1308.9,193.4 1309.2,195.8 1309.3,198.3 1309.1,200.7 1310.4,203.1 1311.1,205.6 1311.9,208.0 1312.8,210.4 1314.0,212.8 1315.0,215.1 1315.7,217.5 1316.3,219.8 1317.9,222.2 1318.2,224.5 1318.1,226.9 1318.6,229.2 1319.2,231.5 1320.3,233.9 1320.6,236.2 1320.9,238.6 1321.8,241.0 1322.2,243.3 1323.1,245.7 1322.7,248.1 1322.8,250.4 1324.4,252.7 1325.7,255.0 1326.7,257.3 1325.1,259.6 1325.5,261.9 1325.9,264.1 1327.3,266.3 1328.1,268.5 1328.8,270.7 1329.1,272.9 1328.8,275.1 1329.4,277.3 1330.7,279.6 1331.6,281.8 1331.6,284.1 1331.8,286.4 1333.1,288.7 1334.6,291.0 1335.4,293.4 1336.2,295.8 1336.7,298.2 1337.1,300.7 1337.2,303.1 1338.0,305.6 1339.4,308.0 1340.3,310.5 1341.4,312.9 1341.7,315.3 1341.8,317.7 1341.6,320.1 1342.3,322.5 1343.3,324.8 1344.5,327.1 1344.6,329.4 1344.8,331.7 1346.1,334.0 1347.1,336.3 1349.2,338.6 1348.5,340.9 1349.3,343.2 1348.7,345.5 1350.3,347.8 1351.2,350.2 1352.9,352.5 1353.5,354.8 1353.8,357.1 1354.1,359.4 1354.5,361.8 1355.8,364.1 1356.6,366.3 1357.7,368.6 1358.0,370.9 1358.5,373.1 1358.8,375.4 1359.7,377.6 1360.1,379.8 1360.1,382.1 1360.6,384.3 1361.0,386.6 1362.1,388.8 1362.9,391.1 1364.4,393.4 1365.0,395.8 1365.6,398.2 1365.9,400.6 1366.1,403.0 1366.4,405.4 1366.7,407.9 1367.2,410.4 1367.2,412.8 1367.9,415.3 1368.8,417.8 1369.1,420.3 1369.9,422.7 1370.1,425.1 1371.2,427.5 1371.5,429.9 1372.4,432.2 1373.6,434.5 1374.2,436.8 1374.5,439.1 1374.7,441.4 1375.2,443.6 1375.7,445.9 1376.7,448.1 1377.2,450.4 1377.5,452.6 1377.3,454.9 1378.4,457.2 1380.6,459.5 1382.5,461.8 1381.6,464.1 1381.6,466.4 1381.0,468.7 1382.4,471.0 1382.8,473.2 1382.9,475.5 1384.1,477.8 1385.0,480.1 1386.3,482.3 1386.3,484.6 1386.2,486.9 1386.5,489.1 1387.3,491.4 1387.7,493.6 1388.5,495.9 1389.2,498.2 1389.9,500.5 1390.2,502.9 1389.4,505.3 1390.3,507.6 1391.3,510.1 1392.7,512.5 1393.0,515.0 1394.0,517.4 1394.9,519.9 1395.3,522.4 1394.8,524.8 1395.5,527.3 1395.2,529.7 1395.7,532.2 1395.5,534.5 1397.0,536.9 1397.5,539.2 1398.4,541.6 1398.7,543.8 1399.4,546.1 1399.8,548.4 1400.1,550.6 1401.6,552.8 1402.2,555.0" fill="none" stroke="#00ffff" stroke-width="11.0" stroke-linecap="round" stroke-linejoin="round" />
<polyline points="1107.9,19.4 1109.2,20.3 1109.5,22.6 1109.4,25.0 1109.8,27.4 1112.3,29.8 1114.3,32.3 1117.7,34.7 1120.6,37.1 1126.6,39.6 1131.8,42.0 1137.6,44.4 1143.9,46.8 1149.8,49.2 1154.2,51.6 1160.1,54.0 1165.5,56.3 1171.9,58.6 1176.7,60.9 1182.3,63.2 1188.0,65.5 1192.8,67.7 1197.3,69.9 1201.2,72.2 1205.2,74.4 1207.9,76.6 1210.6,78.9 1213.7,81.1 1218.0,83.4 1222.4,85.7 1226.0,88.0 1229.0,90.3 1231.7,92.6 1234.0,95.0 1236.8,97.4 1239.5,99.8 1242.7,102.3 1244.9,104.8 1247.8,107.3 1249.6,109.8 1251.9,112.3 1253.6,114.7 1256.2,117.2 1258.6,119.6 1260.5,122.0 1263.1,124.4 1265.6,126.7 1267.8,129.1 1269.7,131.4 1270.8,133.8 1272.4,136.1 1274.3,138.4 1275.5,140.7 1277.0,143.0 1278.1,145.2 1281.3,147.5 1283.7,149.7 1286.8,152.0 1288.5,154.2 1289.4,156.4 1289.7,158.6 1290.7,160.9 1292.5,163.1 1294.5,165.3 1295.9,167.6 1297.0,169.9 1298.1,172.1 1299.3,174.4 1300.0,176.7 1300.4,179.0 1301.6,181.4 1303.1,183.7 1304.7,186.1 1305.5,188.4 1306.0,190.8 1306.2,193.2 1307.0,195.6 1308.1,198.0 1309.0,200.4 1309.1,202.8 1309.7,205.2 1310.6,207.5 1312.4,209.9 1313.4,212.3 1314.1,214.6 1313.9,217.0 1314.5,219.3 1315.0,221.6 1316.4,223.9 1316.4,226.2 1316.7,228.5 1316.8,230.8 1317.9,233.1 1319.4,235.4 1320.2,237.7 1321.5,240.0 1321.4,242.3 1322.1,244.6 1322.0,246.9 1323.1,249.2 1323.9,251.6 1325.4,253.9 1325.5,256.3 1325.5,258.6 1325.8,261.0 1326.4,263.4 1327.0,265.9 1328.2,268.3 1329.1,270.7 1329.6,273.1 1329.1,275.6 1330.3,278.0 1331.3,280.4 1332.2,282.9 1331.8,285.3 1332.5,287.7 1334.0,290.1 1335.0,292.5 1336.1,294.8 1336.6,297.2 1338.4,299.5 1337.9,301.8 1338.6,304.1 1338.4,306.3 1339.7,308.6 1340.8,310.8 1341.7,313.0 1342.4,315.2 1342.3,317.4 1342.6,319.6 1343.2,321.8 1344.4,324.0 1345.3,326.2 1345.7,328.4 1346.3,330.6 1347.2,332.9 1347.8,335.1 1347.4,337.3 1347.5,339.6 1349.5,341.9 1350.8,344.2 1351.5,346.5 1351.2,348.8 1352.3,351.2 1352.6,353.5 1353.3,355.9 1353.6,358.2 1354.7,360.6 1354.5,363.0 1355.2,365.4 1356.6,367.7 1357.5,370.1 1358.0,372.5 1357.9,374.8 1359.3,377.2 1359.7,379.5 1360.4,381.9 1360.3,384.2 1360.4,386.5 1360.9,388.9 1361.9,391.2 1363.0,393.5 1363.6,395.8 1364.4,398.1 1364.7,400.4 1365.7,402.7 1366.1,405.1 1365.9,407.4 1365.9,409.7 1366.3,412.1 1367.1,414.5 1367.5,416.8 1368.6,419.2 1369.6,421.6 1370.4,424.0 1370.0,426.5 1370.5,428.9 1371.5,431.3 1372.4,433.8 1373.4,436.2 1374.0,438.7 1374.5,441.1 1375.5,443.5 1376.0,446.0 1377.1,448.4 1375.9,450.8 1376.8,453.2 1376.9,455.6 1378.7,457.9 1379.3,460.3 1379.2,462.6 1379.9,464.9 1380.7,467.2 1382.2,469.4 1382.2,471.7 1382.4,473.9 1383.3,476.1 1384.3,478.4 1384.9,480.6 1385.3,482.8 1386.0,485.0 1386.7,487.2 1386.0,489.4 1386.6,491.6 1386.9,493.8 1388.3,496.1 1388.7,498.3 1389.5,500.6 1390.2,502.9 1390.6,505.1 1391.2,507.4 1391.5,509.8 1392.3,512.1 1392.4,514.4 1392.9,516.7 1393.0,519.1 1393.9,521.4 1394.7,523.8 1395.3,526.1 1394.8,528.5 1394.4,530.8 1395.3,533.2 1396.5,535.5 1397.1,537.8 1398.0,540.1 1398.2,542.4 1399.2,544.7 1399.1,547.0 1400.3,549.3 1401.0,551.6 1400.7,553.9 1401.1,556.1 1401.7,558.4 1402.7,560.7" fill="none" stroke="#00ffff" stroke-width="11.0" stroke-linecap="round" stroke-linejoin="round" />
<polyline points="1106.5,21.0 1107.3,23.3 1109.0,25.5 1109.3,27.8 1111.4,30.0 1113.2,32.3 1115.2,34.5 1118.5,36.8 1121.9,39.0 1127.4,41.3 1132.2,43.5 1138.8,45.8 1145.8,48.0 1152.2,50.2 1156.5,52.5 1162.5,54.7 1167.7,57.0 1174.4,59.2 1178.7,61.5 1184.4,63.7 1188.1,66.0 1192.7,68.2 1197.1,70.5 1202.4,72.7 1206.1,75.0 1208.1,77.3 1210.9,79.5 1215.1,81.8 1218.8,84.1 1222.3,86.4 1225.3,88.7 1228.6,91.1 1231.3,93.4 1234.0,95.7 1236.5,98.1 1239.7,100.5 1242.7,102.8 1245.4,105.2 1247.3,107.7 1249.1,110.1 1251.0,112.5 1252.8,114.9 1255.0,117.3 1257.8,119.7 1259.6,122.1 1260.9,124.5 1262.6,126.9 1266.4,129.3 1269.0,131.7 1270.5,134.1 1271.2,136.5 1273.0,138.9 1275.0,141.3 1277.5,143.8 1280.5,146.2 1282.7,148.6 1284.1,151.0 1285.2,153.4 1286.3,155.8 1287.2,158.2 1287.6,160.6 1289.6,163.0 1291.2,165.3 1292.7,167.7 1294.2,170.0 1295.5,172.4 1296.6,174.7 1297.0,177.1 1298.9,179.4 1299.6,181.7 1301.1,184.0 1302.5,186.3 1304.3,188.6 1306.2,190.8 1306.6,193.1 1307.7,195.3 1308.4,197.6 1309.3,199.8 1309.7,202.0 1309.9,204.3 1310.7,206.5 1311.7,208.7 1313.1,210.9 1313.2,213.1 1313.7,215.3 1313.6,217.5 1314.4,219.7 1314.8,222.0 1316.1,224.2 1317.4,226.4 1318.1,228.6 1318.8,230.8 1319.2,233.1 1319.9,235.3 1320.6,237.6 1321.2,239.8 1322.4,242.1 1322.9,244.4 1323.7,246.7 1323.7,249.0 1323.5,251.3 1323.8,253.7 1324.0,256.0 1324.8,258.4 1325.5,260.8 1326.2,263.1 1326.2,265.5 1327.0,267.9 1327.1,270.4 1327.9,272.8 1328.1,275.2 1329.9,277.6 1330.6,280.1 1331.4,282.5 1331.2,285.0 1332.2,287.4 1333.4,289.9 1335.0,292.4 1336.1,294.8 1336.4,297.3 1336.8,299.7 1337.2,302.2 1337.9,304.6 1339.1,307.0 1340.5,309.5 1340.8,311.9 1341.1,314.3 1341.3,316.7 1342.2,319.1 1342.3,321.5 1342.1,323.9 1343.1,326.2 1343.7,328.6 1344.0,330.9 1343.4,333.2 1344.0,335.5 1345.8,337.8 1346.7,340.1 1347.6,342.4 1348.4,344.6 1349.9,346.9 1351.1,349.2 1351.9,351.4 1352.5,353.6 1352.9,355.9 1353.1,358.1 1353.5,360.3 1354.3,362.5 1355.2,364.7 1355.1,366.9 1355.9,369.2 1356.2,371.4 1357.2,373.6 1356.8,375.8 1358.2,378.0 1359.0,380.3 1360.1,382.5 1360.5,384.8 1361.5,387.0 1362.0,389.3 1361.4,391.5 1362.3,393.8 1363.8,396.1 1366.1,398.4 1367.9,400.7 1368.3,403.0 1367.9,405.3 1367.9,407.6 1368.8,410.0 1370.1,412.3 1369.1,414.7 1369.5,417.0 1369.2,419.4 1370.1,421.8 1369.8,424.2 1370.7,426.6 1371.0,429.0 1371.3,431.3 1371.6,433.7 1372.7,436.1 1373.6,438.6 1374.3,441.0 1374.7,443.4 1375.0,445.8 1375.2,448.2 1376.6,450.6 1377.4,453.0 1378.5,455.4 1377.4,457.8 1377.4,460.1 1377.2,462.5 1378.2,464.9 1378.9,467.3 1380.3,469.7 1381.1,472.0 1382.1,474.4 1382.3,476.7 1382.5,479.1 1383.6,481.4 1384.2,483.8 1384.9,486.1 1385.7,488.5 1386.7,490.8 1388.0,493.1 1387.9,495.5 1388.3,497.8 1388.3,500.1 1389.4,502.4 1389.9,504.7 1390.4,507.0 1390.8,509.3 1391.7,511.6 1392.6,513.9 1392.8,516.3 1392.0,518.6 1392.5,520.9 1392.5,523.2 1393.6,525.5 1392.8,527.8 1393.3,530.1 1394.0,532.4 1395.9,534.7 1396.6,537.0 1397.6,539.3 1398.3,541.6 1399.2,543.9 1399.1,546.2 1400.1,548.4 1401.5,550.7 1401.9,553.0 1401.3,555.3 1402.1,557.6 1403.2,559.9 1404.6,562.2" fill="none" stroke="#00ffff" stroke-width="11.0" stroke-linecap="round" stroke-linejoin="round" />
<polyline points="1106.4,19.4 1107.5,21.8 1108.1,24.5 1110.0,27.2 1110.9,29.8 1113.6,32.5 1115.0,35.1 1116.9,37.7 1118.8,40.2 1123.4,42.7 1130.0,45.2 1136.2,47.6 1143.5,50.0 1150.1,52.3 1155.7,54.6 1160.4,56.8 1164.9,59.0 1170.6,61.1 1176.2,63.2 1181.6,65.3 1186.8,67.4 1191.0,69.4 1194.7,71.4 1199.4,73.4 1203.0,75.4 1206.7,77.4 1209.1,79.4 1212.9,81.4 1216.1,83.4 1220.7,85.4 1223.8,87.5 1227.2,89.5 1229.9,91.7 1233.0,93.8 1236.1,96.0 1238.1,98.3 1240.9,100.6 1243.5,103.0 1246.7,105.6 1250.0,108.1 1252.5,110.7 1255.7,113.3 1258.3,115.8 1260.4,118.4 1261.2,121.0 1262.4,123.6 1265.0,126.0 1267.4,128.5 1270.2,131.0 1271.2,133.5 1273.3,136.0 1274.7,138.5 1277.8,141.0 1279.7,143.4 1281.5,145.9 1282.5,148.3 1283.2,150.8 1284.3,153.2 1285.9,155.6 1288.0,157.9 1290.0,160.3 1291.9,162.6 1293.0,164.9 1293.8,167.2 1294.0,169.5 1295.6,171.7 1296.6,173.9 1297.9,176.1 1299.3,178.3 1300.0,180.5 1301.7,182.7 1301.7,184.9 1302.9,187.1 1304.6,189.2 1306.5,191.4 1307.9,193.6 1307.2,195.8 1307.6,198.0 1308.4,200.2 1309.9,202.4 1310.8,204.6 1310.2,206.9 1311.1,209.1 1312.0,211.4 1313.5,213.7 1313.9,216.1 1314.4,218.4 1315.4,220.8 1316.5,223.2 1317.2,225.6 1317.9,228.0 1318.6,230.5 1318.8,232.9 1319.6,235.4 1319.8,237.8 1321.2,240.3 1321.1,242.8 1321.8,245.3 1321.4,247.7 1322.3,250.2 1322.1,252.7 1323.6,255.1 1324.2,257.6 1325.7,260.0 1325.6,262.4 1326.0,264.8 1326.5,267.2 1327.3,269.6 1328.3,271.9 1328.3,274.2 1329.2,276.5 1329.2,278.8 1330.3,281.1 1330.5,283.3 1331.5,285.6 1332.2,287.8 1332.7,290.0 1333.2,292.2 1334.0,294.4 1334.5,296.6 1335.8,298.8 1336.5,301.0 1338.1,303.1 1338.2,305.3 1339.4,307.5 1339.8,309.7 1341.1,312.0 1341.7,314.2 1343.0,316.5 1343.3,318.7 1344.5,321.0 1344.9,323.3 1345.4,325.6 1345.4,328.0 1345.8,330.3 1347.0,332.7 1347.5,335.1 1347.9,337.5 1348.7,339.9 1349.7,342.3 1350.1,344.8 1351.1,347.2 1350.9,349.7 1351.9,352.1 1353.1,354.6 1353.5,357.0 1353.9,359.5 1353.6,362.0 1355.3,364.4 1356.3,366.8 1356.6,369.3 1356.6,371.7 1357.1,374.1 1358.4,376.5 1360.0,378.8 1361.4,381.2 1361.0,383.5 1361.6,385.8 1361.2,388.1 1361.7,390.4 1360.7,392.7 1361.9,394.9 1362.1,397.2 1363.7,399.4 1364.0,401.6 1365.5,403.8 1365.5,406.1 1366.1,408.3 1366.5,410.5 1366.7,412.7 1366.6,414.9 1366.3,417.1 1368.0,419.3 1369.5,421.5 1370.8,423.8 1370.1,426.0 1370.1,428.3 1371.1,430.6 1372.7,432.9 1373.1,435.2 1373.7,437.5 1374.1,439.8 1375.0,442.2 1374.2,444.6 1374.5,447.0 1374.6,449.4 1376.1,451.8 1376.3,454.2 1376.9,456.6 1377.5,459.1 1378.1,461.5 1378.9,463.9 1378.7,466.4 1379.4,468.8 1380.2,471.3 1380.9,473.7 1382.6,476.1 1383.7,478.5 1384.8,481.0 1384.3,483.4 1384.8,485.7 1384.7,488.1 1386.0,490.5 1386.0,492.8 1387.1,495.1 1387.6,497.4 1388.0,499.7 1388.3,502.0 1388.4,504.3 1389.1,506.5 1390.5,508.8 1390.9,511.0 1391.6,513.2 1391.3,515.5 1392.4,517.7 1393.2,519.9 1393.3,522.1 1393.6,524.4 1394.3,526.6 1396.2,528.8 1396.7,531.1 1397.1,533.3 1396.9,535.6 1398.1,537.8 1398.7,540.1 1399.7,542.4 1399.9,544.7 1401.2,547.0 1401.3,549.4 1402.2,551.7 1402.0,554.1" fill="none" stroke="#00ffff" stroke-width="11.0" stroke-linecap="round" stroke-linejoin="round" />
<polyline points="1108.7,19.4 1109.0,19.4 1108.5,21.8 1110.4,24.1 1112.2,26.4 1114.9,28.7 1116.6,31.1 1119.8,33.4 1122.0,35.8 1126.9,38.1 1132.0,40.5 1137.9,42.9 1143.4,45.2 1149.0,47.6 1154.6,50.0 1160.4,52.4 1165.7,54.7 1171.5,57.1 1177.4,59.5 1183.1,61.9 1188.6,64.3 1192.0,66.6 1196.0,69.0 1199.5,71.4 1204.3,73.8 1208.2,76.2 1211.9,78.5 1215.8,80.9 1218.6,83.3 1222.3,85.6 1224.2,88.0 1227.3,90.4 1229.3,92.7 1233.0,95.1 1235.9,97.4 1239.5,99.7 1242.2,102.1 1243.9,104.5 1246.8,106.9 1249.4,109.2 1252.6,111.6 1254.7,114.0 1257.3,116.4 1259.5,118.8 1261.0,121.1 1263.2,123.5 1265.2,125.8 1267.9,128.1 1269.7,130.4 1271.4,132.7 1272.3,135.0 1273.9,137.4 1275.7,139.7 1278.6,142.0 1279.9,144.3 1281.4,146.6 1282.4,148.9 1284.2,151.2 1285.7,153.5 1287.5,155.8 1289.1,158.1 1291.6,160.4 1292.3,162.7 1293.6,165.0 1294.5,167.3 1296.9,169.6 1298.2,171.9 1299.3,174.2 1299.8,176.6 1300.7,178.9 1301.7,181.2 1302.9,183.5 1304.2,185.9 1305.9,188.2 1306.8,190.5 1307.0,192.8 1307.3,195.2 1307.6,197.5 1308.9,199.9 1309.7,202.2 1310.8,204.5 1312.1,206.9 1313.3,209.2 1313.3,211.6 1313.8,213.9 1313.8,216.3 1315.6,218.6 1317.0,221.0 1317.8,223.3 1318.3,225.7 1318.2,228.1 1318.6,230.4 1319.5,232.8 1320.3,235.1 1321.3,237.5 1321.9,239.8 1321.9,242.2 1322.3,244.5 1321.6,246.9 1323.0,249.2 1323.6,251.6 1325.0,253.9 1323.9,256.3 1325.1,258.6 1324.7,261.0 1325.7,263.3 1325.5,265.6 1326.5,268.0 1327.5,270.3 1328.1,272.6 1329.4,274.9 1330.1,277.2 1331.0,279.6 1331.2,281.9 1331.8,284.2 1332.3,286.5 1333.5,288.8 1334.1,291.1 1334.3,293.4 1334.0,295.7 1335.3,298.0 1336.4,300.3 1338.2,302.6 1338.7,304.9 1339.5,307.2 1340.6,309.5 1341.4,311.8 1342.2,314.1 1341.9,316.4 1343.3,318.7 1343.9,321.1 1344.7,323.4 1344.4,325.7 1345.5,328.0 1345.7,330.3 1346.4,332.6 1346.6,334.9 1347.9,337.2 1348.8,339.5 1348.7,341.9 1349.6,344.2 1350.3,346.5 1351.2,348.8 1351.4,351.1 1352.1,353.5 1353.8,355.8 1355.2,358.1 1355.7,360.5 1355.8,362.8 1355.5,365.1 1355.8,367.5 1357.2,369.8 1358.0,372.2 1358.4,374.5 1357.7,376.9 1357.7,379.2 1358.9,381.6 1360.0,383.9 1362.0,386.3 1362.5,388.6 1362.8,391.0 1363.3,393.3 1363.8,395.7 1364.2,398.0 1364.6,400.4 1365.5,402.7 1366.6,405.1 1366.2,407.4 1367.0,409.8 1367.1,412.1 1368.3,414.5 1368.5,416.8 1370.0,419.2 1370.5,421.5 1371.5,423.9 1371.8,426.2 1372.3,428.6 1372.4,430.9 1372.5,433.2 1373.1,435.6 1373.6,437.9 1374.4,440.2 1374.8,442.6 1375.5,444.9 1375.5,447.2 1376.3,449.5 1376.1,451.9 1377.9,454.2 1378.3,456.5 1379.0,458.8 1377.7,461.1 1379.5,463.4 1380.4,465.7 1382.1,468.0 1381.7,470.3 1382.0,472.6 1382.3,474.9 1383.0,477.2 1383.5,479.5 1383.7,481.8 1385.4,484.1 1386.5,486.3 1387.8,488.6 1386.7,490.9 1387.6,493.2 1388.1,495.5 1388.4,497.8 1388.8,500.1 1388.9,502.4 1390.3,504.8 1390.5,507.1 1391.7,509.4 1392.1,511.7 1392.5,514.0 1393.1,516.3 1393.6,518.7 1394.2,521.0 1394.4,523.4 1395.4,525.7 1396.8,528.0 1397.8,530.4 1397.5,532.7 1397.2,535.1 1397.2,537.4 1397.9,539.8 1398.6,542.2 1399.0,544.5 1399.5,546.9 1399.8,549.2 1400.6,551.6 1401.4,554.0 1402.1,556.3" fill="none" stroke="#00ffff" stroke-width="11.0" stroke-linecap="round" stroke-linejoin="round" />
<polyline points="1108.3,19.4 1108.8,21.2 1109.4,23.5 1109.9,25.8 1111.5,28.2 1113.7,30.5 1115.9,32.8 1118.4,35.1 1120.9,37.5 1126.5,39.8 1132.3,42.1 1138.5,44.4 1144.7,46.7 1150.9,49.1 1156.6,51.4 1161.8,53.7 1167.0,56.1 1172.3,58.4 1177.9,60.7 1183.4,63.1 1188.9,65.4 1193.4,67.8 1197.5,70.1 1201.6,72.5 1205.6,74.8 1208.8,77.2 1212.1,79.5 1215.4,81.9 1218.5,84.2 1221.6,86.6 1224.6,88.9 1227.6,91.3 1230.4,93.6 1233.3,95.9 1236.2,98.3 1239.0,100.6 1241.9,102.9 1244.4,105.3 1246.7,107.6 1249.1,110.0 1251.4,112.3 1253.8,114.6 1256.2,117.0 1258.5,119.3 1260.6,121.6 1262.6,124.0 1264.6,126.3 1266.6,128.6 1268.6,130.9 1270.6,133.2 1272.5,135.6 1274.5,137.9 1276.4,140.2 1278.0,142.5 1279.6,144.9 1281.2,147.2 1282.9,149.5 1284.5,151.8 1286.1,154.2 1287.7,156.5 1289.3,158.8 1290.9,161.2 1292.4,163.5 1293.5,165.8 1294.7,168.2 1295.9,170.5 1297.0,172.8 1298.2,175.1 1299.3,177.5 1300.5,179.8 1301.6,182.1 1302.8,184.5 1303.9,186.8 1305.0,189.1 1306.2,191.4 1307.0,193.8 1307.7,196.1 1308.5,198.4 1309.3,200.7 1310.1,203.1 1310.8,205.4 1311.6,207.7 1312.4,210.0 1313.1,212.4 1313.9,214.7 1314.6,217.0 1315.4,219.4 1316.2,221.7 1316.9,224.0 1317.6,226.4 1318.1,228.7 1318.7,231.0 1319.2,233.4 1319.8,235.7 1320.3,238.0 1320.9,240.4 1321.4,242.7 1322.0,245.0 1322.5,247.4 1323.1,249.7 1323.6,252.0 1324.2,254.3 1324.7,256.7 1325.3,259.0 1325.8,261.3 1326.4,263.6 1327.0,266.0 1327.6,268.3 1328.3,270.6 1329.0,272.9 1329.7,275.3 1330.4,277.6 1331.0,279.9 1331.7,282.2 1332.4,284.6 1333.1,286.9 1333.8,289.2 1334.5,291.6 1335.1,293.9 1335.8,296.2 1336.5,298.6 1337.2,300.9 1337.9,303.2 1338.6,305.6 1339.3,307.9 1340.0,310.2 1340.7,312.5 1341.4,314.9 1342.0,317.2 1342.7,319.5 1343.3,321.9 1344.0,324.2 1344.6,326.5 1345.3,328.8 1346.0,331.1 1346.6,333.5 1347.3,335.8 1347.9,338.1 1348.6,340.4 1349.2,342.7 1349.9,345.0 1350.6,347.4 1351.2,349.7 1351.9,352.0 1352.5,354.3 1353.2,356.7 1353.8,359.0 1354.5,361.3 1355.1,363.6 1355.8,366.0 1356.4,368.3 1357.1,370.6 1357.7,373.0 1358.3,375.3 1358.9,377.6 1359.5,380.0 1360.0,382.3 1360.6,384.6 1361.2,387.0 1361.8,389.3 1362.3,391.7 1362.9,394.0 1363.5,396.3 1364.1,398.7 1364.7,401.0 1365.2,403.3 1365.8,405.7 1366.4,408.0 1367.0,410.3 1367.5,412.7 1368.1,415.0 1368.7,417.3 1369.3,419.7 1369.8,422.0 1370.4,424.3 1371.0,426.6 1371.6,429.0 1372.1,431.3 1372.7,433.6 1373.3,436.0 1373.8,438.3 1374.4,440.6 1375.0,442.9 1375.5,445.3 1376.1,447.6 1376.6,449.9 1377.2,452.2 1377.7,454.6 1378.3,456.9 1378.8,459.2 1379.4,461.5 1379.9,463.8 1380.5,466.2 1381.1,468.5 1381.6,470.8 1382.2,473.1 1382.7,475.4 1383.3,477.7 1383.8,480.1 1384.4,482.4 1385.0,484.7 1385.5,487.0 1386.0,489.3 1386.6,491.7 1387.1,494.0 1387.7,496.3 1388.2,498.7 1388.8,501.0 1389.3,503.3 1389.9,505.6 1390.4,508.0 1391.0,510.3 1391.5,512.7 1392.1,515.0 1392.6,517.3 1393.2,519.7 1393.7,522.0 1394.3,524.3 1394.8,526.7 1395.4,529.0 1396.0,531.4 1396.5,533.7 1397.1,536.0 1397.6,538.4 1398.2,540.7 1398.8,543.0 1399.3,545.4 1399.9,547.7 1400.4,550.0 1401.0,552.3 1401.6,554.7 1402.1,557.0 1402.7,559.3" fill="none" stroke="#0000ff" stroke-width="3.1" stroke-linecap="round" stroke-linejoin="round" />
<polyline points="1108.2,19.4 1108.7,21.6 1109.2,24.0 1109.7,26.4 1111.3,28.7 1113.5,31.1 1115.6,33.5 1118.1,35.9 1120.6,38.2 1126.2,40.6 1131.9,43.0 1138.1,45.3 1144.3,47.6 1150.5,50.0 1156.3,52.3 1161.5,54.6 1166.8,56.9 1172.1,59.2 1177.7,61.5 1183.3,63.7 1188.8,66.0 1193.3,68.3 1197.5,70.5 1201.6,72.8 1205.6,75.0 1208.9,77.3 1212.2,79.6 1215.5,81.8 1218.6,84.1 1221.7,86.4 1224.8,88.6 1227.8,90.9 1230.7,93.2 1233.6,95.5 1236.4,97.9 1239.3,100.2 1242.1,102.5 1244.6,104.9 1247.0,107.3 1249.3,109.7 1251.7,112.1 1254.1,114.5 1256.4,116.9 1258.8,119.3 1260.9,121.7 1262.9,124.0 1264.9,126.4 1266.9,128.8 1268.9,131.2 1270.9,133.5 1272.9,135.9 1274.9,138.3 1276.7,140.6 1278.3,143.0 1279.9,145.3 1281.5,147.7 1283.1,150.0 1284.7,152.4 1286.3,154.7 1287.9,157.0 1289.5,159.4 1291.1,161.7 1292.6,164.0 1293.7,166.3 1294.8,168.6 1295.9,170.9 1297.1,173.2 1298.2,175.5 1299.3,177.8 1300.5,180.1 1301.6,182.4 1302.7,184.7 1303.9,186.9 1305.0,189.2 1306.2,191.5 1306.9,193.8 1307.7,196.1 1308.5,198.4 1309.3,200.7 1310.1,203.1 1310.8,205.4 1311.6,207.7 1312.4,210.0 1313.1,212.4 1313.9,214.7 1314.7,217.0 1315.4,219.4 1316.2,221.7 1316.9,224.1 1317.6,226.4 1318.1,228.8 1318.7,231.1 1319.2,233.5 1319.8,235.9 1320.3,238.2 1320.9,240.6 1321.4,242.9 1322.0,245.3 1322.5,247.6 1323.1,250.0 1323.7,252.3 1324.2,254.6 1324.8,257.0 1325.4,259.3 1325.9,261.6 1326.5,264.0 1327.1,266.3 1327.8,268.6 1328.4,270.9 1329.1,273.2 1329.8,275.5 1330.5,277.8 1331.2,280.1 1331.9,282.4 1332.6,284.7 1333.3,287.0 1334.0,289.3 1334.6,291.6 1335.3,293.9 1336.0,296.2 1336.7,298.5 1337.3,300.8 1338.0,303.1 1338.7,305.4 1339.4,307.8 1340.1,310.1 1340.7,312.4 1341.4,314.8 1342.1,317.1 1342.7,319.4 1343.4,321.8 1344.0,324.2 1344.7,326.5 1345.4,328.9 1346.0,331.2 1346.7,333.6 1347.4,336.0 1348.0,338.3 1348.7,340.7 1349.3,343.1 1350.0,345.4 1350.7,347.8 1351.3,350.2 1352.0,352.5 1352.6,354.9 1353.3,357.2 1353.9,359.6 1354.6,361.9 1355.2,364.2 1355.9,366.6 1356.5,368.9 1357.2,371.2 1357.8,373.5 1358.3,375.8 1358.9,378.1 1359.5,380.4 1360.1,382.7 1360.7,385.0 1361.2,387.3 1361.8,389.6 1362.4,391.9 1363.0,394.2 1363.6,396.4 1364.2,398.7 1364.8,401.0 1365.3,403.3 1365.9,405.6 1366.5,407.9 1367.1,410.2 1367.7,412.5 1368.3,414.9 1368.9,417.2 1369.4,419.5 1370.0,421.8 1370.6,424.2 1371.1,426.5 1371.7,428.9 1372.3,431.2 1372.8,433.6 1373.4,435.9 1374.0,438.3 1374.5,440.6 1375.1,443.0 1375.6,445.3 1376.1,447.7 1376.7,450.1 1377.2,452.4 1377.8,454.8 1378.3,457.1 1378.9,459.5 1379.4,461.8 1380.0,464.2 1380.6,466.5 1381.1,468.8 1381.7,471.1 1382.3,473.5 1382.8,475.8 1383.4,478.1 1384.0,480.4 1384.5,482.7 1385.1,485.0 1385.6,487.3 1386.2,489.6 1386.7,491.9 1387.3,494.2 1387.8,496.5 1388.3,498.8 1388.9,501.1 1389.4,503.4 1389.9,505.7 1390.5,508.1 1391.0,510.4 1391.6,512.7 1392.1,515.0 1392.6,517.3 1393.2,519.7 1393.7,522.0 1394.3,524.3 1394.8,526.7 1395.4,529.0 1396.0,531.4 1396.5,533.7 1397.1,536.1 1397.7,538.4 1398.2,540.8 1398.8,543.2 1399.4,545.5 1399.9,547.9 1400.5,550.2 1401.1,552.6 1401.6,555.0 1402.2,557.3 1402.8,559.7 1403.3,562.0 1403.9,564.4 1404.4,566.7" fill="none" stroke="#0000ff" stroke-width="3.1" stroke-linecap="round" stroke-linejoin="round" />
<polyline points="1107.6,19.4 1108.1,21.2 1108.6,23.5 1109.1,25.9 1110.8,28.2 1113.0,30.6 1115.2,32.9 1117.7,35.2 1120.3,37.6 1125.9,39.9 1131.8,42.3 1138.0,44.6 1144.3,47.0 1150.5,49.3 1156.3,51.6 1161.5,54.0 1166.8,56.3 1172.1,58.7 1177.7,61.0 1183.2,63.4 1188.8,65.7 1193.3,68.1 1197.4,70.4 1201.5,72.8 1205.5,75.1 1208.8,77.4 1212.1,79.8 1215.4,82.1 1218.5,84.5 1221.6,86.8 1224.8,89.2 1227.7,91.5 1230.6,93.8 1233.5,96.2 1236.3,98.5 1239.2,100.9 1242.0,103.2 1244.5,105.5 1246.8,107.9 1249.1,110.2 1251.5,112.5 1253.8,114.8 1256.2,117.2 1258.6,119.5 1260.7,121.8 1262.7,124.1 1264.7,126.5 1266.6,128.8 1268.6,131.1 1270.6,133.4 1272.6,135.8 1274.6,138.1 1276.5,140.4 1278.1,142.7 1279.7,145.0 1281.3,147.4 1282.9,149.7 1284.5,152.0 1286.1,154.3 1287.6,156.7 1289.2,159.0 1290.8,161.3 1292.3,163.6 1293.4,165.9 1294.5,168.3 1295.7,170.6 1296.8,172.9 1298.0,175.2 1299.1,177.5 1300.3,179.9 1301.4,182.2 1302.6,184.5 1303.7,186.8 1304.9,189.2 1306.0,191.5 1306.8,193.8 1307.6,196.1 1308.4,198.4 1309.1,200.8 1309.9,203.1 1310.7,205.4 1311.4,207.7 1312.2,210.0 1312.9,212.4 1313.7,214.7 1314.5,217.0 1315.2,219.3 1316.0,221.7 1316.8,224.0 1317.4,226.3 1318.0,228.7 1318.5,231.0 1319.1,233.3 1319.6,235.7 1320.2,238.0 1320.7,240.3 1321.3,242.6 1321.8,245.0 1322.3,247.3 1322.9,249.6 1323.4,252.0 1324.0,254.3 1324.5,256.6 1325.1,259.0 1325.6,261.3 1326.2,263.6 1326.7,266.0 1327.4,268.3 1328.2,270.7 1328.9,273.0 1329.6,275.3 1330.3,277.7 1331.0,280.0 1331.7,282.3 1332.5,284.7 1333.2,287.0 1333.9,289.3 1334.6,291.7 1335.3,294.0 1336.0,296.3 1336.7,298.7 1337.4,301.0 1338.1,303.3 1338.8,305.7 1339.5,308.0 1340.2,310.3 1340.9,312.7 1341.6,315.0 1342.2,317.3 1342.9,319.7 1343.5,322.0 1344.1,324.3 1344.8,326.7 1345.4,329.0 1346.0,331.3 1346.6,333.7 1347.3,336.0 1347.9,338.3 1348.5,340.6 1349.1,343.0 1349.7,345.3 1350.3,347.6 1350.9,350.0 1351.5,352.3 1352.2,354.6 1352.8,356.9 1353.4,359.3 1354.1,361.6 1354.7,363.9 1355.4,366.2 1356.1,368.5 1356.7,370.9 1357.4,373.2 1358.0,375.5 1358.6,377.8 1359.2,380.1 1359.8,382.5 1360.4,384.8 1361.0,387.1 1361.6,389.4 1362.2,391.8 1362.8,394.1 1363.4,396.4 1364.0,398.7 1364.6,401.0 1365.2,403.4 1365.8,405.7 1366.4,408.0 1367.0,410.3 1367.6,412.6 1368.2,415.0 1368.8,417.3 1369.3,419.6 1369.9,421.9 1370.5,424.2 1371.0,426.6 1371.6,428.9 1372.2,431.2 1372.7,433.5 1373.2,435.9 1373.8,438.2 1374.3,440.5 1374.8,442.8 1375.4,445.2 1375.9,447.5 1376.4,449.8 1377.0,452.1 1377.5,454.5 1378.0,456.8 1378.6,459.1 1379.2,461.4 1379.7,463.8 1380.3,466.1 1380.9,468.4 1381.5,470.8 1382.0,473.1 1382.6,475.4 1383.2,477.8 1383.8,480.1 1384.3,482.4 1384.9,484.8 1385.5,487.1 1386.0,489.5 1386.6,491.8 1387.1,494.1 1387.7,496.5 1388.3,498.8 1388.8,501.1 1389.4,503.5 1389.9,505.8 1390.5,508.2 1391.1,510.5 1391.6,512.8 1392.2,515.2 1392.7,517.5 1393.3,519.8 1393.8,522.2 1394.4,524.5 1394.9,526.8 1395.5,529.2 1396.0,531.5 1396.5,533.8 1397.1,536.2 1397.6,538.5 1398.1,540.9 1398.7,543.2 1399.2,545.5 1399.7,547.8 1400.3,550.2 1400.8,552.5 1401.4,554.8 1401.9,557.2 1402.5,559.5 1403.0,561.8" fill="none" stroke="#0000ff" stroke-width="3.1" stroke-linecap="round" stroke-linejoin="round" />
<polyline points="1107.9,19.4 1108.4,21.6 1108.9,23.9 1109.4,26.2 1111.0,28.5 1113.1,30.8 1115.3,33.1 1117.7,35.4 1120.2,37.7 1125.8,40.1 1131.6,42.4 1137.9,44.7 1144.1,47.0 1150.4,49.4 1156.2,51.7 1161.5,54.0 1166.8,56.4 1172.1,58.7 1177.8,61.1 1183.4,63.4 1188.9,65.8 1193.4,68.1 1197.5,70.4 1201.7,72.8 1205.6,75.1 1208.9,77.5 1212.2,79.8 1215.4,82.2 1218.5,84.5 1221.6,86.8 1224.7,89.1 1227.6,91.5 1230.5,93.8 1233.4,96.1 1236.3,98.4 1239.2,100.7 1242.1,103.1 1244.7,105.4 1247.0,107.7 1249.4,110.0 1251.8,112.3 1254.2,114.7 1256.5,117.0 1258.9,119.3 1261.0,121.6 1262.9,124.0 1264.9,126.3 1266.8,128.6 1268.8,130.9 1270.7,133.2 1272.7,135.6 1274.6,137.9 1276.4,140.2 1278.0,142.5 1279.6,144.9 1281.2,147.2 1282.8,149.5 1284.4,151.9 1286.0,154.2 1287.6,156.6 1289.2,158.9 1290.9,161.2 1292.3,163.6 1293.5,165.9 1294.6,168.3 1295.8,170.6 1296.9,173.0 1298.1,175.3 1299.2,177.7 1300.3,180.0 1301.4,182.4 1302.5,184.7 1303.6,187.1 1304.7,189.4 1305.8,191.7 1306.6,194.1 1307.3,196.4 1308.1,198.7 1308.8,201.1 1309.6,203.4 1310.4,205.7 1311.2,208.1 1312.0,210.4 1312.8,212.7 1313.6,215.0 1314.4,217.3 1315.2,219.6 1316.0,222.0 1316.8,224.3 1317.4,226.6 1318.0,228.9 1318.5,231.2 1319.1,233.5 1319.6,235.8 1320.2,238.1 1320.7,240.4 1321.3,242.7 1321.8,245.0 1322.4,247.3 1322.9,249.6 1323.5,252.0 1324.1,254.3 1324.6,256.6 1325.2,258.9 1325.8,261.2 1326.4,263.6 1327.0,265.9 1327.7,268.2 1328.4,270.6 1329.2,272.9 1329.9,275.2 1330.6,277.6 1331.3,279.9 1331.9,282.2 1332.6,284.6 1333.3,286.9 1334.0,289.3 1334.6,291.6 1335.3,294.0 1335.9,296.3 1336.6,298.7 1337.3,301.0 1337.9,303.4 1338.6,305.7 1339.3,308.0 1340.0,310.4 1340.7,312.7 1341.4,315.1 1342.0,317.4 1342.7,319.7 1343.4,322.1 1344.1,324.4 1344.7,326.7 1345.4,329.1 1346.1,331.4 1346.7,333.7 1347.3,336.0 1348.0,338.4 1348.6,340.7 1349.2,343.0 1349.8,345.3 1350.5,347.6 1351.1,349.9 1351.7,352.2 1352.3,354.6 1352.9,356.9 1353.6,359.2 1354.2,361.5 1354.9,363.8 1355.5,366.1 1356.2,368.5 1356.9,370.8 1357.5,373.1 1358.1,375.4 1358.7,377.7 1359.3,380.1 1359.9,382.4 1360.5,384.7 1361.1,387.0 1361.7,389.4 1362.2,391.7 1362.8,394.0 1363.4,396.4 1363.9,398.7 1364.5,401.0 1365.0,403.4 1365.6,405.7 1366.1,408.0 1366.7,410.4 1367.3,412.7 1367.8,415.1 1368.4,417.4 1369.0,419.7 1369.6,422.1 1370.2,424.4 1370.8,426.7 1371.5,429.1 1372.1,431.4 1372.7,433.8 1373.3,436.1 1373.9,438.4 1374.4,440.7 1375.0,443.1 1375.6,445.4 1376.1,447.7 1376.6,450.1 1377.2,452.4 1377.7,454.7 1378.2,457.0 1378.8,459.4 1379.3,461.7 1379.9,464.0 1380.4,466.3 1381.0,468.6 1381.6,471.0 1382.1,473.3 1382.7,475.6 1383.3,477.9 1383.9,480.2 1384.5,482.6 1385.1,484.9 1385.6,487.2 1386.2,489.5 1386.8,491.8 1387.3,494.2 1387.8,496.5 1388.4,498.8 1388.9,501.1 1389.4,503.5 1389.9,505.8 1390.5,508.1 1391.0,510.4 1391.5,512.8 1392.0,515.1 1392.5,517.4 1393.1,519.8 1393.6,522.1 1394.2,524.4 1394.7,526.8 1395.3,529.1 1395.9,531.4 1396.5,533.8 1397.0,536.1 1397.6,538.4 1398.2,540.8 1398.7,543.1 1399.3,545.4 1399.9,547.8 1400.4,550.1 1400.9,552.4 1401.5,554.8 1402.0,557.1 1402.5,559.4" fill="none" stroke="#0000ff" stroke-width="3.1" stroke-linecap="round" stroke-linejoin="round" />
<polyline points="1108.3,19.4 1108.8,21.8 1109.3,24.2 1109.9,26.5 1111.5,28.9 1113.6,31.3 1115.8,33.7 1118.3,36.1 1120.8,38.4 1126.4,40.8 1132.2,43.1 1138.4,45.4 1144.6,47.7 1150.8,49.9 1156.6,52.2 1161.7,54.5 1167.0,56.7 1172.3,59.0 1177.9,61.2 1183.4,63.5 1189.0,65.7 1193.4,68.0 1197.6,70.3 1201.7,72.6 1205.7,74.9 1209.0,77.3 1212.3,79.6 1215.6,82.0 1218.7,84.3 1221.8,86.7 1224.9,89.1 1227.8,91.4 1230.7,93.8 1233.6,96.2 1236.5,98.5 1239.4,100.9 1242.2,103.2 1244.7,105.6 1247.1,107.9 1249.4,110.2 1251.8,112.6 1254.1,114.9 1256.4,117.2 1258.8,119.6 1260.9,121.9 1262.8,124.2 1264.8,126.6 1266.8,128.9 1268.8,131.3 1270.7,133.6 1272.7,136.0 1274.7,138.3 1276.6,140.6 1278.1,143.0 1279.7,145.3 1281.3,147.6 1282.9,149.9 1284.5,152.3 1286.1,154.6 1287.8,156.8 1289.4,159.1 1291.0,161.4 1292.4,163.7 1293.5,166.0 1294.7,168.3 1295.8,170.6 1297.0,172.8 1298.1,175.1 1299.3,177.5 1300.4,179.8 1301.6,182.1 1302.7,184.4 1303.9,186.8 1305.0,189.1 1306.1,191.5 1306.9,193.8 1307.7,196.2 1308.5,198.5 1309.3,200.9 1310.0,203.3 1310.8,205.6 1311.6,208.0 1312.4,210.3 1313.2,212.7 1313.9,215.0 1314.7,217.3 1315.5,219.7 1316.2,222.0 1317.0,224.3 1317.6,226.7 1318.2,229.0 1318.8,231.3 1319.3,233.7 1319.9,236.0 1320.5,238.3 1321.0,240.7 1321.6,243.0 1322.1,245.4 1322.7,247.7 1323.3,250.0 1323.8,252.4 1324.4,254.7 1324.9,257.0 1325.5,259.3 1326.0,261.6 1326.6,263.9 1327.1,266.2 1327.8,268.5 1328.5,270.8 1329.1,273.1 1329.8,275.4 1330.5,277.7 1331.2,280.0 1331.8,282.3 1332.5,284.6 1333.2,286.9 1333.9,289.2 1334.6,291.6 1335.2,293.9 1335.9,296.2 1336.6,298.6 1337.3,301.0 1338.0,303.3 1338.7,305.7 1339.3,308.1 1340.0,310.4 1340.7,312.8 1341.4,315.1 1342.1,317.5 1342.7,319.8 1343.4,322.2 1344.0,324.5 1344.7,326.8 1345.3,329.1 1346.0,331.5 1346.7,333.8 1347.3,336.1 1348.0,338.4 1348.6,340.7 1349.3,343.1 1350.0,345.4 1350.6,347.7 1351.3,350.0 1351.9,352.4 1352.6,354.7 1353.3,357.0 1353.9,359.3 1354.6,361.7 1355.2,364.0 1355.9,366.3 1356.5,368.6 1357.2,370.9 1357.8,373.2 1358.4,375.5 1359.0,377.8 1359.6,380.1 1360.1,382.4 1360.7,384.7 1361.3,387.0 1361.9,389.3 1362.4,391.7 1363.0,394.0 1363.6,396.3 1364.2,398.7 1364.7,401.0 1365.3,403.4 1365.9,405.7 1366.5,408.1 1367.0,410.5 1367.6,412.8 1368.2,415.2 1368.7,417.6 1369.3,419.9 1369.9,422.3 1370.5,424.7 1371.0,427.0 1371.6,429.3 1372.2,431.7 1372.8,434.0 1373.3,436.3 1373.9,438.6 1374.5,440.9 1375.0,443.3 1375.6,445.6 1376.1,447.9 1376.7,450.2 1377.3,452.5 1377.8,454.8 1378.4,457.1 1378.9,459.4 1379.5,461.7 1380.0,464.0 1380.6,466.4 1381.2,468.7 1381.7,471.0 1382.3,473.3 1382.8,475.6 1383.4,478.0 1384.0,480.3 1384.5,482.6 1385.1,484.9 1385.6,487.2 1386.2,489.5 1386.7,491.8 1387.3,494.1 1387.8,496.4 1388.3,498.7 1388.9,501.1 1389.4,503.4 1390.0,505.7 1390.5,508.1 1391.1,510.4 1391.6,512.8 1392.2,515.2 1392.7,517.5 1393.3,519.9 1393.8,522.3 1394.4,524.7 1394.9,527.0 1395.5,529.4 1396.0,531.7 1396.6,534.1 1397.2,536.4 1397.7,538.8 1398.3,541.1 1398.8,543.4 1399.4,545.7 1399.9,548.0 1400.5,550.3 1401.1,552.6 1401.6,554.9 1402.2,557.2 1402.7,559.5" fill="none" stroke="#0000ff" stroke-width="3.1" stroke-linecap="round" stroke-linejoin="round" />
<polyline points="1108.0,19.4 1108.5,21.3 1109.0,23.6 1109.5,26.0 1111.1,28.3 1113.3,30.7 1115.4,33.0 1117.9,35.4 1120.4,37.8 1126.0,40.1 1131.8,42.5 1138.0,44.8 1144.2,47.2 1150.4,49.5 1156.2,51.9 1161.4,54.2 1166.6,56.5 1171.9,58.9 1177.5,61.2 1183.1,63.5 1188.6,65.8 1193.1,68.1 1197.2,70.4 1201.4,72.7 1205.4,75.0 1208.7,77.3 1212.0,79.6 1215.3,81.9 1218.4,84.2 1221.5,86.5 1224.7,88.9 1227.6,91.2 1230.5,93.5 1233.4,95.9 1236.3,98.2 1239.2,100.6 1242.1,102.9 1244.6,105.3 1246.9,107.7 1249.3,110.1 1251.7,112.4 1254.0,114.8 1256.4,117.2 1258.7,119.5 1260.8,121.9 1262.8,124.2 1264.8,126.6 1266.8,128.9 1268.8,131.2 1270.8,133.6 1272.7,135.9 1274.7,138.2 1276.6,140.5 1278.2,142.8 1279.8,145.2 1281.4,147.5 1283.0,149.8 1284.6,152.1 1286.2,154.4 1287.8,156.7 1289.4,158.9 1291.0,161.2 1292.4,163.5 1293.5,165.8 1294.7,168.2 1295.8,170.5 1296.9,172.8 1298.1,175.1 1299.2,177.4 1300.3,179.7 1301.5,182.1 1302.6,184.4 1303.7,186.7 1304.9,189.1 1306.0,191.4 1306.8,193.8 1307.5,196.1 1308.3,198.5 1309.1,200.8 1309.8,203.2 1310.6,205.5 1311.4,207.8 1312.1,210.2 1312.9,212.5 1313.7,214.9 1314.4,217.2 1315.2,219.5 1316.0,221.8 1316.7,224.2 1317.4,226.5 1317.9,228.8 1318.5,231.1 1319.1,233.4 1319.6,235.8 1320.2,238.1 1320.8,240.4 1321.3,242.7 1321.9,245.0 1322.5,247.3 1323.0,249.7 1323.6,252.0 1324.2,254.3 1324.7,256.7 1325.3,259.0 1325.9,261.4 1326.4,263.7 1327.0,266.1 1327.7,268.4 1328.4,270.8 1329.1,273.1 1329.8,275.5 1330.4,277.9 1331.1,280.2 1331.8,282.6 1332.5,284.9 1333.2,287.3 1333.9,289.6 1334.6,292.0 1335.3,294.3 1335.9,296.6 1336.6,299.0 1337.3,301.3 1338.0,303.6 1338.7,305.9 1339.4,308.2 1340.1,310.5 1340.8,312.8 1341.4,315.1 1342.1,317.4 1342.7,319.7 1343.4,322.0 1344.0,324.3 1344.7,326.6 1345.3,328.8 1346.0,331.1 1346.6,333.4 1347.3,335.7 1347.9,338.0 1348.5,340.3 1349.2,342.7 1349.8,345.0 1350.5,347.3 1351.1,349.6 1351.8,352.0 1352.4,354.3 1353.1,356.6 1353.7,359.0 1354.4,361.3 1355.0,363.7 1355.7,366.0 1356.3,368.3 1357.0,370.7 1357.6,373.0 1358.1,375.4 1358.7,377.7 1359.3,380.0 1359.9,382.4 1360.5,384.7 1361.0,387.0 1361.6,389.3 1362.2,391.7 1362.8,394.0 1363.4,396.3 1363.9,398.6 1364.5,401.0 1365.1,403.3 1365.7,405.6 1366.3,407.9 1366.9,410.3 1367.4,412.6 1368.0,414.9 1368.6,417.3 1369.2,419.6 1369.8,422.0 1370.4,424.3 1370.9,426.7 1371.5,429.1 1372.1,431.4 1372.7,433.8 1373.3,436.1 1373.9,438.5 1374.4,440.9 1375.0,443.2 1375.6,445.6 1376.1,447.9 1376.7,450.3 1377.2,452.6 1377.8,455.0 1378.4,457.3 1378.9,459.7 1379.5,462.0 1380.0,464.3 1380.6,466.6 1381.2,468.9 1381.7,471.2 1382.3,473.5 1382.8,475.8 1383.4,478.1 1383.9,480.4 1384.5,482.7 1385.1,485.0 1385.6,487.3 1386.1,489.6 1386.7,491.9 1387.2,494.2 1387.8,496.5 1388.3,498.8 1388.8,501.1 1389.4,503.4 1389.9,505.7 1390.4,508.0 1391.0,510.4 1391.5,512.7 1392.1,515.0 1392.6,517.3 1393.1,519.7 1393.7,522.0 1394.2,524.3 1394.8,526.7 1395.3,529.0 1395.9,531.3 1396.4,533.7 1397.0,536.0 1397.5,538.3 1398.0,540.7 1398.6,543.0 1399.1,545.3 1399.7,547.6 1400.2,549.9 1400.8,552.2 1401.3,554.5 1401.9,556.9 1402.5,559.2 1403.0,561.5 1403.6,563.8 1404.1,566.1" fill="none" stroke="#0000ff" stroke-width="3.1" stroke-linecap="round" stroke-linejoin="round" />
<path d="M1108.4 19.7h0M1109.4 23.5h0M1111.3 27.8h0M1115.2 32.0h0M1119.6 36.3h0M1128.4 40.5h0M1139.5 44.8h0M1150.9 49.1h0M1160.9 53.3h0M1170.6 57.6h0M1180.6 61.9h0M1190.4 66.2h0M1198.2 70.5h0M1205.6 74.8h0M1211.6 79.1h0M1217.4 83.4h0M1223.1 87.7h0M1228.5 92.0h0M1233.8 96.3h0M1239.0 100.6h0M1244.0 104.9h0M1248.3 109.2h0M1252.6 113.5h0M1256.9 117.7h0M1261.0 122.0h0M1264.6 126.3h0M1268.2 130.5h0M1271.9 134.8h0M1275.5 139.0h0M1278.5 143.3h0M1281.5 147.6h0M1284.5 151.8h0M1287.4 156.1h0M1290.4 160.4h0M1293.0 164.7h0M1295.1 168.9h0M1297.2 173.2h0M1299.3 177.5h0M1301.4 181.7h0M1303.5 186.0h0M1305.6 190.3h0M1307.2 194.5h0M1308.6 198.8h0M1310.1 203.1h0M1311.5 207.3h0M1312.9 211.6h0M1314.3 215.9h0M1315.7 220.1h0M1317.0 224.4h0M1318.1 228.7h0M1319.1 233.0h0M1320.1 237.2h0M1321.1 241.5h0M1322.2 245.8h0M1323.2 250.1h0M1324.2 254.3h0M1325.2 258.6h0M1326.2 262.9h0M1327.3 267.1h0M1328.5 271.4h0M1329.8 275.7h0M1331.0 279.9h0M1332.3 284.2h0M1333.5 288.5h0M1334.8 292.7h0M1336.1 297.0h0M1337.3 301.3h0M1338.6 305.6h0M1339.9 309.8h0M1341.1 314.1h0M1342.3 318.4h0M1343.5 322.6h0M1344.7 326.9h0M1346.0 331.1h0M1347.2 335.4h0M1348.4 339.6h0M1349.6 343.9h0M1350.8 348.1h0M1352.0 352.4h0M1353.2 356.7h0M1354.4 360.9h0M1355.6 365.2h0M1356.8 369.5h0M1357.9 373.7h0M1359.0 378.0h0M1360.0 382.3h0M1361.1 386.6h0M1362.2 390.9h0M1363.2 395.2h0M1364.3 399.4h0M1365.3 403.7h0M1366.4 408.0h0M1367.4 412.3h0M1368.5 416.5h0M1369.5 420.8h0M1370.6 425.1h0M1371.6 429.4h0M1372.7 433.6h0M1373.7 437.9h0M1374.8 442.2h0M1375.8 446.4h0M1376.8 450.7h0M1377.8 454.9h0M1378.8 459.2h0M1379.9 463.5h0M1380.9 467.7h0M1381.9 472.0h0M1382.9 476.2h0M1383.9 480.5h0M1385.0 484.7h0M1385.9 489.0h0M1387.0 493.2h0M1388.0 497.5h0M1389.0 501.8h0M1390.0 506.0h0M1391.0 510.3h0M1392.0 514.6h0M1393.0 518.9h0M1394.0 523.2h0M1395.0 527.5h0M1396.1 531.7h0M1397.1 536.0h0M1398.1 540.3h0M1399.1 544.6h0M1400.2 548.8h0M1401.2 553.1h0M1402.2 557.4h0M1108.5 20.4h0M1109.4 24.7h0M1111.6 29.1h0M1115.6 33.4h0M1120.1 37.8h0M1129.8 42.1h0M1141.1 46.4h0M1152.3 50.7h0M1162.3 54.9h0M1172.0 59.1h0M1182.2 63.3h0M1191.7 67.5h0M1199.4 71.6h0M1206.6 75.7h0M1212.7 79.9h0M1218.5 84.0h0M1224.2 88.2h0M1229.6 92.4h0M1234.9 96.6h0M1240.2 100.9h0M1245.0 105.2h0M1249.3 109.6h0M1253.6 114.0h0M1257.9 118.4h0M1261.8 122.8h0M1265.5 127.1h0M1269.1 131.5h0M1272.8 135.8h0M1276.4 140.2h0M1279.4 144.5h0M1282.3 148.8h0M1285.2 153.1h0M1288.2 157.3h0M1291.1 161.6h0M1293.5 165.8h0M1295.5 170.1h0M1297.6 174.3h0M1299.7 178.5h0M1301.8 182.7h0M1303.9 186.9h0M1305.9 191.1h0M1307.4 195.3h0M1308.9 199.5h0M1310.3 203.8h0M1311.7 208.0h0M1313.1 212.3h0M1314.5 216.6h0M1315.9 220.9h0M1317.2 225.2h0M1318.3 229.5h0M1319.3 233.8h0M1320.3 238.1h0M1321.3 242.5h0M1322.3 246.8h0M1323.4 251.1h0M1324.4 255.4h0M1325.4 259.6h0M1326.5 263.9h0M1327.6 268.1h0M1328.9 272.4h0M1330.2 276.6h0M1331.4 280.8h0M1332.7 285.0h0M1333.9 289.2h0M1335.2 293.4h0M1336.4 297.7h0M1337.7 301.9h0M1338.9 306.1h0M1340.2 310.4h0M1341.4 314.7h0M1342.6 319.0h0M1343.8 323.3h0M1345.0 327.6h0M1346.2 332.0h0M1347.4 336.3h0M1348.7 340.6h0M1349.9 345.0h0M1351.1 349.3h0M1352.3 353.6h0M1353.5 357.9h0M1354.7 362.2h0M1355.9 366.5h0M1357.1 370.7h0M1358.1 375.0h0M1359.2 379.2h0M1360.3 383.4h0M1361.3 387.6h0M1362.4 391.8h0M1363.5 396.0h0M1364.5 400.2h0M1365.6 404.4h0M1366.7 408.6h0M1367.8 412.9h0M1368.8 417.1h0M1369.9 421.4h0M1370.9 425.7h0M1372.0 430.0h0M1373.0 434.3h0M1374.0 438.6h0M1375.0 442.9h0M1376.0 447.2h0M1377.0 451.6h0M1378.0 455.9h0M1379.1 460.2h0M1380.1 464.5h0M1381.1 468.8h0M1382.1 473.0h0M1383.2 477.3h0M1384.2 481.5h0M1385.2 485.7h0M1386.2 490.0h0M1387.2 494.2h0M1388.2 498.4h0M1389.2 502.6h0M1390.2 506.8h0M1391.2 511.1h0M1392.2 515.3h0M1393.2 519.6h0M1394.2 523.9h0M1395.2 528.2h0M1396.2 532.5h0M1397.3 536.8h0M1398.3 541.1h0M1399.4 545.5h0M1400.4 549.8h0M1401.4 554.1h0M1402.5 558.4h0M1403.5 562.8h0M1404.4 566.7h0M1108.0 20.8h0M1108.9 25.0h0M1111.8 29.3h0M1115.9 33.5h0M1120.9 37.8h0M1131.4 42.1h0M1142.9 46.4h0M1154.0 50.7h0M1163.9 55.0h0M1173.6 59.3h0M1183.9 63.6h0M1193.0 67.9h0M1200.6 72.2h0M1207.5 76.5h0M1213.6 80.8h0M1219.4 85.1h0M1225.1 89.4h0M1230.4 93.7h0M1235.7 98.0h0M1240.9 102.3h0M1245.5 106.6h0M1249.8 110.8h0M1254.1 115.1h0M1258.4 119.4h0M1262.2 123.6h0M1265.9 127.9h0M1269.5 132.1h0M1273.2 136.4h0M1276.6 140.7h0M1279.6 144.9h0M1282.5 149.2h0M1285.4 153.4h0M1288.4 157.7h0M1291.2 161.9h0M1293.5 166.2h0M1295.6 170.5h0M1297.7 174.7h0M1299.8 179.0h0M1301.9 183.2h0M1304.1 187.5h0M1306.1 191.7h0M1307.5 196.0h0M1309.0 200.2h0M1310.4 204.5h0M1311.8 208.8h0M1313.2 213.0h0M1314.6 217.3h0M1316.0 221.5h0M1317.3 225.8h0M1318.3 230.1h0M1319.3 234.4h0M1320.3 238.6h0M1321.3 242.9h0M1322.3 247.2h0M1323.3 251.5h0M1324.3 255.7h0M1325.3 260.0h0M1326.3 264.3h0M1327.5 268.6h0M1328.8 272.9h0M1330.1 277.1h0M1331.5 281.4h0M1332.8 285.7h0M1334.1 290.0h0M1335.4 294.2h0M1336.7 298.5h0M1338.0 302.8h0M1339.2 307.1h0M1340.5 311.4h0M1341.7 315.6h0M1342.9 319.9h0M1344.1 324.2h0M1345.3 328.5h0M1346.4 332.8h0M1347.5 337.0h0M1348.7 341.3h0M1349.8 345.6h0M1350.9 349.8h0M1352.0 354.1h0M1353.2 358.3h0M1354.4 362.6h0M1355.6 366.9h0M1356.8 371.1h0M1357.9 375.4h0M1359.1 379.6h0M1360.2 383.9h0M1361.3 388.1h0M1362.4 392.4h0M1363.5 396.7h0M1364.6 400.9h0M1365.7 405.2h0M1366.8 409.4h0M1367.9 413.7h0M1368.9 417.9h0M1370.0 422.2h0M1371.0 426.4h0M1372.0 430.7h0M1373.0 435.0h0M1374.0 439.2h0M1375.0 443.5h0M1375.9 447.7h0M1376.9 452.0h0M1377.9 456.3h0M1378.9 460.5h0M1380.0 464.8h0M1381.0 469.1h0M1382.1 473.4h0M1383.2 477.6h0M1384.2 481.9h0M1385.3 486.2h0M1386.3 490.5h0M1387.3 494.8h0M1388.3 499.1h0M1389.3 503.4h0M1390.4 507.6h0M1391.4 511.9h0M1392.4 516.2h0M1393.4 520.5h0M1394.5 524.8h0M1395.4 529.1h0M1396.4 533.3h0M1397.4 537.6h0M1398.4 541.9h0M1399.3 546.2h0M1400.3 550.4h0M1401.3 554.7h0M1402.3 559.0h0M1403.3 563.3h0M1108.5 21.8h0M1109.3 26.0h0M1112.6 30.2h0M1116.7 34.5h0M1122.6 38.7h0M1133.2 43.0h0M1144.6 47.2h0M1155.7 51.5h0M1165.5 55.8h0M1175.4 60.1h0M1185.7 64.4h0M1194.4 68.7h0M1202.0 73.0h0M1208.6 77.3h0M1214.6 81.6h0M1220.3 85.8h0M1225.9 90.1h0M1231.2 94.4h0M1236.6 98.6h0M1241.9 102.9h0M1246.4 107.1h0M1250.8 111.4h0M1255.2 115.6h0M1259.4 119.9h0M1263.1 124.2h0M1266.7 128.4h0M1270.2 132.7h0M1273.8 136.9h0M1277.1 141.2h0M1280.0 145.5h0M1282.9 149.7h0M1285.9 154.0h0M1288.8 158.3h0M1291.7 162.6h0M1294.0 166.9h0M1296.1 171.2h0M1298.1 175.5h0M1300.2 179.8h0M1302.2 184.1h0M1304.3 188.4h0M1306.1 192.7h0M1307.5 197.0h0M1308.9 201.3h0M1310.3 205.5h0M1311.8 209.8h0M1313.3 214.0h0M1314.7 218.3h0M1316.2 222.5h0M1317.5 226.8h0M1318.5 231.0h0M1319.5 235.2h0M1320.5 239.4h0M1321.5 243.7h0M1322.5 247.9h0M1323.5 252.2h0M1324.6 256.4h0M1325.7 260.7h0M1326.7 264.9h0M1328.0 269.2h0M1329.3 273.5h0M1330.6 277.8h0M1331.9 282.0h0M1333.1 286.3h0M1334.3 290.6h0M1335.5 294.9h0M1336.8 299.3h0M1338.0 303.6h0M1339.2 307.9h0M1340.5 312.1h0M1341.8 316.4h0M1343.0 320.7h0M1344.2 325.0h0M1345.4 329.3h0M1346.6 333.5h0M1347.8 337.8h0M1349.0 342.0h0M1350.1 346.3h0M1351.2 350.5h0M1352.4 354.8h0M1353.5 359.0h0M1354.7 363.2h0M1355.9 367.5h0M1357.1 371.7h0M1358.3 376.0h0M1359.4 380.2h0M1360.5 384.5h0M1361.5 388.8h0M1362.6 393.1h0M1363.6 397.3h0M1364.6 401.6h0M1365.6 405.9h0M1366.6 410.2h0M1367.7 414.5h0M1368.8 418.8h0M1369.9 423.0h0M1371.0 427.3h0M1372.1 431.6h0M1373.2 435.9h0M1374.3 440.2h0M1375.3 444.4h0M1376.3 448.7h0M1377.3 453.0h0M1378.3 457.2h0M1379.3 461.5h0M1380.3 465.7h0M1381.3 470.0h0M1382.4 474.2h0M1383.4 478.5h0M1384.5 482.7h0M1385.6 487.0h0M1386.6 491.3h0M1387.6 495.5h0M1388.6 499.8h0M1389.6 504.0h0M1390.5 508.3h0M1391.4 512.6h0M1392.4 516.8h0M1393.4 521.1h0M1394.4 525.4h0M1395.4 529.7h0M1396.5 534.0h0M1397.6 538.2h0M1398.6 542.5h0M1399.6 546.8h0M1400.6 551.1h0M1401.6 555.4h0M1402.6 559.6h0M1109.0 22.7h0M1110.2 27.1h0M1113.8 31.5h0M1118.0 35.8h0M1124.9 40.1h0M1135.6 44.4h0M1147.0 48.6h0M1157.7 52.7h0M1167.3 56.8h0M1177.2 61.0h0M1187.4 65.1h0M1195.7 69.3h0M1203.2 73.5h0M1209.7 77.8h0M1215.7 82.1h0M1221.4 86.4h0M1227.0 90.8h0M1232.4 95.1h0M1237.6 99.4h0M1242.8 103.8h0M1247.2 108.0h0M1251.5 112.3h0M1255.8 116.6h0M1259.9 120.9h0M1263.6 125.1h0M1267.2 129.4h0M1270.9 133.7h0M1274.5 138.0h0M1277.7 142.3h0M1280.6 146.6h0M1283.6 150.8h0M1286.5 155.1h0M1289.4 159.3h0M1292.2 163.5h0M1294.4 167.6h0M1296.5 171.8h0M1298.6 176.0h0M1300.7 180.3h0M1302.8 184.6h0M1304.9 188.8h0M1306.7 193.2h0M1308.1 197.5h0M1309.6 201.8h0M1311.0 206.1h0M1312.4 210.4h0M1313.8 214.7h0M1315.3 219.0h0M1316.7 223.3h0M1317.9 227.6h0M1318.9 231.9h0M1319.9 236.1h0M1321.0 240.4h0M1322.0 244.7h0M1323.0 249.0h0M1324.0 253.3h0M1325.0 257.5h0M1326.1 261.7h0M1327.1 266.0h0M1328.3 270.2h0M1329.5 274.4h0M1330.8 278.6h0M1332.0 282.8h0M1333.2 287.0h0M1334.5 291.3h0M1335.7 295.6h0M1337.0 299.9h0M1338.2 304.2h0M1339.5 308.6h0M1340.8 312.9h0M1342.0 317.2h0M1343.2 321.5h0M1344.4 325.8h0M1345.6 330.1h0M1346.8 334.3h0M1348.0 338.6h0M1349.2 342.8h0M1350.4 347.1h0M1351.7 351.3h0M1352.9 355.6h0M1354.1 359.9h0M1355.3 364.1h0M1356.5 368.3h0M1357.6 372.6h0M1358.7 376.8h0M1359.8 381.0h0M1360.8 385.2h0M1361.9 389.5h0M1363.0 393.7h0M1364.0 398.0h0M1365.1 402.3h0M1366.1 406.6h0M1367.2 411.0h0M1368.2 415.3h0M1369.3 419.7h0M1370.3 424.0h0M1371.4 428.3h0M1372.4 432.6h0M1373.5 436.8h0M1374.5 441.1h0M1375.5 445.3h0M1376.5 449.5h0M1377.6 453.8h0M1378.6 458.0h0M1379.6 462.2h0M1380.6 466.5h0M1381.7 470.8h0M1382.7 475.0h0M1383.7 479.2h0M1384.7 483.5h0M1385.7 487.7h0M1386.7 491.9h0M1387.7 496.2h0M1388.7 500.4h0M1389.7 504.7h0M1390.7 509.0h0M1391.8 513.3h0M1392.8 517.7h0M1393.8 522.0h0M1394.8 526.4h0M1395.8 530.7h0M1396.8 535.0h0M1397.8 539.3h0M1398.9 543.5h0M1399.9 547.7h0M1400.9 552.0h0M1401.9 556.2h0M1402.9 560.4h0M1108.8 22.9h0M1110.3 27.2h0M1114.0 31.5h0M1118.4 35.9h0M1126.2 40.2h0M1137.1 44.5h0M1148.5 48.8h0M1158.9 53.1h0M1168.5 57.4h0M1178.6 61.6h0M1188.7 65.9h0M1196.6 70.1h0M1204.1 74.3h0M1210.4 78.5h0M1216.4 82.8h0M1222.1 87.0h0M1227.7 91.3h0M1233.0 95.5h0M1238.3 99.8h0M1243.4 104.2h0M1247.8 108.5h0M1252.1 112.9h0M1256.5 117.2h0M1260.6 121.6h0M1264.2 125.8h0M1267.8 130.1h0M1271.5 134.4h0M1275.1 138.7h0M1278.2 142.9h0M1281.2 147.1h0M1284.1 151.4h0M1287.0 155.6h0M1289.9 159.8h0M1292.6 164.0h0M1294.7 168.2h0M1296.8 172.5h0M1298.9 176.7h0M1300.9 181.0h0M1303.0 185.2h0M1305.1 189.5h0M1306.8 193.8h0M1308.2 198.1h0M1309.6 202.4h0M1311.0 206.7h0M1312.4 211.0h0M1313.8 215.3h0M1315.2 219.6h0M1316.6 223.8h0M1317.8 228.1h0M1318.8 232.3h0M1319.8 236.6h0M1320.9 240.8h0M1321.9 245.1h0M1323.0 249.4h0M1324.0 253.6h0M1325.0 257.9h0M1326.1 262.2h0M1327.1 266.5h0M1328.4 270.9h0M1329.7 275.2h0M1330.9 279.5h0M1332.2 283.8h0M1333.4 288.1h0M1334.7 292.4h0M1336.0 296.7h0M1337.2 301.0h0M1338.5 305.2h0M1339.7 309.4h0M1341.0 313.6h0M1342.2 317.8h0M1343.4 322.0h0M1344.6 326.2h0M1345.8 330.4h0M1346.9 334.6h0M1348.1 338.9h0M1349.3 343.1h0M1350.5 347.4h0M1351.7 351.6h0M1352.9 355.9h0M1354.1 360.2h0M1355.2 364.5h0M1356.4 368.8h0M1357.6 373.1h0M1358.6 377.4h0M1359.7 381.6h0M1360.8 385.9h0M1361.8 390.2h0M1362.9 394.4h0M1364.0 398.7h0M1365.0 403.0h0M1366.1 407.2h0M1367.2 411.5h0M1368.2 415.8h0M1369.3 420.1h0M1370.4 424.4h0M1371.4 428.7h0M1372.5 433.1h0M1373.6 437.4h0M1374.6 441.7h0M1375.7 446.0h0M1376.7 450.4h0M1377.7 454.7h0M1378.7 458.9h0M1379.8 463.2h0M1380.8 467.4h0M1381.8 471.7h0M1382.8 475.9h0M1383.9 480.1h0M1384.9 484.3h0M1385.9 488.5h0M1386.9 492.7h0M1387.9 496.9h0M1388.8 501.1h0M1389.8 505.4h0M1390.8 509.6h0M1391.8 513.9h0M1392.8 518.2h0M1393.8 522.5h0M1394.8 526.7h0M1395.8 531.0h0M1396.8 535.3h0M1397.8 539.6h0M1398.8 543.8h0M1399.8 548.1h0M1400.8 552.3h0M1401.8 556.5h0M1402.8 560.8h0M1403.8 565.0h0" stroke="#0000ff" stroke-width="12.5" stroke-linecap="round" fill="none"/>
<polyline points="1113.0,19.4 1113.0,21.0 1113.2,22.5 1113.5,24.1 1114.0,25.6 1114.5,27.2 1115.5,28.7 1117.0,31.0 1120.0,34.9 1124.5,38.8 1133.0,42.7 1144.5,46.6 1158.0,50.4 1169.0,54.3 1179.0,58.2 1193.0,66.0 1203.5,73.7 1213.0,81.5 1224.0,89.2 1234.0,97.0 1265.4,116.4 1273.1,135.8 1296.2,174.6 1314.2,213.4 1325.9,252.2 1337.0,291.0 1348.2,329.8 1367.3,407.4 1386.0,485.0 1404.3,562.6 1421.8,640.2 1439.8,717.8 1456.8,795.4" fill="none" stroke="#ff0000" stroke-width="3.0" stroke-linecap="round" stroke-linejoin="round" />
<path d="M1113.0 19.4h0M1113.0 21.0h0M1113.2 22.5h0M1113.5 24.1h0M1114.0 25.6h0M1114.5 27.2h0M1115.5 28.7h0M1117.0 31.0h0M1120.0 34.9h0M1124.5 38.8h0M1133.0 42.7h0M1144.5 46.6h0M1158.0 50.4h0M1169.0 54.3h0M1179.0 58.2h0M1193.0 66.0h0M1203.5 73.7h0M1213.0 81.5h0M1224.0 89.2h0M1234.0 97.0h0M1265.4 116.4h0M1273.1 135.8h0M1296.2 174.6h0M1314.2 213.4h0M1325.9 252.2h0M1337.0 291.0h0M1348.2 329.8h0M1367.3 407.4h0M1386.0 485.0h0M1404.3 562.6h0M1421.8 640.2h0M1439.8 717.8h0M1456.8 795.4h0" stroke="#ff0000" stroke-width="12.5" stroke-linecap="round" fill="none"/>
<polyline points="1128.5,19.4 1129.5,21.0 1131.0,22.5 1133.0,24.1 1135.0,25.6 1137.0,27.2 1139.0,28.7 1141.5,31.0 1143.0,34.9 1144.5,38.8 1146.0,42.7 1148.0,46.6 1154.0,50.4 1162.5,54.3 1172.0,58.2 1190.0,66.0 1205.5,73.7 1215.5,81.5 1225.5,89.2 1235.0,97.0 1263.7,116.4 1276.5,135.8 1299.7,174.6 1313.4,213.4 1324.9,252.2 1336.0,291.0 1347.2,329.8 1366.5,407.4 1385.2,485.0 1403.5,562.6 1421.2,640.2 1439.3,717.8 1456.3,795.4" fill="none" stroke="#008000" stroke-width="3.9" stroke-linecap="round" stroke-linejoin="round" />
<path d="M1128.5 19.4h0M1129.5 21.0h0M1131.0 22.5h0M1133.0 24.1h0M1135.0 25.6h0M1137.0 27.2h0M1139.0 28.7h0M1141.5 31.0h0M1143.0 34.9h0M1144.5 38.8h0M1146.0 42.7h0M1148.0 46.6h0M1154.0 50.4h0M1162.5 54.3h0M1172.0 58.2h0M1190.0 66.0h0M1205.5 73.7h0M1215.5 81.5h0M1225.5 89.2h0M1235.0 97.0h0M1263.7 116.4h0M1276.5 135.8h0M1299.7 174.6h0M1313.4 213.4h0M1324.9 252.2h0M1336.0 291.0h0M1347.2 329.8h0M1366.5 407.4h0M1385.2 485.0h0M1403.5 562.6h0M1421.2 640.2h0M1439.3 717.8h0M1456.3 795.4h0" stroke="#008000" stroke-width="12.5" stroke-linecap="round" fill="none"/>
<polyline points="1115.0,19.8 1115.5,20.6 1116.0,21.5 1116.8,22.4 1117.8,23.3 1119.0,24.4 1120.5,25.6 1122.5,26.8 1125.0,28.3 1128.0,29.9 1131.5,31.7 1135.0,33.8 1138.5,36.2 1142.5,39.0 1147.5,42.2 1158.5,46.1 1170.5,50.7 1183.4,56.2 1197.4,62.7 1210.5,70.5 1223.3,79.8 1236.4,91.0 1248.0,104.5 1262.5,120.8 1279.4,140.3 1294.5,163.8 1307.4,192.0 1317.7,225.8 1327.6,266.3 1341.7,314.4 1357.7,371.7 1374.4,439.3 1393.4,518.8 1415.1,611.7 1439.3,719.6" fill="none" stroke="#ff00ff" stroke-width="3.1" stroke-linecap="round" stroke-linejoin="round" />
<path d="M1115.0 19.8h0M1115.5 20.6h0M1116.0 21.5h0M1116.8 22.4h0M1117.8 23.3h0M1119.0 24.4h0M1120.5 25.6h0M1122.5 26.8h0M1125.0 28.3h0M1128.0 29.9h0M1131.5 31.7h0M1135.0 33.8h0M1138.5 36.2h0M1142.5 39.0h0M1147.5 42.2h0M1158.5 46.1h0M1170.5 50.7h0M1183.4 56.2h0M1197.4 62.7h0M1210.5 70.5h0M1223.3 79.8h0M1236.4 91.0h0M1248.0 104.5h0M1262.5 120.8h0M1279.4 140.3h0M1294.5 163.8h0M1307.4 192.0h0M1317.7 225.8h0M1327.6 266.3h0M1341.7 314.4h0M1357.7 371.7h0M1374.4 439.3h0M1393.4 518.8h0M1415.1 611.7h0M1439.3 719.6h0" stroke="#ff00ff" stroke-width="12.5" stroke-linecap="round" fill="none"/>
</g>
<rect x="99.5" y="19.4" width="381.0" height="784.1" fill="none" stroke="#000" stroke-width="1.67"/>
<path d="M102.5 803.5v6.2M175.5 803.5v6.2M248.4 803.5v6.2M321.4 803.5v6.2M394.3 803.5v6.2M467.3 803.5v6.2M99.5 19.4h-6.2M99.5 97.0h-6.2M99.5 174.6h-6.2M99.5 252.2h-6.2M99.5 329.8h-6.2M99.5 407.4h-6.2M99.5 485.0h-6.2M99.5 562.6h-6.2M99.5 640.2h-6.2M99.5 717.8h-6.2M99.5 795.4h-6.2" stroke="#000" stroke-width="1.67" fill="none"/>
<text x="102.50" y="830.00" font-size="17.50" text-anchor="middle" fill="#000" textLength="10.61" lengthAdjust="spacingAndGlyphs" >5</text>
<text x="175.50" y="830.00" font-size="17.50" text-anchor="middle" fill="#000" textLength="21.21" lengthAdjust="spacingAndGlyphs" >10</text>
<text x="248.40" y="830.00" font-size="17.50" text-anchor="middle" fill="#000" textLength="21.21" lengthAdjust="spacingAndGlyphs" >15</text>
<text x="321.40" y="830.00" font-size="17.50" text-anchor="middle" fill="#000" textLength="21.21" lengthAdjust="spacingAndGlyphs" >20</text>
<text x="394.30" y="830.00" font-size="17.50" text-anchor="middle" fill="#000" textLength="21.21" lengthAdjust="spacingAndGlyphs" >25</text>
<text x="467.30" y="830.00" font-size="17.50" text-anchor="middle" fill="#000" textLength="21.21" lengthAdjust="spacingAndGlyphs" >30</text>
<text x="84.90" y="25.60" font-size="17.50" text-anchor="end" fill="#000" textLength="10.61" lengthAdjust="spacingAndGlyphs" >0</text>
<text x="84.90" y="103.20" font-size="17.50" text-anchor="end" fill="#000" textLength="31.82" lengthAdjust="spacingAndGlyphs" >100</text>
<text x="84.90" y="180.80" font-size="17.50" text-anchor="end" fill="#000" textLength="31.82" lengthAdjust="spacingAndGlyphs" >200</text>
<text x="84.90" y="258.40" font-size="17.50" text-anchor="end" fill="#000" textLength="31.82" lengthAdjust="spacingAndGlyphs" >300</text>
<text x="84.90" y="336.00" font-size="17.50" text-anchor="end" fill="#000" textLength="31.82" lengthAdjust="spacingAndGlyphs" >400</text>
<text x="84.90" y="413.60" font-size="17.50" text-anchor="end" fill="#000" textLength="31.82" lengthAdjust="spacingAndGlyphs" >500</text>
<text x="84.90" y="491.20" font-size="17.50" text-anchor="end" fill="#000" textLength="31.82" lengthAdjust="spacingAndGlyphs" >600</text>
<text x="84.90" y="568.80" font-size="17.50" text-anchor="end" fill="#000" textLength="31.82" lengthAdjust="spacingAndGlyphs" >700</text>
<text x="84.90" y="646.40" font-size="17.50" text-anchor="end" fill="#000" textLength="31.82" lengthAdjust="spacingAndGlyphs" >800</text>
<text x="84.90" y="724.00" font-size="17.50" text-anchor="end" fill="#000" textLength="31.82" lengthAdjust="spacingAndGlyphs" >900</text>
<text x="84.90" y="801.60" font-size="17.50" text-anchor="end" fill="#000" textLength="42.42" lengthAdjust="spacingAndGlyphs" >1000</text>
<rect x="594.6" y="19.4" width="381.1" height="784.1" fill="none" stroke="#000" stroke-width="1.67"/>
<path d="M657.5 803.5v6.2M750.1 803.5v6.2M842.8 803.5v6.2M935.4 803.5v6.2M594.6 19.4h-6.2M594.6 97.0h-6.2M594.6 174.6h-6.2M594.6 252.2h-6.2M594.6 329.8h-6.2M594.6 407.4h-6.2M594.6 485.0h-6.2M594.6 562.6h-6.2M594.6 640.2h-6.2M594.6 717.8h-6.2M594.6 795.4h-6.2" stroke="#000" stroke-width="1.67" fill="none"/>
<text x="657.50" y="830.00" font-size="17.50" text-anchor="middle" fill="#000" textLength="21.21" lengthAdjust="spacingAndGlyphs" >34</text>
<text x="750.10" y="830.00" font-size="17.50" text-anchor="middle" fill="#000" textLength="21.21" lengthAdjust="spacingAndGlyphs" >35</text>
<text x="842.80" y="830.00" font-size="17.50" text-anchor="middle" fill="#000" textLength="21.21" lengthAdjust="spacingAndGlyphs" >36</text>
<text x="935.40" y="830.00" font-size="17.50" text-anchor="middle" fill="#000" textLength="21.21" lengthAdjust="spacingAndGlyphs" >37</text>
<rect x="1089.6" y="19.4" width="381.9" height="784.1" fill="none" stroke="#000" stroke-width="1.67"/>
<path d="M1149.3 803.5v6.2M1209.7 803.5v6.2M1270.2 803.5v6.2M1330.6 803.5v6.2M1391.1 803.5v6.2M1451.5 803.5v6.2M1089.6 19.4h-6.2M1089.6 97.0h-6.2M1089.6 174.6h-6.2M1089.6 252.2h-6.2M1089.6 329.8h-6.2M1089.6 407.4h-6.2M1089.6 485.0h-6.2M1089.6 562.6h-6.2M1089.6 640.2h-6.2M1089.6 717.8h-6.2M1089.6 795.4h-6.2" stroke="#000" stroke-width="1.67" fill="none"/>
<text x="1148.40" y="844.30" font-size="17.50" text-anchor="middle" fill="#000" textLength="42.42" lengthAdjust="spacingAndGlyphs" transform="rotate(-45 1148.40 838.20)" >1022</text>
<text x="1208.80" y="844.30" font-size="17.50" text-anchor="middle" fill="#000" textLength="42.42" lengthAdjust="spacingAndGlyphs" transform="rotate(-45 1208.80 838.20)" >1024</text>
<text x="1269.30" y="844.30" font-size="17.50" text-anchor="middle" fill="#000" textLength="42.42" lengthAdjust="spacingAndGlyphs" transform="rotate(-45 1269.30 838.20)" >1026</text>
<text x="1329.70" y="844.30" font-size="17.50" text-anchor="middle" fill="#000" textLength="42.42" lengthAdjust="spacingAndGlyphs" transform="rotate(-45 1329.70 838.20)" >1028</text>
<text x="1390.20" y="844.30" font-size="17.50" text-anchor="middle" fill="#000" textLength="42.42" lengthAdjust="spacingAndGlyphs" transform="rotate(-45 1390.20 838.20)" >1030</text>
<text x="1450.60" y="844.30" font-size="17.50" text-anchor="middle" fill="#000" textLength="42.42" lengthAdjust="spacingAndGlyphs" transform="rotate(-45 1450.60 838.20)" >1032</text>
<text x="29.30" y="412.30" font-size="23.52" text-anchor="middle" fill="#000" font-weight="bold" textLength="128.09" lengthAdjust="spacingAndGlyphs" transform="rotate(-90 29.30 412.30)" >Depth (m)</text>
<text x="180.30" y="859.60" font-size="23.52" text-anchor="start" fill="#000" font-weight="bold" textLength="179.16" lengthAdjust="spacingAndGlyphs" >Temperature (</text>
<text x="363.00" y="851.40" font-size="16.46" text-anchor="start" fill="#000" font-style="italic" >o</text>
<text x="373.80" y="859.60" font-size="23.52" text-anchor="start" fill="#000" font-style="italic" textLength="15.64" lengthAdjust="spacingAndGlyphs" >C</text>
<text x="390.20" y="859.60" font-size="23.52" text-anchor="start" fill="#000" font-weight="bold" textLength="10.24" lengthAdjust="spacingAndGlyphs" >)</text>
<text x="737.30" y="859.90" font-size="23.52" text-anchor="start" fill="#000" font-weight="bold" textLength="95.53" lengthAdjust="spacingAndGlyphs" >Salinity</text>
<text x="1173.80" y="885.50" font-size="23.52" text-anchor="start" fill="#000" font-weight="bold" textLength="211.28" lengthAdjust="spacingAndGlyphs" >Density (kg m-3)</text>
<text x="239.50" y="917.70" font-size="18.17" text-anchor="start" fill="#000" font-style="italic" textLength="1096.58" lengthAdjust="spacingAndGlyphs" style="white-space:pre">Ocean Heat Content (kJ/cm^2) - Glider: 108.3562,  RTOFS: 104.2193,  ESPC: 101.4681,  CMEMS: 99.0342,  NESDIS: 136.9799,</text>
<text x="1546.70" y="37.00" font-size="23.62" text-anchor="start" fill="#000" font-weight="bold" textLength="378.84" lengthAdjust="spacingAndGlyphs" >Comparison Date: 2025-10-08</text>
<text x="1546.70" y="90.00" font-size="23.62" text-anchor="start" fill="#000" font-weight="bold" textLength="174.82" lengthAdjust="spacingAndGlyphs" >Glider: SG678</text>
<text x="1546.70" y="116.50" font-size="23.62" text-anchor="start" fill="#000" font-weight="bold" textLength="144.23" lengthAdjust="spacingAndGlyphs" >Profiles: 12</text>
<text x="1546.70" y="143.00" font-size="23.62" text-anchor="start" fill="#000" font-weight="bold" textLength="338.84" lengthAdjust="spacingAndGlyphs" >First: 2025-10-08 01:12:34</text>
<text x="1546.70" y="169.50" font-size="23.62" text-anchor="start" fill="#000" font-weight="bold" textLength="334.18" lengthAdjust="spacingAndGlyphs" >Last: 2025-10-08 23:12:21</text>
<text x="1546.70" y="196.00" font-size="23.62" text-anchor="start" fill="#000" font-weight="bold" textLength="338.53" lengthAdjust="spacingAndGlyphs" >Method: Nearest-Neighbor</text>
<defs><clipPath id="mapclip"><rect x="1583.9" y="306.2" width="382.8" height="209.7"/></clipPath></defs>
<rect x="1583.9" y="306.2" width="382.8" height="209.7" fill="#97b6e1"/>
<g clip-path="url(#mapclip)">
<polygon points="1580.0,333.3 1584.0,333.0 1589.6,331.8 1595.6,330.9 1601.6,331.4 1607.6,330.6 1611.4,332.1 1612.9,335.7 1610.9,340.5 1607.3,345.3 1604.9,350.4 1603.5,355.4 1602.8,361.2 1601.6,367.1 1599.8,373.1 1598.0,379.1 1596.8,386.3 1594.4,393.5 1591.0,398.6 1586.6,401.9 1585.0,404.1 1587.4,406.5 1591.0,407.9 1595.6,405.8 1601.6,404.6 1610.0,405.8 1619.6,403.4 1628.0,404.3 1636.4,405.5 1643.5,407.0 1648.3,409.7 1651.9,412.0 1644.7,409.2 1649.5,411.6 1654.3,415.2 1655.8,420.0 1654.0,424.8 1652.7,432.0 1651.9,439.2 1651.3,444.0 1649.5,448.8 1648.3,456.0 1647.6,460.8 1648.3,464.4 1650.7,468.0 1653.1,472.7 1656.7,477.5 1661.5,482.3 1666.3,485.9 1672.3,490.1 1677.1,492.7 1683.1,492.7 1687.9,490.3 1693.9,487.4 1698.7,483.8 1702.3,482.6 1710.7,484.1 1717.9,487.1 1723.9,491.9 1728.7,496.7 1732.5,497.7 1734.7,494.3 1739.5,491.9 1744.3,487.1 1747.9,483.5 1749.1,477.5 1751.5,472.7 1755.1,468.0 1758.7,464.4 1763.5,467.0 1765.9,463.2 1771.8,461.5 1780.0,460.3 1770.0,462.7 1774.8,463.2 1779.6,460.8 1784.4,457.2 1789.2,455.4 1791.6,451.2 1796.4,448.2 1802.4,449.4 1805.0,452.4 1801.8,455.5 1796.6,457.2 1794.2,459.8 1795.9,464.4 1798.5,467.0 1803.6,465.1 1809.6,462.7 1815.6,460.9 1821.6,460.3 1827.6,459.7 1833.5,461.5 1838.3,465.1 1840.3,470.4 1844.3,472.3 1853.9,471.1 1862.3,470.5 1865.9,471.1 1869.5,475.1 1874.3,477.1 1879.1,477.7 1883.9,475.9 1888.7,472.9 1892.3,470.5 1897.1,470.4 1905.5,469.9 1913.9,469.3 1922.9,468.3 1923.2,470.6 1913.9,471.5 1906.7,472.3 1909.1,476.3 1912.7,479.5 1917.5,479.0 1922.3,480.2 1927.1,483.8 1930.7,487.9 1931.4,494.3 1935.5,495.6 1940.3,496.8 1946.3,500.3 1952.3,503.9 1957.1,507.5 1960.2,511.4 1960.9,517.1 1725.1,517.1 1723.9,515.4 1720.3,512.3 1716.7,508.7 1715.5,503.9 1717.9,501.5 1715.5,497.9 1711.9,494.3 1705.9,491.0 1701.1,491.0 1698.7,494.6 1693.9,498.2 1689.4,500.6 1691.8,504.2 1695.3,507.8 1691.8,511.4 1687.0,513.2 1684.6,511.4 1683.4,505.4 1679.8,509.0 1675.0,509.0 1673.8,504.2 1669.0,501.8 1664.2,500.0 1659.4,500.6 1654.6,497.6 1651.0,494.6 1648.6,489.8 1643.8,486.2 1639.0,482.0 1635.4,480.2 1633.0,483.2 1629.4,480.2 1624.6,477.8 1623.4,473.0 1625.2,468.2 1623.4,464.6 1618.6,459.8 1613.8,453.8 1609.0,447.8 1604.2,443.0 1601.6,439.4 1599.2,438.7 1592.0,438.1 1584.0,436.9 1580.0,436.8" fill="#d2b48c" stroke="#000" stroke-width="2.3" stroke-linejoin="round" />
<polygon points="1798.5,467.5 1798.3,472.7 1801.2,476.3 1804.8,479.9 1805.5,485.9 1802.4,489.8 1797.8,490.4 1795.9,486.2 1792.3,480.7 1795.2,477.1 1797.8,472.7" fill="#97b6e1" stroke="#000" stroke-width="2.3" stroke-linejoin="round" />
<polygon points="1815.2,460.3 1814.8,456.0 1816.3,452.4 1819.2,451.2 1821.6,454.3 1821.6,458.6 1820.6,460.3" fill="#d2b48c" stroke="#000" stroke-width="2.3" stroke-linejoin="round" />
<polygon points="1924.0,469.2 1930.2,467.7 1929.7,476.6 1924.7,477.8 1919.4,478.7 1924.0,475.1" fill="#d2b48c" stroke="#000" stroke-width="2.3" stroke-linejoin="round" />
<polygon points="1622.7,454.3 1628.0,456.0 1635.4,463.4 1632.8,464.4 1625.6,460.8 1623.2,457.2" fill="#b6bdc4" stroke="#a9c3e6" stroke-width="1.0" stroke-linejoin="round" />
<polyline points="1614.8,448.8 1619.6,450.2 1623.2,454.3" fill="none" stroke="#a9c3e6" stroke-width="1.4" stroke-linecap="round" stroke-linejoin="round"/>
<polyline points="1632.8,420.0 1637.6,420.9 1642.4,419.5 1648.3,417.6 1654.3,415.9" fill="none" stroke="#9db9e3" stroke-width="1.4" stroke-linecap="round" stroke-linejoin="round"/>
<polyline points="1613.6,433.8 1618.4,435.3 1623.2,433.8 1624.6,431.5" fill="none" stroke="#9db9e3" stroke-width="1.4" stroke-linecap="round" stroke-linejoin="round"/>
<polyline points="1635.4,463.4 1642.4,465.6 1648.3,469.2" fill="none" stroke="#9db9e3" stroke-width="1.2" stroke-linecap="round" stroke-linejoin="round"/>
<polyline points="1758.7,465.0 1757.9,470.4 1758.2,475.1 1759.9,484.7 1764.7,488.1 1769.4,490.7 1771.8,496.7 1771.4,506.3 1770.6,515.9" fill="none" stroke="#9db9e3" stroke-width="1.6" stroke-linecap="round" stroke-linejoin="round"/>
<polyline points="1695.1,486.5 1698.1,488.9 1701.1,491.3" fill="none" stroke="#9db9e3" stroke-width="1.4" stroke-linecap="round" stroke-linejoin="round"/>
<polyline points="1853.9,515.3 1861.1,508.7 1871.9,504.5 1881.5,507.0 1886.3,503.4 1892.3,503.4 1901.9,499.8 1911.5,496.8 1916.3,493.9 1923.5,494.5 1927.8,491.9" fill="none" stroke="#9db9e3" stroke-width="1.6" stroke-linecap="round" stroke-linejoin="round"/>
<polyline points="1912.2,481.1 1912.0,485.9 1915.7,490.1 1916.3,493.9" fill="none" stroke="#9db9e3" stroke-width="1.4" stroke-linecap="round" stroke-linejoin="round"/>
<polyline points="1919.9,483.5 1918.2,487.7 1915.7,490.1" fill="none" stroke="#9db9e3" stroke-width="1.4" stroke-linecap="round" stroke-linejoin="round"/>
<polyline points="1770.5,491.9 1771.4,499.1 1770.7,511.1" fill="none" stroke="#9db9e3" stroke-width="1.6" stroke-linecap="round" stroke-linejoin="round"/>
<polyline points="1654.3,415.9 1647.1,418.3 1640.0,420.7 1635.2,418.3 1631.6,422.4 1628.0,427.2 1622.0,429.8 1617.2,432.2 1612.4,433.9 1611.7,436.3 1607.8,439.4 1604.0,439.9" fill="none" stroke="#000" stroke-width="1.7" stroke-linecap="butt" stroke-linejoin="round" stroke-dasharray="5 2.6"/>
<polyline points="1584.0,425.0 1588.4,427.8 1592.0,429.6 1596.8,430.1 1600.6,430.3" fill="none" stroke="#000" stroke-width="1.7" stroke-linecap="butt" stroke-linejoin="round" stroke-dasharray="5 2.6"/>
<polyline points="1584.0,411.8 1588.4,410.4 1592.6,408.2" fill="none" stroke="#000" stroke-width="1.7" stroke-linecap="butt" stroke-linejoin="round" stroke-dasharray="5 2.6"/>
<polyline points="1601.1,430.8 1598.0,435.6 1599.8,438.7" fill="none" stroke="#000" stroke-width="1.7" stroke-linecap="butt" stroke-linejoin="round" stroke-dasharray="5 2.6"/>
<polyline points="1626.8,464.4 1634.0,465.6 1642.4,467.5 1648.3,469.2" fill="none" stroke="#000" stroke-width="1.7" stroke-linecap="butt" stroke-linejoin="round" stroke-dasharray="5 2.6"/>
<polyline points="1660.6,483.5 1659.1,488.3 1661.5,490.7 1659.6,494.6" fill="none" stroke="#000" stroke-width="1.7" stroke-linecap="butt" stroke-linejoin="round" stroke-dasharray="5 2.6"/>
<polyline points="1730.1,501.5 1727.5,505.1 1723.9,507.8 1722.7,510.2" fill="none" stroke="#000" stroke-width="1.7" stroke-linecap="butt" stroke-linejoin="round" stroke-dasharray="5 2.6"/>
<polyline points="1776.6,488.1 1780.0,484.7" fill="none" stroke="#000" stroke-width="1.7" stroke-linecap="butt" stroke-linejoin="round" stroke-dasharray="5 2.6"/>
<polyline points="1791.8,460.8 1784.4,468.0 1781.5,476.3 1779.1,484.7 1776.5,487.9" fill="none" stroke="#000" stroke-width="1.7" stroke-linecap="butt" stroke-linejoin="round" stroke-dasharray="5 2.6"/>
<polyline points="1779.1,486.7 1784.4,490.7 1788.0,497.4 1789.2,502.7 1788.0,508.7 1792.3,513.0 1797.6,514.7 1809.6,514.2 1818.0,515.9" fill="none" stroke="#000" stroke-width="1.7" stroke-linecap="butt" stroke-linejoin="round" stroke-dasharray="5 2.6"/>
<polyline points="1942.7,500.3 1937.9,503.9 1933.8,507.5 1933.1,512.3 1936.2,515.4" fill="none" stroke="#000" stroke-width="1.7" stroke-linecap="butt" stroke-linejoin="round" stroke-dasharray="5 2.6"/>
<polyline points="1602.8,352.8 1600.6,360.0 1599.2,367.1 1596.8,371.9 1595.3,379.1 1594.1,386.3" fill="none" stroke="#000" stroke-width="3.0" stroke-linecap="round" stroke-linejoin="round"/>
<polyline points="1595.8,367.1 1592.0,371.9 1588.4,375.8" fill="none" stroke="#000" stroke-width="2.2" stroke-linecap="round" stroke-linejoin="round"/>
<polyline points="1599.2,436.2 1602.2,439.4 1604.6,437.7" fill="none" stroke="#000" stroke-width="4.0" stroke-linecap="round" stroke-linejoin="round"/>
<polyline points="1650.7,444.0 1649.5,448.2" fill="none" stroke="#000" stroke-width="3.5" stroke-linecap="round" stroke-linejoin="round"/>
<polyline points="1630.4,475.7 1636.4,479.9" fill="none" stroke="#000" stroke-width="3.5" stroke-linecap="round" stroke-linejoin="round"/>
<polyline points="1665.4,484.7 1671.1,489.8" fill="none" stroke="#000" stroke-width="4.0" stroke-linecap="round" stroke-linejoin="round"/>
<polyline points="1651.9,494.3 1657.9,497.9 1663.9,500.1 1671.1,502.7 1674.7,509.0" fill="none" stroke="#000" stroke-width="3.0" stroke-linecap="round" stroke-linejoin="round"/>
<polyline points="1715.5,497.7 1719.7,499.1" fill="none" stroke="#000" stroke-width="3.5" stroke-linecap="round" stroke-linejoin="round"/>
<polyline points="1733.5,499.1 1734.7,503.3" fill="none" stroke="#000" stroke-width="3.8" stroke-linecap="round" stroke-linejoin="round"/>
<polyline points="1747.9,475.1 1749.7,478.7" fill="none" stroke="#000" stroke-width="2.6" stroke-linecap="round" stroke-linejoin="round"/>
<polyline points="1762.3,466.3 1765.3,468.0" fill="none" stroke="#000" stroke-width="3.4" stroke-linecap="round" stroke-linejoin="round"/>
<polyline points="1888.1,466.8 1893.5,465.3 1891.1,468.0 1894.7,470.4" fill="none" stroke="#000" stroke-width="4.2" stroke-linecap="round" stroke-linejoin="round"/>
<polyline points="1907.9,474.7 1912.7,478.7" fill="none" stroke="#000" stroke-width="3.0" stroke-linecap="round" stroke-linejoin="round"/>
<polyline points="1930.7,489.5 1931.9,494.9" fill="none" stroke="#000" stroke-width="3.6" stroke-linecap="round" stroke-linejoin="round"/>
<polyline points="1797.8,466.3 1798.8,470.4" fill="none" stroke="#000" stroke-width="3.2" stroke-linecap="round" stroke-linejoin="round"/>
<polygon points="1634.0,327.0 1640.0,324.0 1641.2,319.8 1647.1,315.6 1656.7,312.0 1666.3,310.2 1675.9,309.6 1684.3,308.6 1692.7,309.8 1699.9,313.4 1707.1,317.0 1715.5,318.2 1722.7,321.8 1727.5,326.6 1733.5,332.0 1740.7,335.0 1747.9,337.4 1750.3,339.6 1746.7,341.4 1752.7,342.0 1759.9,343.8 1764.7,346.8 1767.8,348.7 1765.3,350.5 1759.9,351.7 1755.1,352.3 1747.9,351.7 1739.5,352.3 1731.1,352.9 1723.3,354.1 1722.7,352.8 1726.3,349.2 1729.9,345.0 1728.7,342.6 1722.7,341.4 1717.9,338.4 1714.3,334.8 1711.9,331.2 1707.1,330.0 1701.1,329.4 1695.1,327.0 1689.1,324.0 1681.9,323.4 1675.9,322.2 1672.3,321.0 1674.7,318.6 1672.3,317.4 1666.3,316.8 1661.5,316.2 1656.7,318.0 1650.7,320.4 1644.7,323.4 1642.4,325.8 1638.8,328.2 1634.6,328.3" fill="#d2b48c" stroke="#000" stroke-width="2.3" stroke-linejoin="round" />
<polyline points="1684.3,308.9 1692.7,310.3 1699.9,313.9 1707.1,317.5 1715.5,318.9 1722.1,322.5 1726.9,327.1" fill="none" stroke="#000" stroke-width="4.6" stroke-linecap="round" stroke-linejoin="round"/>
<polyline points="1726.9,327.1 1733.5,332.1 1740.7,335.3" fill="none" stroke="#000" stroke-width="2.6" stroke-linecap="round" stroke-linejoin="round"/>
<polyline points="1634.0,327.3 1640.6,324.6" fill="none" stroke="#000" stroke-width="3.6" stroke-linecap="round" stroke-linejoin="round"/>
<polygon points="1655.5,328.8 1659.1,327.1 1662.7,329.4 1661.5,331.8 1657.9,333.0 1655.5,331.2" fill="#d2b48c" stroke="#000" stroke-width="2.3" stroke-linejoin="round" />
<polyline points="1656.7,323.5 1660.1,322.1 1662.7,325.4 1666.3,328.5" fill="none" stroke="#000" stroke-width="2.4" stroke-linecap="round" stroke-linejoin="round"/>
<polyline points="1650.1,325.4 1654.3,326.4" fill="none" stroke="#000" stroke-width="2.0" stroke-linecap="round" stroke-linejoin="round"/>
<polyline points="1663.9,330.6 1671.1,330.0 1678.3,329.3 1681.9,330.0" fill="none" stroke="#000" stroke-width="2.4" stroke-linecap="round" stroke-linejoin="round"/>
<polyline points="1671.1,325.9 1675.9,326.6" fill="none" stroke="#000" stroke-width="1.6" stroke-linecap="round" stroke-linejoin="round"/>
<polyline points="1701.3,336.7 1709.5,340.8 1717.9,344.4 1725.3,346.3" fill="none" stroke="#000" stroke-width="2.6" stroke-linecap="round" stroke-linejoin="round"/>
<polyline points="1707.1,336.0 1711.9,338.6" fill="none" stroke="#000" stroke-width="1.8" stroke-linecap="round" stroke-linejoin="round"/>
<polygon points="1714.9,373.1 1719.1,371.5 1726.3,370.7 1734.7,372.7 1739.5,375.1 1742.6,377.9 1739.5,379.3 1734.7,379.9 1729.9,381.4 1723.9,379.3 1719.1,376.3 1715.5,375.1" fill="#d2b48c" stroke="#000" stroke-width="2.3" stroke-linejoin="round" />
<polygon points="1775.4,354.6 1779.6,352.3 1783.8,350.5 1788.0,352.3 1794.0,354.1 1798.8,352.9 1806.0,352.3 1812.0,354.7 1818.0,356.5 1821.6,360.0 1826.4,360.0 1830.0,363.5 1834.7,366.7 1839.1,369.7 1838.5,372.7 1835.3,375.7 1831.2,373.9 1824.0,373.3 1818.0,373.9 1812.0,375.1 1808.4,373.3 1804.8,376.9 1801.8,381.7 1798.8,383.5 1797.0,379.3 1794.0,374.5 1788.0,373.9 1782.0,375.1 1776.0,376.3 1770.0,376.9 1765.2,375.7 1762.8,372.9 1764.2,370.0 1767.6,368.9 1770.0,369.5 1777.2,370.3 1784.4,371.5 1789.2,369.7 1786.8,367.3 1785.6,362.5 1784.4,358.3 1780.8,356.5 1776.6,356.5" fill="#d2b48c" stroke="#000" stroke-width="2.3" stroke-linejoin="round" />
<polyline points="1821.6,360.6 1827.0,360.3 1828.8,362.9" fill="none" stroke="#000" stroke-width="4.0" stroke-linecap="round" stroke-linejoin="round"/>
<polyline points="1797.0,354.7 1796.1,360.0 1796.6,364.7 1795.4,369.5 1798.8,372.2" fill="none" stroke="#000" stroke-width="1.7" stroke-linecap="butt" stroke-linejoin="round" stroke-dasharray="5 2.6"/>
<ellipse cx="1781.0" cy="366.7" rx="4.2" ry="1.9" fill="#000" transform="rotate(25 1781.0 366.7)"/>
<polygon points="1852.1,372.1 1859.9,371.1 1870.7,372.1 1872.6,373.9 1870.7,377.5 1864.7,378.7 1852.7,378.1 1852.0,374.5" fill="#d2b48c" stroke="#000" stroke-width="2.3" stroke-linejoin="round" />
<ellipse cx="1874.6" cy="374.8" rx="1.9" ry="2.6" fill="#000"/>
<polyline points="1877.9,373.4 1882.7,372.2 1888.1,371.2" fill="none" stroke="#000" stroke-width="3.4" stroke-linecap="round" stroke-linejoin="round"/>
<ellipse cx="1888.1" cy="368.2" rx="1.6" ry="1.3" fill="#000"/>
<ellipse cx="1882.7" cy="381.1" rx="3.1" ry="1.6" fill="#000" transform="rotate(-8 1882.7 381.1)"/>
<ellipse cx="1844.1" cy="376.3" rx="1.5" ry="1.5" fill="#000"/>
<ellipse cx="1898.9" cy="369.7" rx="1.0" ry="0.8" fill="#55688a"/>
<ellipse cx="1903.3" cy="374.6" rx="2.6" ry="1.7" fill="#000" transform="rotate(40 1903.3 374.6)"/>
<ellipse cx="1906.2" cy="378.2" rx="1.8" ry="1.6" fill="#000"/>
<ellipse cx="1918.7" cy="382.3" rx="2.0" ry="2.2" fill="#000"/>
<ellipse cx="1919.4" cy="389.4" rx="2.3" ry="2.0" fill="#000"/>
<ellipse cx="1901.4" cy="382.3" rx="1.0" ry="1.0" fill="#4a5d7e"/>
<polyline points="1904.3,384.2 1910.0,389.2" fill="none" stroke="#000" stroke-width="2.2" stroke-linecap="round" stroke-linejoin="round"/>
<ellipse cx="1914.2" cy="393.5" rx="1.5" ry="1.9" fill="#000"/>
<polyline points="1919.9,398.3 1924.7,397.7 1928.9,398.9" fill="none" stroke="#000" stroke-width="3.0" stroke-linecap="round" stroke-linejoin="round"/>
<polyline points="1919.9,399.5 1921.3,404.3" fill="none" stroke="#000" stroke-width="3.4" stroke-linecap="round" stroke-linejoin="round"/>
<ellipse cx="1925.6" cy="403.8" rx="1.6" ry="1.6" fill="#000"/>
<ellipse cx="1924.7" cy="410.6" rx="2.0" ry="3.4" fill="#000" transform="rotate(-15 1924.7 410.6)"/>
<ellipse cx="1929.0" cy="420.2" rx="2.9" ry="4.2" fill="#000" transform="rotate(-20 1929.0 420.2)"/>
<ellipse cx="1929.5" cy="429.6" rx="2.4" ry="3.6" fill="#000" transform="rotate(10 1929.5 429.6)"/>
<ellipse cx="1926.6" cy="438.2" rx="2.0" ry="3.0" fill="#000" transform="rotate(10 1926.6 438.2)"/>
<polyline points="1925.9,442.8 1922.9,448.8 1919.9,453.3" fill="none" stroke="#000" stroke-width="2.8" stroke-linecap="round" stroke-linejoin="round"/>
<ellipse cx="1947.0" cy="438.7" rx="2.2" ry="2.6" fill="#000" transform="rotate(-30 1947.0 438.7)"/>
<ellipse cx="1933.1" cy="462.7" rx="3.3" ry="1.6" fill="#000" transform="rotate(-25 1933.1 462.7)"/>
<ellipse cx="1903.1" cy="461.1" rx="1.4" ry="1.3" fill="#000"/>
<ellipse cx="1818.6" cy="446.7" rx="2.4" ry="1.4" fill="#000" transform="rotate(35 1818.6 446.7)"/>
<polyline points="1828.8,449.0 1832.4,451.9 1834.7,453.6" fill="none" stroke="#000" stroke-width="2.6" stroke-linecap="round" stroke-linejoin="round"/>
<ellipse cx="1839.1" cy="450.9" rx="2.0" ry="2.6" fill="#000" transform="rotate(-30 1839.1 450.9)"/>
<ellipse cx="1847.9" cy="453.6" rx="2.2" ry="0.9" fill="#000" transform="rotate(15 1847.9 453.6)"/>
<ellipse cx="1858.2" cy="455.5" rx="3.0" ry="2.2" fill="#000"/>
<ellipse cx="1865.7" cy="455.7" rx="1.6" ry="1.3" fill="#000"/>
<ellipse cx="1885.1" cy="455.5" rx="2.2" ry="1.5" fill="#000" transform="rotate(25 1885.1 455.5)"/>
<ellipse cx="1875.8" cy="466.8" rx="2.5" ry="1.6" fill="#000"/>
<ellipse cx="1806.7" cy="448.3" rx="0.8" ry="1.6" fill="#6d7f9e"/>
<ellipse cx="1679.8" cy="360.3" rx="3.0" ry="1.6" fill="#000"/>
<ellipse cx="1696.1" cy="355.4" rx="3.1" ry="1.3" fill="#000" transform="rotate(-10 1696.1 355.4)"/>
<ellipse cx="1610.7" cy="345.6" rx="1.8" ry="3.0" fill="#000" transform="rotate(20 1610.7 345.6)"/>
<ellipse cx="1609.5" cy="401.9" rx="1.9" ry="1.4" fill="#000"/>
<polyline points="1613.0,399.3 1618.4,397.6 1623.2,396.9" fill="none" stroke="#000" stroke-width="2.4" stroke-linecap="round" stroke-linejoin="round"/>
<ellipse cx="1646.9" cy="385.0" rx="1.0" ry="1.0" fill="#000"/>
<ellipse cx="1604.7" cy="368.9" rx="1.0" ry="1.4" fill="#2a3446"/>
<ellipse cx="1602.8" cy="384.9" rx="1.0" ry="1.4" fill="#2a3446"/>
<ellipse cx="1601.8" cy="388.2" rx="1.0" ry="1.4" fill="#2a3446"/>
<ellipse cx="1599.2" cy="393.5" rx="1.0" ry="1.4" fill="#2a3446"/>
<ellipse cx="1594.4" cy="400.1" rx="1.0" ry="1.4" fill="#2a3446"/>
<ellipse cx="1615.5" cy="403.4" rx="1.0" ry="1.4" fill="#2a3446"/>
<ellipse cx="1654.3" cy="403.1" rx="1.0" ry="0.9" fill="#6f86ad"/>
<ellipse cx="1658.5" cy="406.7" rx="1.0" ry="0.9" fill="#6f86ad"/>
<ellipse cx="1665.4" cy="404.6" rx="1.0" ry="0.9" fill="#6f86ad"/>
<ellipse cx="1696.3" cy="405.5" rx="1.0" ry="0.9" fill="#6f86ad"/>
<ellipse cx="1711.4" cy="405.3" rx="1.0" ry="0.9" fill="#6f86ad"/>
<ellipse cx="1744.5" cy="385.0" rx="1.0" ry="0.9" fill="#6f86ad"/>
<ellipse cx="1756.5" cy="372.3" rx="1.0" ry="0.9" fill="#6f86ad"/>
<ellipse cx="1754.1" cy="325.2" rx="1.0" ry="0.9" fill="#6f86ad"/>
<ellipse cx="1770.9" cy="329.5" rx="1.0" ry="0.9" fill="#6f86ad"/>
<ellipse cx="1678.3" cy="436.4" rx="1.5" ry="1.5" fill="#000"/>
<ellipse cx="1674.1" cy="446.6" rx="1.4" ry="1.6" fill="#000"/>
<ellipse cx="1657.7" cy="450.9" rx="1.3" ry="1.4" fill="#27324a"/>
<ellipse cx="1662.7" cy="413.4" rx="1.8" ry="1.8" fill="#1c2436"/>
<ellipse cx="1660.1" cy="422.4" rx="2.2" ry="2.2" fill="#1c2436"/>
<ellipse cx="1662.7" cy="423.8" rx="2.0" ry="2.0" fill="#1c2436"/>
<ellipse cx="1661.1" cy="426.0" rx="1.4" ry="1.4" fill="#1c2436"/>
<ellipse cx="1658.5" cy="412.8" rx="1.0" ry="1.0" fill="#1c2436"/>
<ellipse cx="1653.1" cy="447.1" rx="1.6" ry="1.6" fill="#1c2436"/>
<ellipse cx="1690.9" cy="423.6" rx="1.1" ry="1.0" fill="#7e93b8"/>
<ellipse cx="1694.1" cy="433.7" rx="1.1" ry="1.0" fill="#7e93b8"/>
<ellipse cx="1657.3" cy="408.6" rx="1.1" ry="1.0" fill="#7e93b8"/>
<ellipse cx="1667.5" cy="509.7" rx="1.1" ry="1.0" fill="#7e93b8"/>
<ellipse cx="1647.1" cy="494.1" rx="1.1" ry="1.0" fill="#7e93b8"/>
<ellipse cx="1664.9" cy="504.6" rx="1.1" ry="1.0" fill="#7e93b8"/>
<ellipse cx="1707.3" cy="498.2" rx="2.4" ry="3.0" fill="#000"/>
<ellipse cx="1699.4" cy="494.6" rx="1.8" ry="1.8" fill="#000"/>
<polyline points="1754.1,308.6 1746.9,313.2 1745.5,319.2 1747.9,323.5" fill="none" stroke="#000" stroke-width="1.6" stroke-linecap="butt" stroke-linejoin="round" stroke-dasharray="3 1.2"/>
<polyline points="1754.1,308.6 1757.5,311.0 1758.7,313.4" fill="none" stroke="#000" stroke-width="2.2" stroke-linecap="round" stroke-linejoin="round"/>
<polyline points="1764.7,315.3 1768.8,316.1 1771.8,318.0" fill="none" stroke="#000" stroke-width="2.6" stroke-linecap="round" stroke-linejoin="round"/>
<polyline points="1763.0,324.0 1767.1,321.3 1769.9,319.2" fill="none" stroke="#000" stroke-width="2.0" stroke-linecap="round" stroke-linejoin="round"/>
<ellipse cx="1772.3" cy="311.0" rx="1.6" ry="0.9" fill="#000"/>
<ellipse cx="1774.5" cy="317.5" rx="1.3" ry="1.0" fill="#000"/>
<ellipse cx="1771.9" cy="311.4" rx="2.0" ry="1.2" fill="#000"/>
<ellipse cx="1770.5" cy="317.4" rx="1.6" ry="2.4" fill="#000"/>
<ellipse cx="1774.8" cy="317.7" rx="1.3" ry="1.1" fill="#000"/>
<polyline points="1779.6,319.9 1785.0,321.3" fill="none" stroke="#000" stroke-width="2.6" stroke-linecap="round" stroke-linejoin="round"/>
<polyline points="1788.0,329.7 1791.0,326.9 1794.6,325.9 1798.8,328.5 1799.4,331.4 1797.8,335.5" fill="none" stroke="#000" stroke-width="2.8" stroke-linecap="round" stroke-linejoin="round"/>
<ellipse cx="1804.2" cy="333.1" rx="1.2" ry="2.4" fill="#000" transform="rotate(20 1804.2 333.1)"/>
<polygon points="1772.4,337.9 1777.2,336.0 1781.4,331.9 1782.0,334.8 1778.4,338.4 1773.6,339.6" fill="#d2b48c" stroke="#000" stroke-width="2.0" stroke-linejoin="round" />
<polygon points="1772.6,338.6 1776.6,336.7 1781.4,336.0 1781.4,339.1 1776.6,339.8" fill="#d2b48c" stroke="#000" stroke-width="2.0" stroke-linejoin="round" />
<polygon points="1775.7,355.4 1780.0,353.0 1782.6,353.5 1782.6,356.4 1777.8,356.8" fill="#d2b48c" stroke="#000" stroke-width="2.0" stroke-linejoin="round" />
<ellipse cx="1778.4" cy="365.7" rx="2.2" ry="1.6" fill="#000"/>
</g>
<rect x="1583.9" y="306.2" width="382.8" height="209.7" fill="none" stroke="#000" stroke-width="1.7"/>
<path d="M1634.8 306.2v-8.5M1634.8 515.9v8.5M1696.1 306.2v-8.5M1696.1 515.9v8.5M1757.4 306.2v-8.5M1757.4 515.9v8.5M1818.7 306.2v-8.5M1818.7 515.9v8.5M1880.0 306.2v-8.5M1880.0 515.9v8.5M1941.3 306.2v-8.5M1941.3 515.9v8.5M1583.9 478.5h-8.5M1966.7 478.5h8.5M1583.9 416.2h-8.5M1966.7 416.2h8.5M1583.9 352.4h-8.5M1966.7 352.4h8.5" stroke="#000" stroke-width="3.1" fill="none"/>
<path d="M1585.7 306.2v-3.4M1585.7 515.9v3.4M1598.0 306.2v-3.4M1598.0 515.9v3.4M1610.2 306.2v-3.4M1610.2 515.9v3.4M1622.5 306.2v-3.4M1622.5 515.9v3.4M1647.0 306.2v-3.4M1647.0 515.9v3.4M1659.3 306.2v-3.4M1659.3 515.9v3.4M1671.5 306.2v-3.4M1671.5 515.9v3.4M1683.8 306.2v-3.4M1683.8 515.9v3.4M1708.3 306.2v-3.4M1708.3 515.9v3.4M1720.6 306.2v-3.4M1720.6 515.9v3.4M1732.8 306.2v-3.4M1732.8 515.9v3.4M1745.1 306.2v-3.4M1745.1 515.9v3.4M1769.6 306.2v-3.4M1769.6 515.9v3.4M1781.9 306.2v-3.4M1781.9 515.9v3.4M1794.2 306.2v-3.4M1794.2 515.9v3.4M1806.4 306.2v-3.4M1806.4 515.9v3.4M1830.9 306.2v-3.4M1830.9 515.9v3.4M1843.2 306.2v-3.4M1843.2 515.9v3.4M1855.5 306.2v-3.4M1855.5 515.9v3.4M1867.7 306.2v-3.4M1867.7 515.9v3.4M1892.3 306.2v-3.4M1892.3 515.9v3.4M1904.5 306.2v-3.4M1904.5 515.9v3.4M1916.8 306.2v-3.4M1916.8 515.9v3.4M1929.0 306.2v-3.4M1929.0 515.9v3.4M1953.6 306.2v-3.4M1953.6 515.9v3.4M1965.8 306.2v-3.4M1965.8 515.9v3.4M1583.9 515.4h-3.4M1966.7 515.4h3.4M1583.9 503.1h-3.4M1966.7 503.1h3.4M1583.9 490.8h-3.4M1966.7 490.8h3.4M1583.9 466.1h-3.4M1966.7 466.1h3.4M1583.9 453.7h-3.4M1966.7 453.7h3.4M1583.9 441.3h-3.4M1966.7 441.3h3.4M1583.9 428.8h-3.4M1966.7 428.8h3.4M1583.9 403.6h-3.4M1966.7 403.6h3.4M1583.9 390.9h-3.4M1966.7 390.9h3.4M1583.9 378.1h-3.4M1966.7 378.1h3.4M1583.9 365.3h-3.4M1966.7 365.3h3.4M1583.9 339.4h-3.4M1966.7 339.4h3.4M1583.9 326.3h-3.4M1966.7 326.3h3.4M1583.9 313.2h-3.4M1966.7 313.2h3.4" stroke="#000" stroke-width="1.5" fill="none"/>
<text x="1569.00" y="361.90" font-size="23.62" text-anchor="end" fill="#000" textLength="56.71" lengthAdjust="spacingAndGlyphs" >20°N</text>
<text x="1569.00" y="425.69" font-size="23.62" text-anchor="end" fill="#000" textLength="56.71" lengthAdjust="spacingAndGlyphs" >15°N</text>
<text x="1569.00" y="488.00" font-size="23.62" text-anchor="end" fill="#000" textLength="56.71" lengthAdjust="spacingAndGlyphs" >10°N</text>
<text x="1632.25" y="568.60" font-size="23.62" text-anchor="middle" fill="#000" textLength="62.13" lengthAdjust="spacingAndGlyphs" transform="rotate(-45 1632.25 560.40)" >85°W</text>
<text x="1693.56" y="568.60" font-size="23.62" text-anchor="middle" fill="#000" textLength="62.13" lengthAdjust="spacingAndGlyphs" transform="rotate(-45 1693.56 560.40)" >80°W</text>
<text x="1754.87" y="568.60" font-size="23.62" text-anchor="middle" fill="#000" textLength="62.13" lengthAdjust="spacingAndGlyphs" transform="rotate(-45 1754.87 560.40)" >75°W</text>
<text x="1816.18" y="568.60" font-size="23.62" text-anchor="middle" fill="#000" textLength="62.13" lengthAdjust="spacingAndGlyphs" transform="rotate(-45 1816.18 560.40)" >70°W</text>
<text x="1877.49" y="568.60" font-size="23.62" text-anchor="middle" fill="#000" textLength="62.13" lengthAdjust="spacingAndGlyphs" transform="rotate(-45 1877.49 560.40)" >65°W</text>
<text x="1938.80" y="568.60" font-size="23.62" text-anchor="middle" fill="#000" textLength="62.13" lengthAdjust="spacingAndGlyphs" transform="rotate(-45 1938.80 560.40)" >60°W</text>
<circle cx="1855.4" cy="387.4" r="4.4" fill="#ff0000" stroke="#000" stroke-width="1.6"/>
<rect x="1693.2" y="637.0" width="165.0" height="143.4" rx="4.2" ry="4.2" fill="#fff" stroke="#cccccc" stroke-width="1.7"/>
<path d="M1701.1 656.2H1748.7" stroke="#0000ff" stroke-width="3.1" fill="none"/>
<circle cx="1724.9" cy="656.2" r="6.25" fill="#0000ff"/>
<text x="1766.00" y="664.70" font-size="23.10" text-anchor="start" fill="#000" textLength="73.00" lengthAdjust="spacingAndGlyphs" >SG678</text>
<path d="M1701.1 690.4H1748.7" stroke="#ff0000" stroke-width="3.1" fill="none"/>
<circle cx="1724.9" cy="690.4" r="6.25" fill="#ff0000"/>
<text x="1766.00" y="698.90" font-size="23.10" text-anchor="start" fill="#000" textLength="70.67" lengthAdjust="spacingAndGlyphs" >RTOFS</text>
<path d="M1701.1 725.3H1748.7" stroke="#008000" stroke-width="3.1" fill="none"/>
<circle cx="1724.9" cy="725.3" r="6.25" fill="#008000"/>
<text x="1766.00" y="733.30" font-size="23.10" text-anchor="start" fill="#000" textLength="56.50" lengthAdjust="spacingAndGlyphs" >ESPC</text>
<path d="M1701.1 759.2H1748.7" stroke="#ff00ff" stroke-width="3.1" fill="none"/>
<circle cx="1724.9" cy="759.2" r="6.25" fill="#ff00ff"/>
<text x="1766.00" y="767.60" font-size="23.10" text-anchor="start" fill="#000" textLength="81.19" lengthAdjust="spacingAndGlyphs" >CMEMS</text>
</svg>
</body></html>
